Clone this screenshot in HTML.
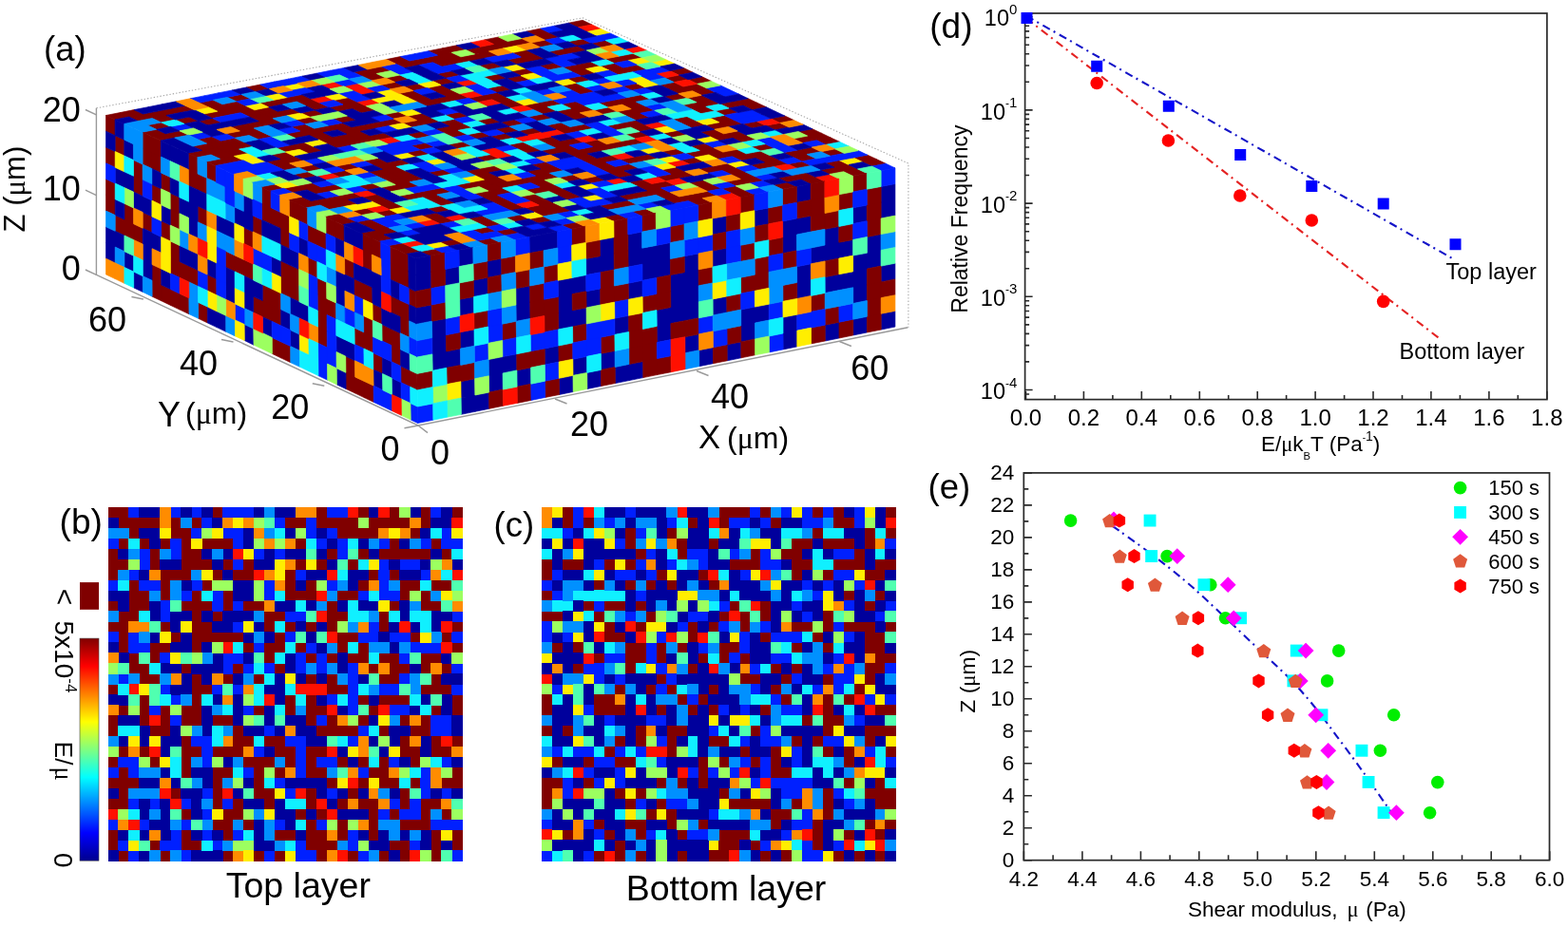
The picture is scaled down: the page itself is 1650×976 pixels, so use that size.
<!DOCTYPE html><html><head><meta charset="utf-8"><title>Figure</title><style>html,body{margin:0;padding:0;background:#fff;overflow:hidden}svg{display:block}</style></head><body><svg width="1650" height="976" viewBox="0 0 1650 976" font-family='"Liberation Sans", Arial, sans-serif' fill="#000">
<rect width="1650" height="976" fill="#fff"/>
<polyline points="101.5,113.8 613,18.8 955.9,172 955.9,344.7" fill="none" stroke="#a8a8a8" stroke-width="1.1" stroke-dasharray="1.4,2"/>
<path fill="#800000" stroke="#800000" stroke-width="0.7" stroke-linejoin="round" d="M613.1 21.3L622.8 25.9L608.0 28.8L598.3 24.2zM719.5 71.6L729.1 76.2L714.4 79.1L704.7 74.5zM738.8 80.8L748.5 85.4L733.7 88.3L724.0 83.7zM787.2 103.7L796.8 108.3L782.0 111.1L772.4 106.5zM796.8 108.3L806.5 112.8L791.7 115.7L782.0 111.1zM825.9 122.0L835.5 126.6L820.7 129.4L811.0 124.8zM854.9 135.7L864.5 140.3L849.7 143.1L840.0 138.5zM864.5 140.3L874.2 144.9L859.4 147.7L849.7 143.1zM874.2 144.9L883.9 149.4L869.0 152.3L859.4 147.7zM912.9 163.2L922.6 167.7L907.7 170.6L898.0 166.0zM922.6 167.7L932.2 172.3L917.4 175.1L907.7 170.6zM637.0 42.5L646.7 47.1L631.9 50.0L622.3 45.5zM666.0 56.3L675.7 60.8L660.9 63.7L651.2 59.2zM714.4 79.1L724.0 83.7L709.2 86.6L699.6 82.0zM733.7 88.3L743.4 92.8L728.6 95.7L718.9 91.1zM743.4 92.8L753.0 97.4L738.2 100.3L728.6 95.7zM772.4 106.5L782.0 111.1L767.2 114.0L757.6 109.4zM820.7 129.4L830.4 134.0L815.6 136.8L805.9 132.2zM849.7 143.1L859.4 147.7L844.5 150.5L834.9 146.0zM878.7 156.8L888.4 161.4L873.5 164.2L863.9 159.7zM612.6 40.9L622.3 45.5L607.5 48.4L597.8 43.8zM651.2 59.2L660.9 63.7L646.1 66.6L636.5 62.1zM670.6 68.3L680.2 72.9L665.5 75.8L655.8 71.2zM709.2 86.6L718.9 91.1L704.1 94.0L694.4 89.5zM718.9 91.1L728.6 95.7L713.8 98.6L704.1 94.0zM738.2 100.3L747.9 104.8L733.1 107.7L723.4 103.2zM747.9 104.8L757.6 109.4L742.8 112.3L733.1 107.7zM767.2 114.0L776.9 118.5L762.1 121.4L752.4 116.8zM796.2 127.7L805.9 132.2L791.1 135.1L781.4 130.5zM854.2 155.1L863.9 159.7L849.0 162.5L839.4 157.9zM883.2 168.8L892.9 173.4L878.0 176.2L868.4 171.6zM892.9 173.4L902.5 177.9L887.7 180.7L878.0 176.2zM902.5 177.9L912.2 182.5L897.3 185.3L887.7 180.7zM568.8 30.1L578.5 34.7L563.7 37.6L554.1 33.1zM578.5 34.7L588.2 39.3L573.4 42.2L563.7 37.6zM607.5 48.4L617.2 53.0L602.4 55.9L592.7 51.3zM646.1 66.6L655.8 71.2L641.0 74.1L631.4 69.6zM655.8 71.2L665.5 75.8L650.7 78.7L641.0 74.1zM713.8 98.6L723.4 103.2L708.6 106.0L699.0 101.5zM733.1 107.7L742.8 112.3L728.0 115.1L718.3 110.6zM742.8 112.3L752.4 116.8L737.6 119.7L728.0 115.1zM762.1 121.4L771.7 126.0L756.9 128.8L747.3 124.3zM771.7 126.0L781.4 130.5L766.6 133.4L756.9 128.8zM839.4 157.9L849.0 162.5L834.2 165.3L824.5 160.7zM849.0 162.5L858.7 167.0L843.9 169.9L834.2 165.3zM878.0 176.2L887.7 180.7L872.8 183.5L863.2 179.0zM573.4 42.2L583.1 46.8L568.3 49.7L558.6 45.1zM592.7 51.3L602.4 55.9L587.6 58.8L578.0 54.3zM621.7 65.0L631.4 69.6L616.6 72.5L606.9 67.9zM670.0 87.8L679.7 92.4L664.9 95.2L655.2 90.7zM756.9 128.8L766.6 133.4L751.8 136.2L742.1 131.7zM776.2 137.9L785.9 142.5L771.1 145.3L761.4 140.8zM785.9 142.5L795.6 147.1L780.7 149.9L771.1 145.3zM805.2 151.6L814.9 156.2L800.1 159.0L790.4 154.4zM843.9 169.9L853.5 174.4L838.7 177.2L829.0 172.7zM549.0 40.6L558.6 45.1L543.9 48.1L534.2 43.5zM606.9 67.9L616.6 72.5L601.8 75.4L592.2 70.8zM616.6 72.5L626.2 77.0L611.5 79.9L601.8 75.4zM674.5 99.8L684.2 104.4L669.4 107.2L659.7 102.7zM722.8 122.6L732.5 127.1L717.7 130.0L708.0 125.4zM732.5 127.1L742.1 131.7L727.3 134.5L717.7 130.0zM751.8 136.2L761.4 140.8L746.6 143.6L737.0 139.1zM761.4 140.8L771.1 145.3L756.3 148.2L746.6 143.6zM800.1 159.0L809.7 163.6L794.9 166.4L785.2 161.8zM809.7 163.6L819.4 168.1L804.5 170.9L794.9 166.4zM819.4 168.1L829.0 172.7L814.2 175.5L804.5 170.9zM848.3 181.8L858.0 186.3L843.1 189.1L833.5 184.6zM858.0 186.3L867.6 190.9L852.8 193.7L843.1 189.1zM524.6 39.0L534.2 43.5L519.5 46.5L509.8 41.9zM534.2 43.5L543.9 48.1L529.1 51.0L519.5 46.5zM553.5 52.6L563.2 57.2L548.4 60.1L538.8 55.6zM563.2 57.2L572.8 61.7L558.1 64.7L548.4 60.1zM582.5 66.3L592.2 70.8L577.4 73.7L567.7 69.2zM611.5 79.9L621.1 84.5L606.3 87.4L596.7 82.8zM659.7 102.7L669.4 107.2L654.6 110.1L644.9 105.6zM669.4 107.2L679.0 111.8L664.2 114.7L654.6 110.1zM679.0 111.8L688.7 116.3L673.9 119.2L664.2 114.7zM775.6 157.3L785.2 161.8L770.4 164.7L760.7 160.1zM785.2 161.8L794.9 166.4L780.0 169.2L770.4 164.7zM804.5 170.9L814.2 175.5L799.3 178.3L789.7 173.8zM833.5 184.6L843.1 189.1L828.3 191.9L818.6 187.4zM519.5 46.5L529.1 51.0L514.4 54.0L504.7 49.4zM548.4 60.1L558.1 64.7L543.3 67.6L533.7 63.0zM606.3 87.4L616.0 91.9L601.2 94.8L591.6 90.3zM616.0 91.9L625.6 96.5L610.8 99.4L601.2 94.8zM644.9 105.6L654.6 110.1L639.8 113.0L630.1 108.5zM664.2 114.7L673.9 119.2L659.1 122.1L649.4 117.5zM673.9 119.2L683.5 123.8L668.7 126.6L659.1 122.1zM712.5 137.4L722.1 141.9L707.3 144.8L697.7 140.2zM741.4 151.0L751.1 155.6L736.3 158.4L726.6 153.9zM751.1 155.6L760.7 160.1L745.9 162.9L736.3 158.4zM760.7 160.1L770.4 164.7L755.6 167.5L745.9 162.9zM828.3 191.9L838.0 196.5L823.1 199.3L813.5 194.7zM504.7 49.4L514.4 54.0L499.6 56.9L490.0 52.4zM514.4 54.0L524.0 58.5L509.3 61.4L499.6 56.9zM553.0 72.1L562.6 76.7L547.8 79.6L538.2 75.0zM639.8 113.0L649.4 117.5L634.6 120.4L625.0 115.9zM668.7 126.6L678.4 131.2L663.6 134.0L653.9 129.5zM678.4 131.2L688.0 135.7L673.2 138.6L663.6 134.0zM736.3 158.4L745.9 162.9L731.1 165.8L721.4 161.2zM765.2 172.0L774.9 176.6L760.0 179.4L750.4 174.9zM774.9 176.6L784.5 181.1L769.7 183.9L760.0 179.4zM784.5 181.1L794.2 185.7L779.3 188.5L769.7 183.9zM794.2 185.7L803.8 190.2L789.0 193.0L779.3 188.5zM480.3 47.8L490.0 52.4L475.2 55.3L465.6 50.8zM499.6 56.9L509.3 61.4L494.5 64.4L484.9 59.8zM518.9 66.0L528.5 70.5L513.8 73.4L504.1 68.9zM547.8 79.6L557.5 84.1L542.7 87.0L533.1 82.5zM605.7 106.8L615.4 111.3L600.6 114.2L590.9 109.7zM615.4 111.3L625.0 115.9L610.2 118.8L600.6 114.2zM653.9 129.5L663.6 134.0L648.8 136.9L639.1 132.4zM673.2 138.6L682.9 143.1L668.1 145.9L658.4 141.4zM711.8 156.7L721.4 161.2L706.6 164.1L697.0 159.5zM731.1 165.8L740.7 170.3L725.9 173.1L716.3 168.6zM750.4 174.9L760.0 179.4L745.2 182.2L735.5 177.7zM779.3 188.5L789.0 193.0L774.1 195.8L764.5 191.3zM465.6 50.8L475.2 55.3L460.5 58.2L450.8 53.7zM475.2 55.3L484.9 59.8L470.1 62.8L460.5 58.2zM484.9 59.8L494.5 64.4L479.7 67.3L470.1 62.8zM523.4 78.0L533.1 82.5L518.3 85.4L508.7 80.9zM581.3 105.2L590.9 109.7L576.1 112.6L566.5 108.1zM600.6 114.2L610.2 118.8L595.4 121.6L585.8 117.1zM610.2 118.8L619.8 123.3L605.0 126.2L595.4 121.6zM668.1 145.9L677.7 150.5L662.9 153.3L653.2 148.8zM774.1 195.8L783.8 200.3L768.9 203.1L759.3 198.6zM783.8 200.3L793.4 204.9L778.6 207.7L768.9 203.1zM460.5 58.2L470.1 62.8L455.3 65.7L445.7 61.2zM470.1 62.8L479.7 67.3L465.0 70.2L455.3 65.7zM527.9 89.9L537.6 94.5L522.8 97.4L513.2 92.9zM566.5 108.1L576.1 112.6L561.3 115.5L551.7 110.9zM576.1 112.6L585.8 117.1L571.0 120.0L561.3 115.5zM614.7 130.7L624.3 135.2L609.5 138.1L599.9 133.6zM653.2 148.8L662.9 153.3L648.1 156.2L638.4 151.7zM682.2 162.4L691.8 166.9L677.0 169.8L667.3 165.2zM711.1 176.0L720.7 180.5L705.9 183.3L696.2 178.8zM720.7 180.5L730.4 185.0L715.5 187.8L705.9 183.3zM740.0 189.6L749.6 194.1L734.8 196.9L725.2 192.4zM749.6 194.1L759.3 198.6L744.4 201.4L734.8 196.9zM445.7 61.2L455.3 65.7L440.6 68.6L430.9 64.1zM474.6 74.8L484.2 79.3L469.5 82.2L459.8 77.7zM522.8 97.4L532.4 101.9L517.6 104.8L508.0 100.3zM532.4 101.9L542.1 106.4L527.3 109.3L517.6 104.8zM542.1 106.4L551.7 110.9L536.9 113.8L527.3 109.3zM571.0 120.0L580.6 124.5L565.8 127.4L556.2 122.9zM590.2 129.0L599.9 133.6L585.1 136.4L575.4 131.9zM599.9 133.6L609.5 138.1L594.7 141.0L585.1 136.4zM628.8 147.1L638.4 151.7L623.6 154.5L614.0 150.0zM638.4 151.7L648.1 156.2L633.2 159.0L623.6 154.5zM667.3 165.2L677.0 169.8L662.1 172.6L652.5 168.1zM705.9 183.3L715.5 187.8L700.7 190.7L691.0 186.1zM744.4 201.4L754.1 205.9L739.2 208.7L729.6 204.2zM421.3 59.6L430.9 64.1L416.2 67.1L406.6 62.6zM430.9 64.1L440.6 68.6L425.8 71.6L416.2 67.1zM469.5 82.2L479.1 86.7L464.3 89.6L454.7 85.1zM508.0 100.3L517.6 104.8L502.9 107.7L493.2 103.2zM604.3 145.5L614.0 150.0L599.2 152.9L589.5 148.3zM623.6 154.5L633.2 159.0L618.4 161.9L608.8 157.4zM642.9 163.6L652.5 168.1L637.7 170.9L628.1 166.4zM662.1 172.6L671.8 177.1L657.0 179.9L647.3 175.4zM700.7 190.7L710.3 195.2L695.5 198.0L685.8 193.5zM729.6 204.2L739.2 208.7L724.4 211.5L714.7 207.0zM739.2 208.7L748.8 213.3L734.0 216.1L724.4 211.5zM464.3 89.6L474.0 94.2L459.2 97.1L449.6 92.6zM474.0 94.2L483.6 98.7L468.8 101.6L459.2 97.1zM483.6 98.7L493.2 103.2L478.5 106.1L468.8 101.6zM541.4 125.8L551.0 130.3L536.2 133.2L526.6 128.7zM560.6 134.8L570.3 139.3L555.5 142.2L545.9 137.7zM579.9 143.8L589.5 148.3L574.7 151.2L565.1 146.7zM589.5 148.3L599.2 152.9L584.4 155.7L574.7 151.2zM599.2 152.9L608.8 157.4L594.0 160.2L584.4 155.7zM608.8 157.4L618.4 161.9L603.6 164.7L594.0 160.2zM618.4 161.9L628.1 166.4L613.2 169.2L603.6 164.7zM628.1 166.4L637.7 170.9L622.9 173.8L613.2 169.2zM637.7 170.9L647.3 175.4L632.5 178.3L622.9 173.8zM647.3 175.4L657.0 179.9L642.1 182.8L632.5 178.3zM657.0 179.9L666.6 184.5L651.8 187.3L642.1 182.8zM676.2 189.0L685.8 193.5L671.0 196.3L661.4 191.8zM685.8 193.5L695.5 198.0L680.6 200.8L671.0 196.3zM695.5 198.0L705.1 202.5L690.3 205.3L680.6 200.8zM705.1 202.5L714.7 207.0L699.9 209.8L690.3 205.3zM714.7 207.0L724.4 211.5L709.5 214.3L699.9 209.8zM401.4 70.0L411.1 74.5L396.3 77.5L386.7 73.0zM420.7 79.0L430.3 83.5L415.6 86.5L405.9 82.0zM439.9 88.1L449.6 92.6L434.8 95.5L425.2 91.0zM468.8 101.6L478.5 106.1L463.7 109.0L454.1 104.5zM517.0 124.1L526.6 128.7L511.8 131.5L502.2 127.0zM536.2 133.2L545.9 137.7L531.1 140.5L521.4 136.0zM584.4 155.7L594.0 160.2L579.2 163.1L569.6 158.6zM680.6 200.8L690.3 205.3L675.4 208.1L665.8 203.6zM386.7 73.0L396.3 77.5L381.5 80.4L371.9 75.9zM396.3 77.5L405.9 82.0L391.2 84.9L381.5 80.4zM415.6 86.5L425.2 91.0L410.4 93.9L400.8 89.4zM434.8 95.5L444.4 100.0L429.7 102.9L420.0 98.4zM444.4 100.0L454.1 104.5L439.3 107.4L429.7 102.9zM454.1 104.5L463.7 109.0L448.9 111.9L439.3 107.4zM482.9 118.0L492.6 122.5L477.8 125.4L468.1 120.9zM531.1 140.5L540.7 145.1L525.9 147.9L516.3 143.4zM550.3 149.6L559.9 154.1L545.1 156.9L535.5 152.4zM559.9 154.1L569.6 158.6L554.7 161.4L545.1 156.9zM627.3 185.6L636.9 190.1L622.1 192.9L612.5 188.4zM665.8 203.6L675.4 208.1L660.6 210.9L651.0 206.4zM477.8 125.4L487.4 129.9L472.6 132.8L463.0 128.3zM487.4 129.9L497.0 134.4L482.2 137.3L472.6 132.8zM506.6 138.9L516.3 143.4L501.5 146.3L491.8 141.8zM574.0 170.4L583.6 174.9L568.8 177.8L559.2 173.3zM583.6 174.9L593.2 179.4L578.4 182.3L568.8 177.8zM602.9 183.9L612.5 188.4L597.6 191.3L588.0 186.8zM660.6 210.9L670.2 215.4L655.4 218.3L645.7 213.8zM679.8 219.9L689.5 224.4L674.6 227.2L665.0 222.8zM443.7 119.3L453.4 123.8L438.6 126.7L429.0 122.2zM453.4 123.8L463.0 128.3L448.2 131.2L438.6 126.7zM472.6 132.8L482.2 137.3L467.4 140.2L457.8 135.7zM482.2 137.3L491.8 141.8L477.0 144.7L467.4 140.2zM568.8 177.8L578.4 182.3L563.6 185.1L554.0 180.6zM578.4 182.3L588.0 186.8L573.2 189.6L563.6 185.1zM645.7 213.8L655.4 218.3L640.5 221.1L630.9 216.6zM419.3 117.7L429.0 122.2L414.2 125.1L404.6 120.6zM438.6 126.7L448.2 131.2L433.4 134.1L423.8 129.6zM486.7 149.2L496.3 153.7L481.5 156.5L471.9 152.1zM515.5 162.7L525.1 167.1L510.3 170.0L500.7 165.5zM563.6 185.1L573.2 189.6L558.4 192.4L548.8 188.0zM573.2 189.6L582.8 194.1L568.0 196.9L558.4 192.4zM582.8 194.1L592.4 198.6L577.6 201.4L568.0 196.9zM592.4 198.6L602.1 203.1L587.2 205.9L577.6 201.4zM602.1 203.1L611.7 207.6L596.8 210.4L587.2 205.9zM650.1 225.6L659.8 230.0L644.9 232.8L635.3 228.4zM366.1 102.7L375.7 107.2L361.0 110.1L351.3 105.6zM375.7 107.2L385.3 111.7L370.6 114.6L361.0 110.1zM385.3 111.7L394.9 116.1L380.2 119.1L370.6 114.6zM414.2 125.1L423.8 129.6L409.0 132.5L399.4 128.0zM443.0 138.6L452.6 143.1L437.8 146.0L428.2 141.5zM519.9 174.5L529.5 179.0L514.7 181.8L505.1 177.3zM548.8 188.0L558.4 192.4L543.6 195.3L533.9 190.8zM568.0 196.9L577.6 201.4L562.8 204.3L553.2 199.8zM361.0 110.1L370.6 114.6L355.8 117.5L346.2 113.0zM399.4 128.0L409.0 132.5L394.2 135.4L384.6 130.9zM447.4 150.4L457.1 154.9L442.3 157.8L432.7 153.3zM505.1 177.3L514.7 181.8L499.9 184.7L490.3 180.2zM514.7 181.8L524.3 186.3L509.5 189.2L499.9 184.7zM524.3 186.3L533.9 190.8L519.1 193.6L509.5 189.2zM533.9 190.8L543.6 195.3L528.7 198.1L519.1 193.6zM562.8 204.3L572.4 208.7L557.6 211.6L547.9 207.1zM572.4 208.7L582.0 213.2L567.2 216.0L557.6 211.6zM582.0 213.2L591.6 217.7L576.8 220.5L567.2 216.0zM591.6 217.7L601.2 222.2L586.4 225.0L576.8 220.5zM317.4 99.6L327.0 104.1L312.2 107.0L302.6 102.5zM327.0 104.1L336.6 108.5L321.8 111.5L312.2 107.0zM336.6 108.5L346.2 113.0L331.4 115.9L321.8 111.5zM365.4 122.0L375.0 126.5L360.2 129.4L350.6 124.9zM384.6 130.9L394.2 135.4L379.4 138.3L369.8 133.8zM403.8 139.9L413.4 144.4L398.6 147.3L389.0 142.8zM442.3 157.8L451.9 162.3L437.1 165.2L427.5 160.7zM509.5 189.2L519.1 193.6L504.3 196.5L494.7 192.0zM519.1 193.6L528.7 198.1L513.9 201.0L504.3 196.5zM528.7 198.1L538.3 202.6L523.5 205.4L513.9 201.0zM567.2 216.0L576.8 220.5L561.9 223.3L552.3 218.9zM576.8 220.5L586.4 225.0L571.5 227.8L561.9 223.3zM605.6 234.0L615.2 238.4L600.3 241.2L590.7 236.8zM273.8 89.1L283.4 93.6L268.6 96.5L259.0 92.0zM302.6 102.5L312.2 107.0L297.4 109.9L287.8 105.4zM331.4 115.9L341.0 120.4L326.2 123.3L316.6 118.9zM360.2 129.4L369.8 133.8L355.1 136.7L345.4 132.3zM369.8 133.8L379.4 138.3L364.7 141.2L355.1 136.7zM379.4 138.3L389.0 142.8L374.3 145.7L364.7 141.2zM389.0 142.8L398.6 147.3L383.9 150.1L374.3 145.7zM465.9 178.6L475.5 183.1L460.7 185.9L451.1 181.4zM494.7 192.0L504.3 196.5L489.5 199.3L479.9 194.9zM513.9 201.0L523.5 205.4L508.7 208.3L499.1 203.8zM523.5 205.4L533.1 209.9L518.3 212.7L508.7 208.3zM533.1 209.9L542.7 214.4L527.9 217.2L518.3 212.7zM542.7 214.4L552.3 218.9L537.5 221.7L527.9 217.2zM571.5 227.8L581.1 232.3L566.3 235.1L556.7 230.6zM287.8 105.4L297.4 109.9L282.7 112.8L273.1 108.4zM307.0 114.4L316.6 118.9L301.9 121.8L292.3 117.3zM326.2 123.3L335.8 127.8L321.1 130.7L311.5 126.2zM345.4 132.3L355.1 136.7L340.3 139.6L330.7 135.2zM364.7 141.2L374.3 145.7L359.5 148.6L349.9 144.1zM374.3 145.7L383.9 150.1L369.1 153.0L359.5 148.6zM422.3 168.0L431.9 172.5L417.1 175.4L407.5 170.9zM547.1 226.1L556.7 230.6L541.9 233.4L532.3 229.0zM253.9 99.4L263.5 103.9L248.7 106.8L239.1 102.4zM282.7 112.8L292.3 117.3L277.5 120.2L267.9 115.8zM292.3 117.3L301.9 121.8L287.1 124.7L277.5 120.2zM321.1 130.7L330.7 135.2L315.9 138.1L306.3 133.6zM330.7 135.2L340.3 139.6L325.5 142.5L315.9 138.1zM340.3 139.6L349.9 144.1L335.1 147.0L325.5 142.5zM349.9 144.1L359.5 148.6L344.7 151.5L335.1 147.0zM359.5 148.6L369.1 153.0L354.3 155.9L344.7 151.5zM397.9 166.4L407.5 170.9L392.7 173.8L383.1 169.3zM407.5 170.9L417.1 175.4L402.3 178.2L392.7 173.8zM417.1 175.4L426.7 179.8L411.9 182.7L402.3 178.2zM426.7 179.8L436.3 184.3L421.5 187.2L411.9 182.7zM436.3 184.3L445.9 188.8L431.0 191.6L421.5 187.2zM465.1 197.7L474.7 202.2L459.8 205.0L450.2 200.5zM248.7 106.8L258.3 111.3L243.6 114.2L234.0 109.8zM258.3 111.3L267.9 115.8L253.1 118.7L243.6 114.2zM267.9 115.8L277.5 120.2L262.7 123.2L253.1 118.7zM277.5 120.2L287.1 124.7L272.3 127.6L262.7 123.2zM287.1 124.7L296.7 129.2L281.9 132.1L272.3 127.6zM315.9 138.1L325.5 142.5L310.7 145.4L301.1 141.0zM402.3 178.2L411.9 182.7L397.0 185.6L387.5 181.1zM411.9 182.7L421.5 187.2L406.6 190.0L397.0 185.6zM421.5 187.2L431.0 191.6L416.2 194.5L406.6 190.0zM431.0 191.6L440.6 196.1L425.8 198.9L416.2 194.5zM450.2 200.5L459.8 205.0L445.0 207.8L435.4 203.4zM459.8 205.0L469.4 209.5L454.6 212.3L445.0 207.8zM469.4 209.5L479.0 213.9L464.2 216.8L454.6 212.3zM507.8 227.3L517.4 231.8L502.6 234.6L493.0 230.1zM517.4 231.8L527.0 236.2L512.2 239.0L502.6 234.6zM536.6 240.7L546.2 245.2L531.4 248.0L521.8 243.5zM224.4 105.3L234.0 109.8L219.2 112.7L209.6 108.3zM234.0 109.8L243.6 114.2L228.8 117.2L219.2 112.7zM243.6 114.2L253.1 118.7L238.4 121.6L228.8 117.2zM272.3 127.6L281.9 132.1L267.2 135.0L257.6 130.5zM320.3 149.9L329.9 154.4L315.1 157.3L305.5 152.8zM329.9 154.4L339.5 158.8L324.7 161.7L315.1 157.3zM368.3 172.2L377.9 176.6L363.1 179.5L353.5 175.1zM416.2 194.5L425.8 198.9L411.0 201.8L401.4 197.3zM435.4 203.4L445.0 207.8L430.2 210.7L420.6 206.2zM464.2 216.8L473.8 221.2L459.0 224.0L449.4 219.6zM512.2 239.0L521.8 243.5L506.9 246.3L497.3 241.9zM228.8 117.2L238.4 121.6L223.6 124.6L214.0 120.1zM257.6 130.5L267.2 135.0L252.4 137.9L242.8 133.5zM267.2 135.0L276.7 139.4L262.0 142.4L252.4 137.9zM276.7 139.4L286.3 143.9L271.6 146.8L262.0 142.4zM305.5 152.8L315.1 157.3L300.3 160.1L290.7 155.7zM363.1 179.5L372.6 184.0L357.8 186.8L348.3 182.4zM391.8 192.9L401.4 197.3L386.6 200.2L377.0 195.7zM459.0 224.0L468.6 228.5L453.7 231.3L444.1 226.9zM468.6 228.5L478.1 233.0L463.3 235.8L453.7 231.3zM516.5 250.8L526.1 255.2L511.2 258.0L501.7 253.6zM194.9 111.2L204.4 115.7L189.7 118.6L180.1 114.2zM223.6 124.6L233.2 129.0L218.4 131.9L208.9 127.5zM252.4 137.9L262.0 142.4L247.2 145.3L237.6 140.8zM300.3 160.1L309.9 164.6L295.1 167.5L285.5 163.0zM309.9 164.6L319.5 169.0L304.7 171.9L295.1 167.5zM329.1 173.5L338.7 177.9L323.9 180.8L314.3 176.4zM396.2 204.6L405.8 209.1L391.0 211.9L381.4 207.5zM405.8 209.1L415.4 213.5L400.6 216.4L391.0 211.9zM415.4 213.5L425.0 218.0L410.1 220.8L400.6 216.4zM180.1 114.2L189.7 118.6L174.9 121.5L165.3 117.1zM199.3 123.0L208.9 127.5L194.1 130.4L184.5 126.0zM247.2 145.3L256.8 149.7L242.0 152.6L232.4 148.2zM256.8 149.7L266.4 154.2L251.6 157.1L242.0 152.6zM295.1 167.5L304.7 171.9L289.9 174.8L280.3 170.4zM304.7 171.9L314.3 176.4L299.5 179.3L289.9 174.8zM323.9 180.8L333.5 185.3L318.7 188.1L309.1 183.7zM352.6 194.2L362.2 198.6L347.4 201.5L337.8 197.0zM371.8 203.0L381.4 207.5L366.6 210.3L357.0 205.9zM410.1 220.8L419.7 225.3L404.9 228.1L395.3 223.7zM477.2 251.9L486.8 256.4L472.0 259.2L462.4 254.7zM165.3 117.1L174.9 121.5L160.2 124.5L150.6 120.0zM174.9 121.5L184.5 126.0L169.7 128.9L160.2 124.5zM222.8 143.7L232.4 148.2L217.6 151.1L208.1 146.7zM232.4 148.2L242.0 152.6L227.2 155.5L217.6 151.1zM242.0 152.6L251.6 157.1L236.8 160.0L227.2 155.5zM251.6 157.1L261.2 161.5L246.4 164.4L236.8 160.0zM328.2 192.6L337.8 197.0L323.0 199.9L313.4 195.4zM337.8 197.0L347.4 201.5L332.6 204.3L323.0 199.9zM357.0 205.9L366.6 210.3L351.7 213.2L342.2 208.7zM366.6 210.3L376.1 214.8L361.3 217.6L351.7 213.2zM385.7 219.2L395.3 223.7L380.5 226.5L370.9 222.1zM141.0 115.6L150.6 120.0L135.8 123.0L126.3 118.6zM150.6 120.0L160.2 124.5L145.4 127.4L135.8 123.0zM169.7 128.9L179.3 133.3L164.6 136.3L155.0 131.8zM188.9 137.8L198.5 142.2L183.7 145.1L174.1 140.7zM217.6 151.1L227.2 155.5L212.4 158.4L202.9 154.0zM227.2 155.5L236.8 160.0L222.0 162.9L212.4 158.4zM236.8 160.0L246.4 164.4L231.6 167.3L222.0 162.9zM246.4 164.4L256.0 168.8L241.2 171.7L231.6 167.3zM313.4 195.4L323.0 199.9L308.2 202.7L298.6 198.3zM342.2 208.7L351.7 213.2L336.9 216.0L327.4 211.6zM351.7 213.2L361.3 217.6L346.5 220.5L336.9 216.0zM390.1 230.9L399.6 235.4L384.8 238.2L375.2 233.8zM399.6 235.4L409.2 239.8L394.4 242.6L384.8 238.2zM409.2 239.8L418.8 244.2L404.0 247.0L394.4 242.6zM457.1 262.0L466.7 266.4L451.8 269.2L442.3 264.8zM126.3 118.6L135.8 123.0L121.1 125.9L111.5 121.5zM164.6 136.3L174.1 140.7L159.4 143.6L149.8 139.2zM174.1 140.7L183.7 145.1L168.9 148.1L159.4 143.6zM212.4 158.4L222.0 162.9L207.2 165.8L197.7 161.3zM231.6 167.3L241.2 171.7L226.4 174.6L216.8 170.2zM289.1 193.9L298.6 198.3L283.8 201.2L274.2 196.8zM317.8 207.2L327.4 211.6L312.5 214.5L303.0 210.0zM327.4 211.6L336.9 216.0L322.1 218.9L312.5 214.5zM356.1 224.9L365.7 229.3L350.8 232.2L341.3 227.7zM365.7 229.3L375.2 233.8L360.4 236.6L350.8 232.2zM394.4 242.6L404.0 247.0L389.1 249.9L379.6 245.4zM404.0 247.0L413.5 251.5L398.7 254.3L389.1 249.9zM423.1 255.9L432.7 260.3L417.9 263.1L408.3 258.7zM432.7 260.3L442.3 264.8L427.4 267.6L417.9 263.1z"/>
<path fill="#ff1000" stroke="#ff1000" stroke-width="0.7" stroke-linejoin="round" d="M622.8 25.9L632.4 30.5L617.7 33.4L608.0 28.8zM671.1 48.8L680.8 53.3L666.0 56.3L656.4 51.7zM704.7 74.5L714.4 79.1L699.6 82.0L689.9 77.4zM724.0 83.7L733.7 88.3L718.9 91.1L709.2 86.6zM811.0 124.8L820.7 129.4L805.9 132.2L796.2 127.7zM872.8 183.5L882.5 188.1L867.6 190.9L858.0 186.3zM829.0 172.7L838.7 177.2L823.8 180.0L814.2 175.5zM509.8 41.9L519.5 46.5L504.7 49.4L495.1 44.9zM693.2 128.3L702.8 132.8L688.0 135.7L678.4 131.2zM682.9 143.1L692.5 147.6L677.7 150.5L668.1 145.9zM716.3 168.6L725.9 173.1L711.1 176.0L701.4 171.4zM768.9 203.1L778.6 207.7L763.7 210.5L754.1 205.9zM493.9 83.8L503.5 88.3L488.7 91.2L479.1 86.7zM551.7 110.9L561.3 115.5L546.5 118.4L536.9 113.8zM619.2 142.6L628.8 147.1L614.0 150.0L604.3 145.5zM657.7 160.7L667.3 165.2L652.5 168.1L642.9 163.6zM715.5 187.8L725.2 192.4L710.3 195.2L700.7 190.7zM498.4 95.8L508.0 100.3L493.2 103.2L483.6 98.7zM517.6 104.8L527.3 109.3L512.5 112.2L502.9 107.7zM585.1 136.4L594.7 141.0L579.9 143.8L570.3 139.3zM691.0 186.1L700.7 190.7L685.8 193.5L676.2 189.0zM570.3 139.3L579.9 143.8L565.1 146.7L555.5 142.2zM555.5 142.2L565.1 146.7L550.3 149.6L540.7 145.1zM651.8 187.3L661.4 191.8L646.6 194.6L636.9 190.1zM376.4 87.8L386.0 92.3L371.3 95.3L361.6 90.8zM386.0 92.3L395.6 96.8L380.9 99.8L371.3 95.3zM520.7 155.3L530.3 159.8L515.5 162.7L505.9 158.2zM530.3 159.8L539.9 164.3L525.1 167.1L515.5 162.7zM352.0 86.3L361.6 90.8L346.9 93.7L337.3 89.2zM390.5 104.2L400.1 108.7L385.3 111.7L375.7 107.2zM341.7 101.1L351.3 105.6L336.6 108.5L327.0 104.1zM413.4 144.4L423.0 148.8L408.3 151.7L398.6 147.3zM557.6 211.6L567.2 216.0L552.3 218.9L542.7 214.4zM483.4 225.7L493.0 230.1L478.1 233.0L468.6 228.5zM348.3 182.4L357.8 186.8L343.0 189.7L333.5 185.3zM386.6 200.2L396.2 204.6L381.4 207.5L371.8 203.0zM453.7 231.3L463.3 235.8L448.5 238.6L438.9 234.1zM400.6 216.4L410.1 220.8L395.3 223.7L385.7 219.2zM438.0 253.1L447.5 257.5L432.7 260.3L423.1 255.9z"/>
<path fill="#ffee00" stroke="#ffee00" stroke-width="0.7" stroke-linejoin="round" d="M632.4 30.5L642.1 35.0L627.4 38.0L617.7 33.4zM700.1 62.5L709.8 67.1L695.0 70.0L685.4 65.4zM675.7 60.8L685.4 65.4L670.6 68.3L660.9 63.7zM898.0 166.0L907.7 170.6L892.9 173.4L883.2 168.8zM675.1 80.3L684.8 84.9L670.0 87.8L660.3 83.2zM684.8 84.9L694.4 89.5L679.7 92.4L670.0 87.8zM631.4 69.6L641.0 74.1L626.2 77.0L616.6 72.5zM747.3 124.3L756.9 128.8L742.1 131.7L732.5 127.1zM543.9 48.1L553.5 52.6L538.8 55.6L529.1 51.0zM746.6 143.6L756.3 148.2L741.4 151.0L731.8 146.5zM596.7 82.8L606.3 87.4L591.6 90.3L581.9 85.7zM702.8 132.8L712.5 137.4L697.7 140.2L688.0 135.7zM780.0 169.2L789.7 173.8L774.9 176.6L765.2 172.0zM543.3 67.6L553.0 72.1L538.2 75.0L528.5 70.5zM562.6 76.7L572.3 81.2L557.5 84.1L547.8 79.6zM745.9 162.9L755.6 167.5L740.7 170.3L731.1 165.8zM687.3 155.0L697.0 159.5L682.2 162.4L672.5 157.9zM706.6 164.1L716.3 168.6L701.4 171.4L691.8 166.9zM556.8 103.5L566.5 108.1L551.7 110.9L542.1 106.4zM701.4 171.4L711.1 176.0L696.2 178.8L686.6 174.3zM454.7 85.1L464.3 89.6L449.6 92.6L439.9 88.1zM410.4 93.9L420.0 98.4L405.3 101.3L395.6 96.8zM420.0 98.4L429.7 102.9L414.9 105.8L405.3 101.3zM429.7 102.9L439.3 107.4L424.5 110.3L414.9 105.8zM622.1 192.9L631.7 197.4L616.9 200.3L607.3 195.8zM405.3 101.3L414.9 105.8L400.1 108.7L390.5 104.2zM434.1 114.8L443.7 119.3L429.0 122.2L419.3 117.7zM626.5 204.8L636.1 209.3L621.3 212.1L611.7 207.6zM356.5 98.2L366.1 102.7L351.3 105.6L341.7 101.1zM423.8 129.6L433.4 134.1L418.6 137.0L409.0 132.5zM635.3 228.4L644.9 232.8L630.0 235.6L620.4 231.2zM312.9 87.7L322.5 92.2L307.8 95.1L298.1 90.6zM461.5 166.8L471.1 171.2L456.3 174.1L446.7 169.6zM499.9 184.7L509.5 189.2L494.7 192.0L485.1 187.5zM293.0 98.0L302.6 102.5L287.8 105.4L278.2 101.0zM427.5 160.7L437.1 165.2L422.3 168.0L412.7 163.6zM561.9 223.3L571.5 227.8L556.7 230.6L547.1 226.1zM316.6 118.9L326.2 123.3L311.5 126.2L301.9 121.8zM273.1 108.4L282.7 112.8L267.9 115.8L258.3 111.3zM335.1 147.0L344.7 151.5L329.9 154.4L320.3 149.9zM219.2 112.7L228.8 117.2L214.0 120.1L204.4 115.7zM315.1 157.3L324.7 161.7L309.9 164.6L300.3 160.1zM425.0 218.0L434.5 222.4L419.7 225.3L410.1 220.8zM391.0 211.9L400.6 216.4L385.7 219.2L376.1 214.8zM261.2 161.5L270.7 165.9L256.0 168.8L246.4 164.4zM270.7 165.9L280.3 170.4L265.5 173.3L256.0 168.8zM376.1 214.8L385.7 219.2L370.9 222.1L361.3 217.6zM462.4 254.7L472.0 259.2L457.1 262.0L447.5 257.5zM303.9 191.0L313.4 195.4L298.6 198.3L289.1 193.9z"/>
<path fill="#0020ff" stroke="#0020ff" stroke-width="0.7" stroke-linejoin="round" d="M642.1 35.0L651.8 39.6L637.0 42.5L627.4 38.0zM758.2 89.9L767.8 94.5L753.0 97.4L743.4 92.8zM767.8 94.5L777.5 99.1L762.7 102.0L753.0 97.4zM903.2 158.6L912.9 163.2L898.0 166.0L888.4 161.4zM932.2 172.3L941.9 176.9L927.0 179.7L917.4 175.1zM627.4 38.0L637.0 42.5L622.3 45.5L612.6 40.9zM695.0 70.0L704.7 74.5L689.9 77.4L680.2 72.9zM791.7 115.7L801.4 120.3L786.6 123.1L776.9 118.5zM801.4 120.3L811.0 124.8L796.2 127.7L786.6 123.1zM859.4 147.7L869.0 152.3L854.2 155.1L844.5 150.5zM888.4 161.4L898.0 166.0L883.2 168.8L873.5 164.2zM583.6 27.2L593.3 31.8L578.5 34.7L568.8 30.1zM660.9 63.7L670.6 68.3L655.8 71.2L646.1 66.6zM680.2 72.9L689.9 77.4L675.1 80.3L665.5 75.8zM689.9 77.4L699.6 82.0L684.8 84.9L675.1 80.3zM776.9 118.5L786.6 123.1L771.7 126.0L762.1 121.4zM786.6 123.1L796.2 127.7L781.4 130.5L771.7 126.0zM873.5 164.2L883.2 168.8L868.4 171.6L858.7 167.0zM588.2 39.3L597.8 43.8L583.1 46.8L573.4 42.2zM810.4 144.2L820.1 148.8L805.2 151.6L795.6 147.1zM820.1 148.8L829.7 153.3L814.9 156.2L805.2 151.6zM829.7 153.3L839.4 157.9L824.5 160.7L814.9 156.2zM858.7 167.0L868.4 171.6L853.5 174.4L843.9 169.9zM602.4 55.9L612.0 60.4L597.3 63.4L587.6 58.8zM641.0 74.1L650.7 78.7L635.9 81.6L626.2 77.0zM660.3 83.2L670.0 87.8L655.2 90.7L645.6 86.1zM679.7 92.4L689.3 96.9L674.5 99.8L664.9 95.2zM834.2 165.3L843.9 169.9L829.0 172.7L819.4 168.1zM587.6 58.8L597.3 63.4L582.5 66.3L572.8 61.7zM597.3 63.4L606.9 67.9L592.2 70.8L582.5 66.3zM635.9 81.6L645.6 86.1L630.8 89.0L621.1 84.5zM655.2 90.7L664.9 95.2L650.1 98.1L640.4 93.6zM693.8 108.9L703.5 113.5L688.7 116.3L679.0 111.8zM601.8 75.4L611.5 79.9L596.7 82.8L587.0 78.3zM630.8 89.0L640.4 93.6L625.6 96.5L616.0 91.9zM650.1 98.1L659.7 102.7L644.9 105.6L635.3 101.0zM688.7 116.3L698.3 120.9L683.5 123.8L673.9 119.2zM756.3 148.2L765.9 152.7L751.1 155.6L741.4 151.0zM538.8 55.6L548.4 60.1L533.7 63.0L524.0 58.5zM567.7 69.2L577.4 73.7L562.6 76.7L553.0 72.1zM577.4 73.7L587.0 78.3L572.3 81.2L562.6 76.7zM587.0 78.3L596.7 82.8L581.9 85.7L572.3 81.2zM625.6 96.5L635.3 101.0L620.5 103.9L610.8 99.4zM635.3 101.0L644.9 105.6L630.1 108.5L620.5 103.9zM770.4 164.7L780.0 169.2L765.2 172.0L755.6 167.5zM789.7 173.8L799.3 178.3L784.5 181.1L774.9 176.6zM809.0 182.8L818.6 187.4L803.8 190.2L794.2 185.7zM524.0 58.5L533.7 63.0L518.9 66.0L509.3 61.4zM601.2 94.8L610.8 99.4L596.1 102.3L586.4 97.7zM610.8 99.4L620.5 103.9L605.7 106.8L596.1 102.3zM620.5 103.9L630.1 108.5L615.4 111.3L605.7 106.8zM803.8 190.2L813.5 194.7L798.6 197.5L789.0 193.0zM557.5 84.1L567.1 88.7L552.3 91.6L542.7 87.0zM576.8 93.2L586.4 97.7L571.6 100.6L562.0 96.1zM596.1 102.3L605.7 106.8L590.9 109.7L581.3 105.2zM721.4 161.2L731.1 165.8L716.3 168.6L706.6 164.1zM760.0 179.4L769.7 183.9L754.8 186.7L745.2 182.2zM798.6 197.5L808.2 202.1L793.4 204.9L783.8 200.3zM629.5 127.8L639.1 132.4L624.3 135.2L614.7 130.7zM639.1 132.4L648.8 136.9L634.0 139.7L624.3 135.2zM648.8 136.9L658.4 141.4L643.6 144.3L634.0 139.7zM764.5 191.3L774.1 195.8L759.3 198.6L749.6 194.1zM450.8 53.7L460.5 58.2L445.7 61.2L436.1 56.7zM479.7 67.3L489.4 71.8L474.6 74.8L465.0 70.2zM759.3 198.6L768.9 203.1L754.1 205.9L744.4 201.4zM436.1 56.7L445.7 61.2L430.9 64.1L421.3 59.6zM455.3 65.7L465.0 70.2L450.2 73.2L440.6 68.6zM465.0 70.2L474.6 74.8L459.8 77.7L450.2 73.2zM484.2 79.3L493.9 83.8L479.1 86.7L469.5 82.2zM503.5 88.3L513.2 92.9L498.4 95.8L488.7 91.2zM513.2 92.9L522.8 97.4L508.0 100.3L498.4 95.8zM609.5 138.1L619.2 142.6L604.3 145.5L594.7 141.0zM686.6 174.3L696.2 178.8L681.4 181.6L671.8 177.1zM696.2 178.8L705.9 183.3L691.0 186.1L681.4 181.6zM556.2 122.9L565.8 127.4L551.0 130.3L541.4 125.8zM614.0 150.0L623.6 154.5L608.8 157.4L599.2 152.9zM652.5 168.1L662.1 172.6L647.3 175.4L637.7 170.9zM710.3 195.2L719.9 199.7L705.1 202.5L695.5 198.0zM416.2 67.1L425.8 71.6L411.1 74.5L401.4 70.0zM425.8 71.6L435.5 76.1L420.7 79.0L411.1 74.5zM493.2 103.2L502.9 107.7L488.1 110.6L478.5 106.1zM724.4 211.5L734.0 216.1L719.1 218.9L709.5 214.3zM449.6 92.6L459.2 97.1L444.4 100.0L434.8 95.5zM603.6 164.7L613.2 169.2L598.4 172.1L588.8 167.6zM613.2 169.2L622.9 173.8L608.1 176.6L598.4 172.1zM622.9 173.8L632.5 178.3L617.7 181.1L608.1 176.6zM632.5 178.3L642.1 182.8L627.3 185.6L617.7 181.1zM709.5 214.3L719.1 218.9L704.3 221.7L694.7 217.1zM473.3 113.5L482.9 118.0L468.1 120.9L458.5 116.4zM492.6 122.5L502.2 127.0L487.4 129.9L477.8 125.4zM521.4 136.0L531.1 140.5L516.3 143.4L506.6 138.9zM588.8 167.6L598.4 172.1L583.6 174.9L574.0 170.4zM598.4 172.1L608.1 176.6L593.2 179.4L583.6 174.9zM636.9 190.1L646.6 194.6L631.7 197.4L622.1 192.9zM685.1 212.6L694.7 217.1L679.8 219.9L670.2 215.4zM362.3 71.4L371.9 75.9L357.2 78.8L347.5 74.3zM371.9 75.9L381.5 80.4L366.8 83.3L357.2 78.8zM400.8 89.4L410.4 93.9L395.6 96.8L386.0 92.3zM535.5 152.4L545.1 156.9L530.3 159.8L520.7 155.3zM564.4 165.9L574.0 170.4L559.2 173.3L549.6 168.8zM631.7 197.4L641.3 201.9L626.5 204.8L616.9 200.3zM641.3 201.9L651.0 206.4L636.1 209.3L626.5 204.8zM347.5 74.3L357.2 78.8L342.4 81.8L332.8 77.3zM366.8 83.3L376.4 87.8L361.6 90.8L352.0 86.3zM491.8 141.8L501.5 146.3L486.7 149.2L477.0 144.7zM636.1 209.3L645.7 213.8L630.9 216.6L621.3 212.1zM665.0 222.8L674.6 227.2L659.8 230.0L650.1 225.6zM371.3 95.3L380.9 99.8L366.1 102.7L356.5 98.2zM380.9 99.8L390.5 104.2L375.7 107.2L366.1 102.7zM457.8 135.7L467.4 140.2L452.6 143.1L443.0 138.6zM554.0 180.6L563.6 185.1L548.8 188.0L539.2 183.5zM611.7 207.6L621.3 212.1L606.4 214.9L596.8 210.4zM621.3 212.1L630.9 216.6L616.1 219.4L606.4 214.9zM318.0 80.2L327.7 84.7L312.9 87.7L303.3 83.2zM404.6 120.6L414.2 125.1L399.4 128.0L389.8 123.5zM462.2 147.6L471.9 152.1L457.1 154.9L447.4 150.4zM558.4 192.4L568.0 196.9L553.2 199.8L543.6 195.3zM303.3 83.2L312.9 87.7L298.1 90.6L288.5 86.1zM322.5 92.2L332.1 96.6L317.4 99.6L307.8 95.1zM351.3 105.6L361.0 110.1L346.2 113.0L336.6 108.5zM409.0 132.5L418.6 137.0L403.8 139.9L394.2 135.4zM437.8 146.0L447.4 150.4L432.7 153.3L423.0 148.8zM457.1 154.9L466.7 159.4L451.9 162.3L442.3 157.8zM601.2 222.2L610.8 226.7L596.0 229.5L586.4 225.0zM288.5 86.1L298.1 90.6L283.4 93.6L273.8 89.1zM307.8 95.1L317.4 99.6L302.6 102.5L293.0 98.0zM423.0 148.8L432.7 153.3L417.9 156.2L408.3 151.7zM432.7 153.3L442.3 157.8L427.5 160.7L417.9 156.2zM480.7 175.7L490.3 180.2L475.5 183.1L465.9 178.6zM538.3 202.6L547.9 207.1L533.1 209.9L523.5 205.4zM547.9 207.1L557.6 211.6L542.7 214.4L533.1 209.9zM596.0 229.5L605.6 234.0L590.7 236.8L581.1 232.3zM350.6 124.9L360.2 129.4L345.4 132.3L335.8 127.8zM408.3 151.7L417.9 156.2L403.1 159.1L393.5 154.6zM417.9 156.2L427.5 160.7L412.7 163.6L403.1 159.1zM446.7 169.6L456.3 174.1L441.5 177.0L431.9 172.5zM456.3 174.1L465.9 178.6L451.1 181.4L441.5 177.0zM590.7 236.8L600.3 241.2L585.5 244.0L575.9 239.6zM479.9 194.9L489.5 199.3L474.7 202.2L465.1 197.7zM489.5 199.3L499.1 203.8L484.3 206.6L474.7 202.2zM499.1 203.8L508.7 208.3L493.9 211.1L484.3 206.6zM518.3 212.7L527.9 217.2L513.1 220.0L503.5 215.6zM527.9 217.2L537.5 221.7L522.7 224.5L513.1 220.0zM566.3 235.1L575.9 239.6L561.1 242.4L551.5 237.9zM244.3 95.0L253.9 99.4L239.1 102.4L229.5 97.9zM263.5 103.9L273.1 108.4L258.3 111.3L248.7 106.8zM311.5 126.2L321.1 130.7L306.3 133.6L296.7 129.2zM369.1 153.0L378.7 157.5L363.9 160.4L354.3 155.9zM455.5 193.2L465.1 197.7L450.2 200.5L440.6 196.1zM513.1 220.0L522.7 224.5L507.8 227.3L498.2 222.9zM229.5 97.9L239.1 102.4L224.4 105.3L214.8 100.9zM306.3 133.6L315.9 138.1L301.1 141.0L291.5 136.5zM383.1 169.3L392.7 173.8L377.9 176.6L368.3 172.2zM440.6 196.1L450.2 200.5L435.4 203.4L425.8 198.9zM527.0 236.2L536.6 240.7L521.8 243.5L512.2 239.0zM546.2 245.2L555.8 249.6L541.0 252.4L531.4 248.0zM214.8 100.9L224.4 105.3L209.6 108.3L200.0 103.8zM253.1 118.7L262.7 123.2L248.0 126.1L238.4 121.6zM387.5 181.1L397.0 185.6L382.2 188.4L372.6 184.0zM521.8 243.5L531.4 248.0L516.5 250.8L506.9 246.3zM238.4 121.6L248.0 126.1L233.2 129.0L223.6 124.6zM286.3 143.9L295.9 148.3L281.1 151.2L271.6 146.8zM295.9 148.3L305.5 152.8L290.7 155.7L281.1 151.2zM334.3 166.2L343.9 170.6L329.1 173.5L319.5 169.0zM353.5 175.1L363.1 179.5L348.3 182.4L338.7 177.9zM478.1 233.0L487.7 237.4L472.9 240.2L463.3 235.8zM497.3 241.9L506.9 246.3L492.1 249.1L482.5 244.7zM506.9 246.3L516.5 250.8L501.7 253.6L492.1 249.1zM377.0 195.7L386.6 200.2L371.8 203.0L362.2 198.6zM237.6 140.8L247.2 145.3L232.4 148.2L222.8 143.7zM343.0 189.7L352.6 194.2L337.8 197.0L328.2 192.6zM419.7 225.3L429.3 229.7L414.5 232.5L404.9 228.1zM438.9 234.1L448.5 238.6L433.6 241.4L424.1 237.0zM194.1 130.4L203.7 134.9L188.9 137.8L179.3 133.3zM213.3 139.3L222.8 143.7L208.1 146.7L198.5 142.2zM280.3 170.4L289.9 174.8L275.1 177.7L265.5 173.3zM289.9 174.8L299.5 179.3L284.7 182.1L275.1 177.7zM347.4 201.5L357.0 205.9L342.2 208.7L332.6 204.3zM404.9 228.1L414.5 232.5L399.6 235.4L390.1 230.9zM414.5 232.5L424.1 237.0L409.2 239.8L399.6 235.4zM433.6 241.4L443.2 245.8L428.4 248.7L418.8 244.2zM472.0 259.2L481.6 263.6L466.7 266.4L457.1 262.0zM256.0 168.8L265.5 173.3L250.7 176.2L241.2 171.7zM265.5 173.3L275.1 177.7L260.3 180.6L250.7 176.2zM275.1 177.7L284.7 182.1L269.9 185.0L260.3 180.6zM380.5 226.5L390.1 230.9L375.2 233.8L365.7 229.3zM241.2 171.7L250.7 176.2L236.0 179.0L226.4 174.6zM250.7 176.2L260.3 180.6L245.5 183.5L236.0 179.0zM298.6 198.3L308.2 202.7L293.4 205.6L283.8 201.2zM413.5 251.5L423.1 255.9L408.3 258.7L398.7 254.3z"/>
<path fill="#10f0ff" stroke="#10f0ff" stroke-width="0.7" stroke-linejoin="round" d="M651.8 39.6L661.5 44.2L646.7 47.1L637.0 42.5zM883.9 149.4L893.5 154.0L878.7 156.8L869.0 152.3zM656.4 51.7L666.0 56.3L651.2 59.2L641.6 54.6zM602.9 36.3L612.6 40.9L597.8 43.8L588.2 39.3zM757.6 109.4L767.2 114.0L752.4 116.8L742.8 112.3zM815.6 136.8L825.2 141.4L810.4 144.2L800.7 139.7zM636.5 62.1L646.1 66.6L631.4 69.6L621.7 65.0zM665.5 75.8L675.1 80.3L660.3 83.2L650.7 78.7zM752.4 116.8L762.1 121.4L747.3 124.3L737.6 119.7zM650.7 78.7L660.3 83.2L645.6 86.1L635.9 81.6zM689.3 96.9L699.0 101.5L684.2 104.4L674.5 99.8zM728.0 115.1L737.6 119.7L722.8 122.6L713.1 118.0zM737.6 119.7L747.3 124.3L732.5 127.1L722.8 122.6zM795.6 147.1L805.2 151.6L790.4 154.4L780.7 149.9zM713.1 118.0L722.8 122.6L708.0 125.4L698.3 120.9zM790.4 154.4L800.1 159.0L785.2 161.8L775.6 157.3zM621.1 84.5L630.8 89.0L616.0 91.9L606.3 87.4zM572.3 81.2L581.9 85.7L567.1 88.7L557.5 84.1zM630.1 108.5L639.8 113.0L625.0 115.9L615.4 111.3zM697.7 140.2L707.3 144.8L692.5 147.6L682.9 143.1zM717.0 149.3L726.6 153.9L711.8 156.7L702.2 152.2zM726.6 153.9L736.3 158.4L721.4 161.2L711.8 156.7zM644.3 124.9L653.9 129.5L639.1 132.4L629.5 127.8zM494.5 64.4L504.1 68.9L489.4 71.8L479.7 67.3zM513.8 73.4L523.4 78.0L508.7 80.9L499.0 76.4zM552.3 91.6L562.0 96.1L547.2 99.0L537.6 94.5zM590.9 109.7L600.6 114.2L585.8 117.1L576.1 112.6zM499.0 76.4L508.7 80.9L493.9 83.8L484.2 79.3zM508.7 80.9L518.3 85.4L503.5 88.3L493.9 83.8zM518.3 85.4L527.9 89.9L513.2 92.9L503.5 88.3zM547.2 99.0L556.8 103.5L542.1 106.4L532.4 101.9zM624.3 135.2L634.0 139.7L619.2 142.6L609.5 138.1zM662.9 153.3L672.5 157.9L657.7 160.7L648.1 156.2zM536.9 113.8L546.5 118.4L531.8 121.2L522.1 116.7zM681.4 181.6L691.0 186.1L676.2 189.0L666.6 184.5zM435.5 76.1L445.1 80.6L430.3 83.5L420.7 79.0zM445.1 80.6L454.7 85.1L439.9 88.1L430.3 83.5zM478.5 106.1L488.1 110.6L473.3 113.5L463.7 109.0zM565.1 146.7L574.7 151.2L559.9 154.1L550.3 149.6zM661.4 191.8L671.0 196.3L656.2 199.1L646.6 194.6zM502.2 127.0L511.8 131.5L497.0 134.4L487.4 129.9zM540.7 145.1L550.3 149.6L535.5 152.4L525.9 147.9zM646.6 194.6L656.2 199.1L641.3 201.9L631.7 197.4zM468.1 120.9L477.8 125.4L463.0 128.3L453.4 123.8zM497.0 134.4L506.6 138.9L491.8 141.8L482.2 137.3zM545.1 156.9L554.7 161.4L539.9 164.3L530.3 159.8zM554.7 161.4L564.4 165.9L549.6 168.8L539.9 164.3zM549.6 168.8L559.2 173.3L544.4 176.1L534.7 171.6zM597.6 191.3L607.3 195.8L592.4 198.6L582.8 194.1zM496.3 153.7L505.9 158.2L491.1 161.0L481.5 156.5zM505.9 158.2L515.5 162.7L500.7 165.5L491.1 161.0zM544.4 176.1L554.0 180.6L539.2 183.5L529.5 179.0zM616.1 219.4L625.7 223.9L610.8 226.7L601.2 222.2zM428.2 141.5L437.8 146.0L423.0 148.8L413.4 144.4zM543.6 195.3L553.2 199.8L538.3 202.6L528.7 198.1zM451.9 162.3L461.5 166.8L446.7 169.6L437.1 165.2zM475.5 183.1L485.1 187.5L470.3 190.4L460.7 185.9zM485.1 187.5L494.7 192.0L479.9 194.9L470.3 190.4zM431.9 172.5L441.5 177.0L426.7 179.8L417.1 175.4zM470.3 190.4L479.9 194.9L465.1 197.7L455.5 193.2zM503.5 215.6L513.1 220.0L498.2 222.9L488.6 218.4zM541.9 233.4L551.5 237.9L536.6 240.7L527.0 236.2zM479.0 213.9L488.6 218.4L473.8 221.2L464.2 216.8zM488.6 218.4L498.2 222.9L483.4 225.7L473.8 221.2zM445.0 207.8L454.6 212.3L439.8 215.1L430.2 210.7zM454.6 212.3L464.2 216.8L449.4 219.6L439.8 215.1zM502.6 234.6L512.2 239.0L497.3 241.9L487.7 237.4zM372.6 184.0L382.2 188.4L367.4 191.3L357.8 186.8zM382.2 188.4L391.8 192.9L377.0 195.7L367.4 191.3zM439.8 215.1L449.4 219.6L434.5 222.4L425.0 218.0zM487.7 237.4L497.3 241.9L482.5 244.7L472.9 240.2zM367.4 191.3L377.0 195.7L362.2 198.6L352.6 194.2zM266.4 154.2L275.9 158.6L261.2 161.5L251.6 157.1zM275.9 158.6L285.5 163.0L270.7 165.9L261.2 161.5zM184.5 126.0L194.1 130.4L179.3 133.3L169.7 128.9zM284.7 182.1L294.3 186.6L279.5 189.4L269.9 185.0zM428.4 248.7L438.0 253.1L423.1 255.9L413.5 251.5zM447.5 257.5L457.1 262.0L442.3 264.8L432.7 260.3z"/>
<path fill="#00009c" stroke="#00009c" stroke-width="0.7" stroke-linejoin="round" d="M661.5 44.2L671.1 48.8L656.4 51.7L646.7 47.1zM709.8 67.1L719.5 71.6L704.7 74.5L695.0 70.0zM729.1 76.2L738.8 80.8L724.0 83.7L714.4 79.1zM777.5 99.1L787.2 103.7L772.4 106.5L762.7 102.0zM806.5 112.8L816.2 117.4L801.4 120.3L791.7 115.7zM816.2 117.4L825.9 122.0L811.0 124.8L801.4 120.3zM845.2 131.1L854.9 135.7L840.0 138.5L830.4 134.0zM598.3 24.2L608.0 28.8L593.3 31.8L583.6 27.2zM608.0 28.8L617.7 33.4L602.9 36.3L593.3 31.8zM617.7 33.4L627.4 38.0L612.6 40.9L602.9 36.3zM753.0 97.4L762.7 102.0L747.9 104.8L738.2 100.3zM762.7 102.0L772.4 106.5L757.6 109.4L747.9 104.8zM782.0 111.1L791.7 115.7L776.9 118.5L767.2 114.0zM830.4 134.0L840.0 138.5L825.2 141.4L815.6 136.8zM907.7 170.6L917.4 175.1L902.5 177.9L892.9 173.4zM593.3 31.8L602.9 36.3L588.2 39.3L578.5 34.7zM622.3 45.5L631.9 50.0L617.2 53.0L607.5 48.4zM805.9 132.2L815.6 136.8L800.7 139.7L791.1 135.1zM844.5 150.5L854.2 155.1L839.4 157.9L829.7 153.3zM597.8 43.8L607.5 48.4L592.7 51.3L583.1 46.8zM617.2 53.0L626.8 57.5L612.0 60.4L602.4 55.9zM626.8 57.5L636.5 62.1L621.7 65.0L612.0 60.4zM694.4 89.5L704.1 94.0L689.3 96.9L679.7 92.4zM704.1 94.0L713.8 98.6L699.0 101.5L689.3 96.9zM781.4 130.5L791.1 135.1L776.2 137.9L766.6 133.4zM791.1 135.1L800.7 139.7L785.9 142.5L776.2 137.9zM868.4 171.6L878.0 176.2L863.2 179.0L853.5 174.4zM554.1 33.1L563.7 37.6L549.0 40.6L539.3 36.0zM612.0 60.4L621.7 65.0L606.9 67.9L597.3 63.4zM699.0 101.5L708.6 106.0L693.8 108.9L684.2 104.4zM824.5 160.7L834.2 165.3L819.4 168.1L809.7 163.6zM863.2 179.0L872.8 183.5L858.0 186.3L848.3 181.8zM568.3 49.7L578.0 54.3L563.2 57.2L553.5 52.6zM578.0 54.3L587.6 58.8L572.8 61.7L563.2 57.2zM626.2 77.0L635.9 81.6L621.1 84.5L611.5 79.9zM742.1 131.7L751.8 136.2L737.0 139.1L727.3 134.5zM771.1 145.3L780.7 149.9L765.9 152.7L756.3 148.2zM572.8 61.7L582.5 66.3L567.7 69.2L558.1 64.7zM640.4 93.6L650.1 98.1L635.3 101.0L625.6 96.5zM698.3 120.9L708.0 125.4L693.2 128.3L683.5 123.8zM727.3 134.5L737.0 139.1L722.1 141.9L712.5 137.4zM737.0 139.1L746.6 143.6L731.8 146.5L722.1 141.9zM794.9 166.4L804.5 170.9L789.7 173.8L780.0 169.2zM823.8 180.0L833.5 184.6L818.6 187.4L809.0 182.8zM843.1 189.1L852.8 193.7L838.0 196.5L828.3 191.9zM558.1 64.7L567.7 69.2L553.0 72.1L543.3 67.6zM683.5 123.8L693.2 128.3L678.4 131.2L668.7 126.6zM731.8 146.5L741.4 151.0L726.6 153.9L717.0 149.3zM818.6 187.4L828.3 191.9L813.5 194.7L803.8 190.2zM495.1 44.9L504.7 49.4L490.0 52.4L480.3 47.8zM533.7 63.0L543.3 67.6L528.5 70.5L518.9 66.0zM581.9 85.7L591.6 90.3L576.8 93.2L567.1 88.7zM688.0 135.7L697.7 140.2L682.9 143.1L673.2 138.6zM707.3 144.8L717.0 149.3L702.2 152.2L692.5 147.6zM509.3 61.4L518.9 66.0L504.1 68.9L494.5 64.4zM538.2 75.0L547.8 79.6L533.1 82.5L523.4 78.0zM567.1 88.7L576.8 93.2L562.0 96.1L552.3 91.6zM634.6 120.4L644.3 124.9L629.5 127.8L619.8 123.3zM740.7 170.3L750.4 174.9L735.5 177.7L725.9 173.1zM533.1 82.5L542.7 87.0L527.9 89.9L518.3 85.4zM542.7 87.0L552.3 91.6L537.6 94.5L527.9 89.9zM619.8 123.3L629.5 127.8L614.7 130.7L605.0 126.2zM697.0 159.5L706.6 164.1L691.8 166.9L682.2 162.4zM725.9 173.1L735.5 177.7L720.7 180.5L711.1 176.0zM745.2 182.2L754.8 186.7L740.0 189.6L730.4 185.0zM489.4 71.8L499.0 76.4L484.2 79.3L474.6 74.8zM537.6 94.5L547.2 99.0L532.4 101.9L522.8 97.4zM585.8 117.1L595.4 121.6L580.6 124.5L571.0 120.0zM595.4 121.6L605.0 126.2L590.2 129.0L580.6 124.5zM634.0 139.7L643.6 144.3L628.8 147.1L619.2 142.6zM672.5 157.9L682.2 162.4L667.3 165.2L657.7 160.7zM730.4 185.0L740.0 189.6L725.2 192.4L715.5 187.8zM440.6 68.6L450.2 73.2L435.5 76.1L425.8 71.6zM450.2 73.2L459.8 77.7L445.1 80.6L435.5 76.1zM459.8 77.7L469.5 82.2L454.7 85.1L445.1 80.6zM479.1 86.7L488.7 91.2L474.0 94.2L464.3 89.6zM527.3 109.3L536.9 113.8L522.1 116.7L512.5 112.2zM546.5 118.4L556.2 122.9L541.4 125.8L531.8 121.2zM565.8 127.4L575.4 131.9L560.6 134.8L551.0 130.3zM575.4 131.9L585.1 136.4L570.3 139.3L560.6 134.8zM594.7 141.0L604.3 145.5L589.5 148.3L579.9 143.8zM633.2 159.0L642.9 163.6L628.1 166.4L618.4 161.9zM671.8 177.1L681.4 181.6L666.6 184.5L657.0 179.9zM512.5 112.2L522.1 116.7L507.3 119.6L497.7 115.1zM522.1 116.7L531.8 121.2L517.0 124.1L507.3 119.6zM531.8 121.2L541.4 125.8L526.6 128.7L517.0 124.1zM666.6 184.5L676.2 189.0L661.4 191.8L651.8 187.3zM430.3 83.5L439.9 88.1L425.2 91.0L415.6 86.5zM459.2 97.1L468.8 101.6L454.1 104.5L444.4 100.0zM488.1 110.6L497.7 115.1L482.9 118.0L473.3 113.5zM497.7 115.1L507.3 119.6L492.6 122.5L482.9 118.0zM526.6 128.7L536.2 133.2L521.4 136.0L511.8 131.5zM545.9 137.7L555.5 142.2L540.7 145.1L531.1 140.5zM594.0 160.2L603.6 164.7L588.8 167.6L579.2 163.1zM642.1 182.8L651.8 187.3L636.9 190.1L627.3 185.6zM671.0 196.3L680.6 200.8L665.8 203.6L656.2 199.1zM699.9 209.8L709.5 214.3L694.7 217.1L685.1 212.6zM377.1 68.5L386.7 73.0L371.9 75.9L362.3 71.4zM463.7 109.0L473.3 113.5L458.5 116.4L448.9 111.9zM511.8 131.5L521.4 136.0L506.6 138.9L497.0 134.4zM569.6 158.6L579.2 163.1L564.4 165.9L554.7 161.4zM608.1 176.6L617.7 181.1L602.9 183.9L593.2 179.4zM656.2 199.1L665.8 203.6L651.0 206.4L641.3 201.9zM448.9 111.9L458.5 116.4L443.7 119.3L434.1 114.8zM458.5 116.4L468.1 120.9L453.4 123.8L443.7 119.3zM516.3 143.4L525.9 147.9L511.1 150.8L501.5 146.3zM525.9 147.9L535.5 152.4L520.7 155.3L511.1 150.8zM612.5 188.4L622.1 192.9L607.3 195.8L597.6 191.3zM651.0 206.4L660.6 210.9L645.7 213.8L636.1 209.3zM395.6 96.8L405.3 101.3L390.5 104.2L380.9 99.8zM414.9 105.8L424.5 110.3L409.7 113.2L400.1 108.7zM463.0 128.3L472.6 132.8L457.8 135.7L448.2 131.2zM511.1 150.8L520.7 155.3L505.9 158.2L496.3 153.7zM539.9 164.3L549.6 168.8L534.7 171.6L525.1 167.1zM559.2 173.3L568.8 177.8L554.0 180.6L544.4 176.1zM607.3 195.8L616.9 200.3L602.1 203.1L592.4 198.6zM616.9 200.3L626.5 204.8L611.7 207.6L602.1 203.1zM332.8 77.3L342.4 81.8L327.7 84.7L318.0 80.2zM630.9 216.6L640.5 221.1L625.7 223.9L616.1 219.4zM640.5 221.1L650.1 225.6L635.3 228.4L625.7 223.9zM337.3 89.2L346.9 93.7L332.1 96.6L322.5 92.2zM346.9 93.7L356.5 98.2L341.7 101.1L332.1 96.6zM394.9 116.1L404.6 120.6L389.8 123.5L380.2 119.1zM433.4 134.1L443.0 138.6L428.2 141.5L418.6 137.0zM471.9 152.1L481.5 156.5L466.7 159.4L457.1 154.9zM500.7 165.5L510.3 170.0L495.5 172.9L485.9 168.4zM529.5 179.0L539.2 183.5L524.3 186.3L514.7 181.8zM587.2 205.9L596.8 210.4L582.0 213.2L572.4 208.7zM606.4 214.9L616.1 219.4L601.2 222.2L591.6 217.7zM625.7 223.9L635.3 228.4L620.4 231.2L610.8 226.7zM332.1 96.6L341.7 101.1L327.0 104.1L317.4 99.6zM370.6 114.6L380.2 119.1L365.4 122.0L355.8 117.5zM380.2 119.1L389.8 123.5L375.0 126.5L365.4 122.0zM389.8 123.5L399.4 128.0L384.6 130.9L375.0 126.5zM418.6 137.0L428.2 141.5L413.4 144.4L403.8 139.9zM466.7 159.4L476.3 163.9L461.5 166.8L451.9 162.3zM476.3 163.9L485.9 168.4L471.1 171.2L461.5 166.8zM485.9 168.4L495.5 172.9L480.7 175.7L471.1 171.2zM495.5 172.9L505.1 177.3L490.3 180.2L480.7 175.7zM346.2 113.0L355.8 117.5L341.0 120.4L331.4 115.9zM375.0 126.5L384.6 130.9L369.8 133.8L360.2 129.4zM394.2 135.4L403.8 139.9L389.0 142.8L379.4 138.3zM283.4 93.6L293.0 98.0L278.2 101.0L268.6 96.5zM321.8 111.5L331.4 115.9L316.6 118.9L307.0 114.4zM437.1 165.2L446.7 169.6L431.9 172.5L422.3 168.0zM552.3 218.9L561.9 223.3L547.1 226.1L537.5 221.7zM581.1 232.3L590.7 236.8L575.9 239.6L566.3 235.1zM259.0 92.0L268.6 96.5L253.9 99.4L244.3 95.0zM297.4 109.9L307.0 114.4L292.3 117.3L282.7 112.8zM355.1 136.7L364.7 141.2L349.9 144.1L340.3 139.6zM403.1 159.1L412.7 163.6L397.9 166.4L388.3 162.0zM412.7 163.6L422.3 168.0L407.5 170.9L397.9 166.4zM441.5 177.0L451.1 181.4L436.3 184.3L426.7 179.8zM451.1 181.4L460.7 185.9L445.9 188.8L436.3 184.3zM460.7 185.9L470.3 190.4L455.5 193.2L445.9 188.8zM508.7 208.3L518.3 212.7L503.5 215.6L493.9 211.1zM556.7 230.6L566.3 235.1L551.5 237.9L541.9 233.4zM575.9 239.6L585.5 244.0L570.6 246.8L561.1 242.4zM484.3 206.6L493.9 211.1L479.0 213.9L469.4 209.5zM551.5 237.9L561.1 242.4L546.2 245.2L536.6 240.7zM561.1 242.4L570.6 246.8L555.8 249.6L546.2 245.2zM296.7 129.2L306.3 133.6L291.5 136.5L281.9 132.1zM325.5 142.5L335.1 147.0L320.3 149.9L310.7 145.4zM344.7 151.5L354.3 155.9L339.5 158.8L329.9 154.4zM354.3 155.9L363.9 160.4L349.1 163.3L339.5 158.8zM392.7 173.8L402.3 178.2L387.5 181.1L377.9 176.6zM498.2 222.9L507.8 227.3L493.0 230.1L483.4 225.7zM262.7 123.2L272.3 127.6L257.6 130.5L248.0 126.1zM310.7 145.4L320.3 149.9L305.5 152.8L295.9 148.3zM339.5 158.8L349.1 163.3L334.3 166.2L324.7 161.7zM473.8 221.2L483.4 225.7L468.6 228.5L459.0 224.0zM248.0 126.1L257.6 130.5L242.8 133.5L233.2 129.0zM324.7 161.7L334.3 166.2L319.5 169.0L309.9 164.6zM343.9 170.6L353.5 175.1L338.7 177.9L329.1 173.5zM401.4 197.3L411.0 201.8L396.2 204.6L386.6 200.2zM411.0 201.8L420.6 206.2L405.8 209.1L396.2 204.6zM420.6 206.2L430.2 210.7L415.4 213.5L405.8 209.1zM449.4 219.6L459.0 224.0L444.1 226.9L434.5 222.4zM185.3 106.8L194.9 111.2L180.1 114.2L170.5 109.7zM204.4 115.7L214.0 120.1L199.3 123.0L189.7 118.6zM214.0 120.1L223.6 124.6L208.9 127.5L199.3 123.0zM233.2 129.0L242.8 133.5L228.0 136.4L218.4 131.9zM271.6 146.8L281.1 151.2L266.4 154.2L256.8 149.7zM281.1 151.2L290.7 155.7L275.9 158.6L266.4 154.2zM434.5 222.4L444.1 226.9L429.3 229.7L419.7 225.3zM463.3 235.8L472.9 240.2L458.1 243.0L448.5 238.6zM472.9 240.2L482.5 244.7L467.6 247.5L458.1 243.0zM170.5 109.7L180.1 114.2L165.3 117.1L155.8 112.7zM189.7 118.6L199.3 123.0L184.5 126.0L174.9 121.5zM208.9 127.5L218.4 131.9L203.7 134.9L194.1 130.4zM218.4 131.9L228.0 136.4L213.3 139.3L203.7 134.9zM228.0 136.4L237.6 140.8L222.8 143.7L213.3 139.3zM285.5 163.0L295.1 167.5L280.3 170.4L270.7 165.9zM333.5 185.3L343.0 189.7L328.2 192.6L318.7 188.1zM381.4 207.5L391.0 211.9L376.1 214.8L366.6 210.3zM448.5 238.6L458.1 243.0L443.2 245.8L433.6 241.4zM458.1 243.0L467.6 247.5L452.8 250.3L443.2 245.8zM467.6 247.5L477.2 251.9L462.4 254.7L452.8 250.3zM486.8 256.4L496.4 260.8L481.6 263.6L472.0 259.2zM155.8 112.7L165.3 117.1L150.6 120.0L141.0 115.6zM299.5 179.3L309.1 183.7L294.3 186.6L284.7 182.1zM309.1 183.7L318.7 188.1L303.9 191.0L294.3 186.6zM443.2 245.8L452.8 250.3L438.0 253.1L428.4 248.7zM452.8 250.3L462.4 254.7L447.5 257.5L438.0 253.1zM179.3 133.3L188.9 137.8L174.1 140.7L164.6 136.3zM323.0 199.9L332.6 204.3L317.8 207.2L308.2 202.7zM332.6 204.3L342.2 208.7L327.4 211.6L317.8 207.2zM418.8 244.2L428.4 248.7L413.5 251.5L404.0 247.0zM135.8 123.0L145.4 127.4L130.6 130.4L121.1 125.9zM183.7 145.1L193.3 149.6L178.5 152.5L168.9 148.1zM193.3 149.6L202.9 154.0L188.1 156.9L178.5 152.5zM202.9 154.0L212.4 158.4L197.7 161.3L188.1 156.9zM375.2 233.8L384.8 238.2L370.0 241.0L360.4 236.6zM384.8 238.2L394.4 242.6L379.6 245.4L370.0 241.0zM442.3 264.8L451.8 269.2L437.0 272.0L427.4 267.6z"/>
<path fill="#50ffb0" stroke="#50ffb0" stroke-width="0.7" stroke-linejoin="round" d="M680.8 53.3L690.5 57.9L675.7 60.8L666.0 56.3zM685.4 65.4L695.0 70.0L680.2 72.9L670.6 68.3zM917.4 175.1L927.0 179.7L912.2 182.5L902.5 177.9zM723.4 103.2L733.1 107.7L718.3 110.6L708.6 106.0zM814.9 156.2L824.5 160.7L809.7 163.6L800.1 159.0zM703.5 113.5L713.1 118.0L698.3 120.9L688.7 116.3zM649.4 117.5L659.1 122.1L644.3 124.9L634.6 120.4zM663.6 134.0L673.2 138.6L658.4 141.4L648.8 136.9zM504.1 68.9L513.8 73.4L499.0 76.4L489.4 71.8zM658.4 141.4L668.1 145.9L653.2 148.8L643.6 144.3zM691.8 166.9L701.4 171.4L686.6 174.3L677.0 169.8zM648.1 156.2L657.7 160.7L642.9 163.6L633.2 159.0zM507.3 119.6L517.0 124.1L502.2 127.0L492.6 122.5zM357.2 78.8L366.8 83.3L352.0 86.3L342.4 81.8zM467.4 140.2L477.0 144.7L462.2 147.6L452.6 143.1zM477.0 144.7L486.7 149.2L471.9 152.1L462.2 147.6zM525.1 167.1L534.7 171.6L519.9 174.5L510.3 170.0zM577.6 201.4L587.2 205.9L572.4 208.7L562.8 204.3zM278.2 101.0L287.8 105.4L273.1 108.4L263.5 103.9zM383.9 150.1L393.5 154.6L378.7 157.5L369.1 153.0zM378.7 157.5L388.3 162.0L373.5 164.8L363.9 160.4zM532.3 229.0L541.9 233.4L527.0 236.2L517.4 231.8zM363.9 160.4L373.5 164.8L358.7 167.7L349.1 163.3zM301.1 141.0L310.7 145.4L295.9 148.3L286.3 143.9zM493.0 230.1L502.6 234.6L487.7 237.4L478.1 233.0zM430.2 210.7L439.8 215.1L425.0 218.0L415.4 213.5zM290.7 155.7L300.3 160.1L285.5 163.0L275.9 158.6zM338.7 177.9L348.3 182.4L333.5 185.3L323.9 180.8z"/>
<path fill="#9cff60" stroke="#9cff60" stroke-width="0.7" stroke-linejoin="round" d="M690.5 57.9L700.1 62.5L685.4 65.4L675.7 60.8zM748.5 85.4L758.2 89.9L743.4 92.8L733.7 88.3zM893.5 154.0L903.2 158.6L888.4 161.4L878.7 156.8zM840.0 138.5L849.7 143.1L834.9 146.0L825.2 141.4zM631.9 50.0L641.6 54.6L626.8 57.5L617.2 53.0zM800.7 139.7L810.4 144.2L795.6 147.1L785.9 142.5zM887.7 180.7L897.3 185.3L882.5 188.1L872.8 183.5zM539.3 36.0L549.0 40.6L534.2 43.5L524.6 39.0zM780.7 149.9L790.4 154.4L775.6 157.3L765.9 152.7zM722.1 141.9L731.8 146.5L717.0 149.3L707.3 144.8zM490.0 52.4L499.6 56.9L484.9 59.8L475.2 55.3zM789.0 193.0L798.6 197.5L783.8 200.3L774.1 195.8zM754.8 186.7L764.5 191.3L749.6 194.1L740.0 189.6zM725.2 192.4L734.8 196.9L719.9 199.7L710.3 195.2zM488.7 91.2L498.4 95.8L483.6 98.7L474.0 94.2zM502.9 107.7L512.5 112.2L497.7 115.1L488.1 110.6zM411.1 74.5L420.7 79.0L405.9 82.0L396.3 77.5zM694.7 217.1L704.3 221.7L689.5 224.4L679.8 219.9zM391.2 84.9L400.8 89.4L386.0 92.3L376.4 87.8zM588.0 186.8L597.6 191.3L582.8 194.1L573.2 189.6zM342.4 81.8L352.0 86.3L337.3 89.2L327.7 84.7zM361.6 90.8L371.3 95.3L356.5 98.2L346.9 93.7zM400.1 108.7L409.7 113.2L394.9 116.1L385.3 111.7zM409.7 113.2L419.3 117.7L404.6 120.6L394.9 116.1zM534.7 171.6L544.4 176.1L529.5 179.0L519.9 174.5zM491.1 161.0L500.7 165.5L485.9 168.4L476.3 163.9zM510.3 170.0L519.9 174.5L505.1 177.3L495.5 172.9zM596.8 210.4L606.4 214.9L591.6 217.7L582.0 213.2zM553.2 199.8L562.8 204.3L547.9 207.1L538.3 202.6zM610.8 226.7L620.4 231.2L605.6 234.0L596.0 229.5zM355.8 117.5L365.4 122.0L350.6 124.9L341.0 120.4zM341.0 120.4L350.6 124.9L335.8 127.8L326.2 123.3zM398.6 147.3L408.3 151.7L393.5 154.6L383.9 150.1zM504.3 196.5L513.9 201.0L499.1 203.8L489.5 199.3zM388.3 162.0L397.9 166.4L383.1 169.3L373.5 164.8zM349.1 163.3L358.7 167.7L343.9 170.6L334.3 166.2zM406.6 190.0L416.2 194.5L401.4 197.3L391.8 192.9zM425.8 198.9L435.4 203.4L420.6 206.2L411.0 201.8zM362.2 198.6L371.8 203.0L357.0 205.9L347.4 201.5zM203.7 134.9L213.3 139.3L198.5 142.2L188.9 137.8zM318.7 188.1L328.2 192.6L313.4 195.4L303.9 191.0zM395.3 223.7L404.9 228.1L390.1 230.9L380.5 226.5zM294.3 186.6L303.9 191.0L289.1 193.9L279.5 189.4zM269.9 185.0L279.5 189.4L264.7 192.3L255.1 187.9zM346.5 220.5L356.1 224.9L341.3 227.7L331.7 223.3z"/>
<path fill="#ff8c00" stroke="#ff8c00" stroke-width="0.7" stroke-linejoin="round" d="M835.5 126.6L845.2 131.1L830.4 134.0L820.7 129.4zM646.7 47.1L656.4 51.7L641.6 54.6L631.9 50.0zM869.0 152.3L878.7 156.8L863.9 159.7L854.2 155.1zM641.6 54.6L651.2 59.2L636.5 62.1L626.8 57.5zM728.6 95.7L738.2 100.3L723.4 103.2L713.8 98.6zM825.2 141.4L834.9 146.0L820.1 148.8L810.4 144.2zM834.9 146.0L844.5 150.5L829.7 153.3L820.1 148.8zM563.7 37.6L573.4 42.2L558.6 45.1L549.0 40.6zM766.6 133.4L776.2 137.9L761.4 140.8L751.8 136.2zM558.6 45.1L568.3 49.7L553.5 52.6L543.9 48.1zM645.6 86.1L655.2 90.7L640.4 93.6L630.8 89.0zM765.9 152.7L775.6 157.3L760.7 160.1L751.1 155.6zM529.1 51.0L538.8 55.6L524.0 58.5L514.4 54.0zM654.6 110.1L664.2 114.7L649.4 117.5L639.8 113.0zM755.6 167.5L765.2 172.0L750.4 174.9L740.7 170.3zM586.4 97.7L596.1 102.3L581.3 105.2L571.6 100.6zM625.0 115.9L634.6 120.4L619.8 123.3L610.2 118.8zM692.5 147.6L702.2 152.2L687.3 155.0L677.7 150.5zM702.2 152.2L711.8 156.7L697.0 159.5L687.3 155.0zM769.7 183.9L779.3 188.5L764.5 191.3L754.8 186.7zM735.5 177.7L745.2 182.2L730.4 185.0L720.7 180.5zM643.6 144.3L653.2 148.8L638.4 151.7L628.8 147.1zM734.8 196.9L744.4 201.4L729.6 204.2L719.9 199.7zM754.1 205.9L763.7 210.5L748.8 213.3L739.2 208.7zM719.9 199.7L729.6 204.2L714.7 207.0L705.1 202.5zM406.6 62.6L416.2 67.1L401.4 70.0L391.8 65.5zM391.8 65.5L401.4 70.0L386.7 73.0L377.1 68.5zM405.9 82.0L415.6 86.5L400.8 89.4L391.2 84.9zM425.2 91.0L434.8 95.5L420.0 98.4L410.4 93.9zM579.2 163.1L588.8 167.6L574.0 170.4L564.4 165.9zM617.7 181.1L627.3 185.6L612.5 188.4L602.9 183.9zM429.0 122.2L438.6 126.7L423.8 129.6L414.2 125.1zM327.7 84.7L337.3 89.2L322.5 92.2L312.9 87.7zM481.5 156.5L491.1 161.0L476.3 163.9L466.7 159.4zM539.2 183.5L548.8 188.0L533.9 190.8L524.3 186.3zM620.4 231.2L630.0 235.6L615.2 238.4L605.6 234.0zM298.1 90.6L307.8 95.1L293.0 98.0L283.4 93.6zM373.5 164.8L383.1 169.3L368.3 172.2L358.7 167.7zM358.7 167.7L368.3 172.2L353.5 175.1L343.9 170.6zM377.9 176.6L387.5 181.1L372.6 184.0L363.1 179.5zM200.0 103.8L209.6 108.3L194.9 111.2L185.3 106.8zM209.6 108.3L219.2 112.7L204.4 115.7L194.9 111.2zM242.8 133.5L252.4 137.9L237.6 140.8L228.0 136.4zM319.5 169.0L329.1 173.5L314.3 176.4L304.7 171.9zM444.1 226.9L453.7 231.3L438.9 234.1L429.3 229.7zM482.5 244.7L492.1 249.1L477.2 251.9L467.6 247.5zM492.1 249.1L501.7 253.6L486.8 256.4L477.2 251.9zM370.9 222.1L380.5 226.5L365.7 229.3L356.1 224.9zM260.3 180.6L269.9 185.0L255.1 187.9L245.5 183.5zM308.2 202.7L317.8 207.2L303.0 210.0L293.4 205.6z"/>
<path fill="#0090ff" stroke="#0090ff" stroke-width="0.7" stroke-linejoin="round" d="M699.6 82.0L709.2 86.6L694.4 89.5L684.8 84.9zM863.9 159.7L873.5 164.2L858.7 167.0L849.0 162.5zM583.1 46.8L592.7 51.3L578.0 54.3L568.3 49.7zM708.6 106.0L718.3 110.6L703.5 113.5L693.8 108.9zM718.3 110.6L728.0 115.1L713.1 118.0L703.5 113.5zM853.5 174.4L863.2 179.0L848.3 181.8L838.7 177.2zM664.9 95.2L674.5 99.8L659.7 102.7L650.1 98.1zM684.2 104.4L693.8 108.9L679.0 111.8L669.4 107.2zM838.7 177.2L848.3 181.8L833.5 184.6L823.8 180.0zM592.2 70.8L601.8 75.4L587.0 78.3L577.4 73.7zM708.0 125.4L717.7 130.0L702.8 132.8L693.2 128.3zM717.7 130.0L727.3 134.5L712.5 137.4L702.8 132.8zM814.2 175.5L823.8 180.0L809.0 182.8L799.3 178.3zM799.3 178.3L809.0 182.8L794.2 185.7L784.5 181.1zM591.6 90.3L601.2 94.8L586.4 97.7L576.8 93.2zM659.1 122.1L668.7 126.6L653.9 129.5L644.3 124.9zM813.5 194.7L823.1 199.3L808.2 202.1L798.6 197.5zM528.5 70.5L538.2 75.0L523.4 78.0L513.8 73.4zM562.0 96.1L571.6 100.6L556.8 103.5L547.2 99.0zM571.6 100.6L581.3 105.2L566.5 108.1L556.8 103.5zM677.7 150.5L687.3 155.0L672.5 157.9L662.9 153.3zM605.0 126.2L614.7 130.7L599.9 133.6L590.2 129.0zM561.3 115.5L571.0 120.0L556.2 122.9L546.5 118.4zM580.6 124.5L590.2 129.0L575.4 131.9L565.8 127.4zM677.0 169.8L686.6 174.3L671.8 177.1L662.1 172.6zM551.0 130.3L560.6 134.8L545.9 137.7L536.2 133.2zM574.7 151.2L584.4 155.7L569.6 158.6L559.9 154.1zM690.3 205.3L699.9 209.8L685.1 212.6L675.4 208.1zM675.4 208.1L685.1 212.6L670.2 215.4L660.6 210.9zM381.5 80.4L391.2 84.9L376.4 87.8L366.8 83.3zM439.3 107.4L448.9 111.9L434.1 114.8L424.5 110.3zM593.2 179.4L602.9 183.9L588.0 186.8L578.4 182.3zM670.2 215.4L679.8 219.9L665.0 222.8L655.4 218.3zM424.5 110.3L434.1 114.8L419.3 117.7L409.7 113.2zM501.5 146.3L511.1 150.8L496.3 153.7L486.7 149.2zM655.4 218.3L665.0 222.8L650.1 225.6L640.5 221.1zM448.2 131.2L457.8 135.7L443.0 138.6L433.4 134.1zM452.6 143.1L462.2 147.6L447.4 150.4L437.8 146.0zM471.1 171.2L480.7 175.7L465.9 178.6L456.3 174.1zM490.3 180.2L499.9 184.7L485.1 187.5L475.5 183.1zM586.4 225.0L596.0 229.5L581.1 232.3L571.5 227.8zM312.2 107.0L321.8 111.5L307.0 114.4L297.4 109.9zM268.6 96.5L278.2 101.0L263.5 103.9L253.9 99.4zM335.8 127.8L345.4 132.3L330.7 135.2L321.1 130.7zM393.5 154.6L403.1 159.1L388.3 162.0L378.7 157.5zM537.5 221.7L547.1 226.1L532.3 229.0L522.7 224.5zM301.9 121.8L311.5 126.2L296.7 129.2L287.1 124.7zM445.9 188.8L455.5 193.2L440.6 196.1L431.0 191.6zM474.7 202.2L484.3 206.6L469.4 209.5L459.8 205.0zM493.9 211.1L503.5 215.6L488.6 218.4L479.0 213.9zM522.7 224.5L532.3 229.0L517.4 231.8L507.8 227.3zM239.1 102.4L248.7 106.8L234.0 109.8L224.4 105.3zM281.9 132.1L291.5 136.5L276.7 139.4L267.2 135.0zM291.5 136.5L301.1 141.0L286.3 143.9L276.7 139.4zM397.0 185.6L406.6 190.0L391.8 192.9L382.2 188.4zM531.4 248.0L541.0 252.4L526.1 255.2L516.5 250.8zM262.0 142.4L271.6 146.8L256.8 149.7L247.2 145.3zM357.8 186.8L367.4 191.3L352.6 194.2L343.0 189.7zM501.7 253.6L511.2 258.0L496.4 260.8L486.8 256.4zM314.3 176.4L323.9 180.8L309.1 183.7L299.5 179.3zM429.3 229.7L438.9 234.1L424.1 237.0L414.5 232.5zM424.1 237.0L433.6 241.4L418.8 244.2L409.2 239.8zM160.2 124.5L169.7 128.9L155.0 131.8L145.4 127.4zM198.5 142.2L208.1 146.7L193.3 149.6L183.7 145.1zM208.1 146.7L217.6 151.1L202.9 154.0L193.3 149.6zM361.3 217.6L370.9 222.1L356.1 224.9L346.5 220.5zM145.4 127.4L155.0 131.8L140.2 134.8L130.6 130.4zM155.0 131.8L164.6 136.3L149.8 139.2L140.2 134.8zM222.0 162.9L231.6 167.3L216.8 170.2L207.2 165.8zM279.5 189.4L289.1 193.9L274.2 196.8L264.7 192.3zM336.9 216.0L346.5 220.5L331.7 223.3L322.1 218.9z"/>
<path fill="#800000" stroke="#800000" stroke-width="0.7" stroke-linejoin="round" d="M111.5 121.5L121.1 126.0L121.1 142.7L111.5 138.2zM150.1 139.3L159.7 143.8L159.7 160.6L150.1 156.1zM159.7 143.8L169.3 148.2L169.4 165.1L159.7 160.6zM198.3 161.6L207.9 166.1L208.0 183.0L198.3 178.5zM217.5 170.5L227.2 175.0L227.3 191.9L217.6 187.5zM275.4 197.3L285.0 201.7L285.2 218.8L275.5 214.3zM304.3 210.6L313.9 215.1L314.1 232.2L304.5 227.7zM313.9 215.1L323.6 219.6L323.7 236.7L314.1 232.2zM342.9 228.5L352.5 232.9L352.7 250.1L343.0 245.6zM352.5 232.9L362.1 237.4L362.3 254.6L352.7 250.1zM381.4 246.3L391.1 250.8L391.3 268.0L381.6 263.5zM391.1 250.8L400.7 255.2L400.9 272.5L391.3 268.0zM410.3 259.7L420.0 264.1L420.2 281.4L410.6 277.0zM420.0 264.1L429.6 268.6L429.9 285.9L420.2 281.4zM121.1 142.7L130.8 147.2L130.8 164.0L121.2 159.5zM150.1 156.1L159.7 160.6L159.8 177.5L150.1 173.0zM159.7 160.6L169.4 165.1L169.4 182.0L159.8 177.5zM198.3 178.5L208.0 183.0L208.1 199.9L198.4 195.4zM208.0 183.0L217.6 187.5L217.7 204.4L208.1 199.9zM275.5 214.3L285.2 218.8L285.3 235.9L275.6 231.4zM285.2 218.8L294.8 223.3L295.0 240.4L285.3 235.9zM294.8 223.3L304.5 227.7L304.6 244.9L295.0 240.4zM323.7 236.7L333.4 241.2L333.6 258.3L323.9 253.8zM333.4 241.2L343.0 245.6L343.2 262.8L333.6 258.3zM381.6 263.5L391.3 268.0L391.5 285.3L381.9 280.8zM410.6 277.0L420.2 281.4L420.5 298.8L410.8 294.3zM420.2 281.4L429.9 285.9L430.1 303.3L420.5 298.8zM111.5 155.0L121.2 159.5L121.2 176.3L111.5 171.8zM140.5 168.5L150.1 173.0L150.2 189.8L140.5 185.3zM169.4 182.0L179.1 186.4L179.1 203.3L169.5 198.8zM266.0 226.9L275.6 231.4L275.8 248.4L266.1 243.9zM295.0 240.4L304.6 244.9L304.8 262.0L295.1 257.4zM362.5 271.8L372.2 276.3L372.4 293.5L362.7 289.0zM430.1 303.3L437.5 306.7L437.8 324.0L430.4 320.6zM140.5 185.3L150.2 189.8L150.2 206.6L140.5 202.1zM159.8 194.3L169.5 198.8L169.5 215.7L159.9 211.1zM179.1 203.3L188.8 207.8L188.9 224.7L179.2 220.2zM208.1 216.9L217.8 221.4L217.9 238.3L208.2 233.8zM256.4 239.4L266.1 243.9L266.2 261.0L256.6 256.4zM324.1 271.0L333.8 275.5L333.9 292.7L324.3 288.1zM372.4 293.5L382.1 298.0L382.3 315.3L372.6 310.8zM382.1 298.0L391.7 302.6L392.0 319.8L382.3 315.3zM411.1 311.6L420.7 316.1L421.0 333.4L411.3 328.9zM420.7 316.1L430.4 320.6L430.6 337.9L421.0 333.4zM111.5 188.5L121.2 193.0L121.2 209.8L111.5 205.2zM179.2 220.2L188.9 224.7L188.9 241.6L179.2 237.1zM295.2 274.5L304.9 279.1L305.1 296.2L295.4 291.6zM304.9 279.1L314.6 283.6L314.7 300.7L305.1 296.2zM333.9 292.7L343.6 297.2L343.8 314.4L334.1 309.8zM392.0 319.8L401.6 324.3L401.9 341.6L392.2 337.1zM421.0 333.4L430.6 337.9L430.9 355.3L421.2 350.7zM111.5 205.2L121.2 209.8L121.2 226.6L111.5 222.0zM130.9 214.3L140.5 218.9L140.6 235.7L130.9 231.1zM150.2 223.4L159.9 228.0L159.9 244.8L150.2 240.3zM169.6 232.5L179.2 237.1L179.3 253.9L169.6 249.4zM237.3 264.3L247.0 268.9L247.1 285.9L237.4 281.3zM247.0 268.9L256.7 273.4L256.8 290.5L247.1 285.9zM256.7 273.4L266.4 278.0L266.5 295.0L256.8 290.5zM295.4 291.6L305.1 296.2L305.2 313.3L295.5 308.7zM305.1 296.2L314.7 300.7L314.9 317.8L305.2 313.3zM334.1 309.8L343.8 314.4L344.0 331.5L334.3 327.0zM343.8 314.4L353.5 318.9L353.7 336.1L344.0 331.5zM382.5 332.5L392.2 337.1L392.4 354.4L382.7 349.8zM401.9 341.6L411.5 346.2L411.8 363.5L402.1 358.9zM411.5 346.2L421.2 350.7L421.5 368.0L411.8 363.5zM121.2 226.6L130.9 231.1L130.9 247.9L121.2 243.3zM130.9 231.1L140.6 235.7L140.6 252.5L130.9 247.9zM140.6 235.7L150.2 240.3L150.3 257.1L140.6 252.5zM179.3 253.9L189.0 258.5L189.1 275.4L179.4 270.8zM276.2 299.6L285.9 304.1L286.0 321.2L276.3 316.6zM285.9 304.1L295.5 308.7L295.7 325.8L286.0 321.2zM334.3 327.0L344.0 331.5L344.2 348.7L334.5 344.1zM373.0 345.2L382.7 349.8L382.9 367.0L373.2 362.5zM382.7 349.8L392.4 354.4L392.6 371.6L382.9 367.0zM411.8 363.5L421.5 368.0L421.7 385.4L412.0 380.8zM179.4 270.8L189.1 275.4L189.1 292.3L179.4 287.7zM189.1 275.4L198.7 280.0L198.8 296.9L189.1 292.3zM198.7 280.0L208.4 284.6L208.5 301.5L198.8 296.9zM218.1 289.1L227.8 293.7L227.9 310.7L218.2 306.1zM266.6 312.1L276.3 316.6L276.4 333.7L266.7 329.1zM276.3 316.6L286.0 321.2L286.1 338.3L276.4 333.7zM286.0 321.2L295.7 325.8L295.8 342.9L286.1 338.3zM334.5 344.1L344.2 348.7L344.3 365.9L334.6 361.3zM392.6 371.6L402.3 376.2L402.5 393.5L392.8 388.9zM421.7 385.4L431.4 389.9L431.7 407.3L422.0 402.7zM431.4 389.9L438.8 393.4L439.1 410.8L431.7 407.3zM160.0 278.5L169.7 283.1L169.8 300.0L160.0 295.3zM363.7 375.1L373.4 379.7L373.7 396.9L363.9 392.3zM160.0 295.3L169.8 300.0L169.8 316.8L160.1 312.2zM169.8 300.0L179.5 304.6L179.5 321.4L169.8 316.8zM179.5 304.6L189.2 309.2L189.2 326.1L179.5 321.4zM189.2 309.2L198.9 313.8L199.0 330.7L189.2 326.1zM208.6 318.4L218.3 323.0L218.4 340.0L208.7 335.3zM286.3 355.4L296.0 360.0L296.1 377.1L286.4 372.4zM296.0 360.0L305.7 364.6L305.8 381.7L296.1 377.1zM363.9 392.3L373.7 396.9L373.9 414.1L364.1 409.5zM373.7 396.9L383.4 401.5L383.6 418.8L373.9 414.1zM383.4 401.5L393.1 406.1L393.3 423.4L383.6 418.8z"/>
<path fill="#00009c" stroke="#00009c" stroke-width="0.7" stroke-linejoin="round" d="M121.1 126.0L130.8 130.4L130.8 147.2L121.1 142.7zM169.3 148.2L179.0 152.7L179.0 169.6L169.4 165.1zM179.0 152.7L188.6 157.2L188.7 174.0L179.0 169.6zM188.6 157.2L198.3 161.6L198.3 178.5L188.7 174.0zM362.1 237.4L371.8 241.8L372.0 259.1L362.3 254.6zM371.8 241.8L381.4 246.3L381.6 263.5L372.0 259.1zM429.6 268.6L437.0 272.0L437.3 289.4L429.9 285.9zM111.5 138.2L121.1 142.7L121.2 159.5L111.5 155.0zM130.8 147.2L140.4 151.7L140.5 168.5L130.8 164.0zM256.2 205.4L265.9 209.8L266.0 226.9L256.3 222.4zM352.7 250.1L362.3 254.6L362.5 271.8L352.9 267.3zM429.9 285.9L437.3 289.4L437.5 306.7L430.1 303.3zM159.8 177.5L169.4 182.0L169.5 198.8L159.8 194.3zM179.1 186.4L188.7 190.9L188.8 207.8L179.1 203.3zM198.4 195.4L208.1 199.9L208.1 216.9L198.5 212.3zM208.1 199.9L217.7 204.4L217.8 221.4L208.1 216.9zM246.7 217.9L256.3 222.4L256.4 239.4L246.8 234.9zM256.3 222.4L266.0 226.9L266.1 243.9L256.4 239.4zM275.6 231.4L285.3 235.9L285.4 252.9L275.8 248.4zM285.3 235.9L295.0 240.4L295.1 257.4L285.4 252.9zM314.3 249.3L323.9 253.8L324.1 271.0L314.4 266.5zM372.2 276.3L381.9 280.8L382.1 298.0L372.4 293.5zM381.9 280.8L391.5 285.3L391.7 302.6L382.1 298.0zM391.5 285.3L401.2 289.8L401.4 307.1L391.7 302.6zM410.8 294.3L420.5 298.8L420.7 316.1L411.1 311.6zM121.2 176.3L130.8 180.8L130.8 197.6L121.2 193.0zM130.8 180.8L140.5 185.3L140.5 202.1L130.8 197.6zM188.8 207.8L198.5 212.3L198.5 229.3L188.9 224.7zM198.5 212.3L208.1 216.9L208.2 233.8L198.5 229.3zM227.5 225.9L237.1 230.4L237.2 247.4L227.5 242.8zM237.1 230.4L246.8 234.9L246.9 251.9L237.2 247.4zM295.1 257.4L304.8 262.0L304.9 279.1L295.2 274.5zM304.8 262.0L314.4 266.5L314.6 283.6L304.9 279.1zM353.1 284.5L362.7 289.0L362.9 306.2L353.3 301.7zM362.7 289.0L372.4 293.5L372.6 310.8L362.9 306.2zM391.7 302.6L401.4 307.1L401.6 324.3L392.0 319.8zM430.4 320.6L437.8 324.0L438.0 341.4L430.6 337.9zM140.5 202.1L150.2 206.6L150.2 223.4L140.5 218.9zM150.2 206.6L159.9 211.1L159.9 228.0L150.2 223.4zM169.5 215.7L179.2 220.2L179.2 237.1L169.6 232.5zM198.5 229.3L208.2 233.8L208.3 250.7L198.6 246.2zM285.6 270.0L295.2 274.5L295.4 291.6L285.7 287.1zM353.3 301.7L362.9 306.2L363.1 323.4L353.5 318.9zM401.6 324.3L411.3 328.9L411.5 346.2L401.9 341.6zM411.3 328.9L421.0 333.4L421.2 350.7L411.5 346.2zM121.2 209.8L130.9 214.3L130.9 231.1L121.2 226.6zM150.2 240.3L159.9 244.8L160.0 261.7L150.3 257.1zM159.9 244.8L169.6 249.4L169.7 266.2L160.0 261.7zM189.0 258.5L198.7 263.1L198.7 280.0L189.1 275.4zM198.7 263.1L208.4 267.6L208.4 284.6L198.7 280.0zM218.0 272.2L227.7 276.8L227.8 293.7L218.1 289.1zM237.4 281.3L247.1 285.9L247.2 302.9L237.5 298.3zM256.8 290.5L266.5 295.0L266.6 312.1L256.9 307.5zM266.5 295.0L276.2 299.6L276.3 316.6L266.6 312.1zM305.2 313.3L314.9 317.8L315.1 335.0L305.4 330.4zM314.9 317.8L324.6 322.4L324.8 339.5L315.1 335.0zM421.5 368.0L431.1 372.6L431.4 389.9L421.7 385.4zM111.5 238.8L121.2 243.3L121.2 260.1L111.5 255.5zM121.2 243.3L130.9 247.9L130.9 264.7L121.2 260.1zM150.3 257.1L160.0 261.7L160.0 278.5L150.3 273.9zM237.5 298.3L247.2 302.9L247.3 319.9L237.6 315.3zM256.9 307.5L266.6 312.1L266.7 329.1L257.0 324.5zM295.7 325.8L305.4 330.4L305.5 347.5L295.8 342.9zM353.8 353.3L363.5 357.9L363.7 375.1L354.0 370.5zM363.5 357.9L373.2 362.5L373.4 379.7L363.7 375.1zM402.3 376.2L412.0 380.8L412.2 398.1L402.5 393.5zM111.5 255.5L121.2 260.1L121.2 276.9L111.5 272.2zM130.9 264.7L140.6 269.3L140.6 286.1L130.9 281.5zM150.3 273.9L160.0 278.5L160.0 295.3L150.3 290.7zM169.7 283.1L179.4 287.7L179.5 304.6L169.8 300.0zM276.4 333.7L286.1 338.3L286.3 355.4L276.6 350.7zM305.5 347.5L315.2 352.1L315.4 369.2L305.7 364.6zM392.8 388.9L402.5 393.5L402.8 410.8L393.1 406.1zM412.2 398.1L422.0 402.7L422.2 420.0L412.5 415.4zM140.6 286.1L150.3 290.7L150.4 307.5L140.7 302.9zM218.3 323.0L228.0 327.7L228.1 344.6L218.4 340.0zM228.0 327.7L237.7 332.3L237.8 349.3L228.1 344.6zM257.1 341.5L266.8 346.1L267.0 363.2L257.3 358.5zM354.2 387.7L363.9 392.3L364.1 409.5L354.4 404.9z"/>
<path fill="#0090ff" stroke="#0090ff" stroke-width="0.7" stroke-linejoin="round" d="M130.8 130.4L140.4 134.9L140.4 151.7L130.8 147.2zM140.4 134.9L150.1 139.3L150.1 156.1L140.4 151.7zM207.9 166.1L217.5 170.5L217.6 187.5L208.0 183.0zM265.7 192.8L275.4 197.3L275.5 214.3L265.9 209.8zM323.6 219.6L333.2 224.0L333.4 241.2L323.7 236.7zM140.4 151.7L150.1 156.1L150.1 173.0L140.5 168.5zM169.4 165.1L179.0 169.6L179.1 186.4L169.4 182.0zM217.6 187.5L227.3 191.9L227.4 208.9L217.7 204.4zM227.3 191.9L236.9 196.4L237.0 213.4L227.4 208.9zM246.6 200.9L256.2 205.4L256.3 222.4L246.7 217.9zM150.1 173.0L159.8 177.5L159.8 194.3L150.2 189.8zM237.0 213.4L246.7 217.9L246.8 234.9L237.1 230.4zM343.4 280.0L353.1 284.5L353.3 301.7L343.6 297.2zM208.2 233.8L217.9 238.3L218.0 255.3L208.3 250.7zM227.5 242.8L237.2 247.4L237.3 264.3L227.6 259.8zM237.2 247.4L246.9 251.9L247.0 268.9L237.3 264.3zM430.6 337.9L438.0 341.4L438.3 358.8L430.9 355.3zM188.9 241.6L198.6 246.2L198.7 263.1L189.0 258.5zM353.5 318.9L363.1 323.4L363.3 340.7L353.7 336.1zM372.8 328.0L382.5 332.5L382.7 349.8L373.0 345.2zM421.2 350.7L430.9 355.3L431.1 372.6L421.5 368.0zM111.5 222.0L121.2 226.6L121.2 243.3L111.5 238.8zM295.5 308.7L305.2 313.3L305.4 330.4L295.7 325.8zM305.4 330.4L315.1 335.0L315.2 352.1L305.5 347.5zM121.2 260.1L130.9 264.7L130.9 281.5L121.2 276.9zM198.8 296.9L208.5 301.5L208.6 318.4L198.9 313.8zM257.0 324.5L266.7 329.1L266.8 346.1L257.1 341.5zM150.3 290.7L160.0 295.3L160.1 312.2L150.4 307.5zM198.9 313.8L208.6 318.4L208.7 335.3L199.0 330.7zM237.7 332.3L247.4 336.9L247.5 353.9L237.8 349.3zM305.7 364.6L315.4 369.2L315.6 386.3L305.8 381.7z"/>
<path fill="#0020ff" stroke="#0020ff" stroke-width="0.7" stroke-linejoin="round" d="M227.2 175.0L236.8 179.4L236.9 196.4L227.3 191.9zM236.8 179.4L246.5 183.9L246.6 200.9L236.9 196.4zM285.0 201.7L294.7 206.2L294.8 223.3L285.2 218.8zM400.7 255.2L410.3 259.7L410.6 277.0L400.9 272.5zM236.9 196.4L246.6 200.9L246.7 217.9L237.0 213.4zM265.9 209.8L275.5 214.3L275.6 231.4L266.0 226.9zM314.1 232.2L323.7 236.7L323.9 253.8L314.3 249.3zM343.0 245.6L352.7 250.1L352.9 267.3L343.2 262.8zM400.9 272.5L410.6 277.0L410.8 294.3L401.2 289.8zM304.6 244.9L314.3 249.3L314.4 266.5L304.8 262.0zM323.9 253.8L333.6 258.3L333.8 275.5L324.1 271.0zM333.6 258.3L343.2 262.8L343.4 280.0L333.8 275.5zM401.2 289.8L410.8 294.3L411.1 311.6L401.4 307.1zM420.5 298.8L430.1 303.3L430.4 320.6L420.7 316.1zM111.5 171.8L121.2 176.3L121.2 193.0L111.5 188.5zM150.2 189.8L159.8 194.3L159.9 211.1L150.2 206.6zM266.2 261.0L275.9 265.5L276.0 282.5L266.4 278.0zM275.9 265.5L285.6 270.0L285.7 287.1L276.0 282.5zM324.3 288.1L333.9 292.7L334.1 309.8L324.4 305.3zM372.6 310.8L382.3 315.3L382.5 332.5L372.8 328.0zM159.9 228.0L169.6 232.5L169.6 249.4L159.9 244.8zM227.6 259.8L237.3 264.3L237.4 281.3L227.7 276.8zM324.4 305.3L334.1 309.8L334.3 327.0L324.6 322.4zM363.1 323.4L372.8 328.0L373.0 345.2L363.3 340.7zM430.9 355.3L438.3 358.8L438.6 376.1L431.1 372.6zM227.7 276.8L237.4 281.3L237.5 298.3L227.8 293.7zM344.0 331.5L353.7 336.1L353.8 353.3L344.2 348.7zM392.4 354.4L402.1 358.9L402.3 376.2L392.6 371.6zM402.1 358.9L411.8 363.5L412.0 380.8L402.3 376.2zM208.4 284.6L218.1 289.1L218.2 306.1L208.5 301.5zM227.8 293.7L237.5 298.3L237.6 315.3L227.9 310.7zM344.2 348.7L353.8 353.3L354.0 370.5L344.3 365.9zM373.2 362.5L382.9 367.0L383.1 384.3L373.4 379.7zM412.0 380.8L421.7 385.4L422.0 402.7L412.2 398.1zM179.4 287.7L189.1 292.3L189.2 309.2L179.5 304.6zM247.3 319.9L257.0 324.5L257.1 341.5L247.4 336.9zM286.1 338.3L295.8 342.9L296.0 360.0L286.3 355.4zM295.8 342.9L305.5 347.5L305.7 364.6L296.0 360.0zM334.6 361.3L344.3 365.9L344.5 383.1L334.8 378.4zM344.3 365.9L354.0 370.5L354.2 387.7L344.5 383.1zM422.0 402.7L431.7 407.3L431.9 424.6L422.2 420.0zM334.8 378.4L344.5 383.1L344.7 400.2L335.0 395.6zM393.1 406.1L402.8 410.8L403.0 428.0L393.3 423.4zM402.8 410.8L412.5 415.4L412.7 432.7L403.0 428.0zM431.9 424.6L439.3 428.1L439.6 445.5L432.2 442.0z"/>
<path fill="#ff8c00" stroke="#ff8c00" stroke-width="0.7" stroke-linejoin="round" d="M246.5 183.9L256.1 188.4L256.2 205.4L246.6 200.9zM294.7 206.2L304.3 210.6L304.5 227.7L294.8 223.3zM188.7 174.0L198.3 178.5L198.4 195.4L188.7 190.9zM362.3 254.6L372.0 259.1L372.2 276.3L362.5 271.8zM391.3 268.0L400.9 272.5L401.2 289.8L391.5 285.3zM352.9 267.3L362.5 271.8L362.7 289.0L353.1 284.5zM217.8 221.4L227.5 225.9L227.5 242.8L217.9 238.3zM266.1 243.9L275.8 248.4L275.9 265.5L266.2 261.0zM314.4 266.5L324.1 271.0L324.3 288.1L314.6 283.6zM246.9 251.9L256.6 256.4L256.7 273.4L247.0 268.9zM362.9 306.2L372.6 310.8L372.8 328.0L363.1 323.4zM140.5 218.9L150.2 223.4L150.2 240.3L140.6 235.7zM198.6 246.2L208.3 250.7L208.4 267.6L198.7 263.1zM208.4 267.6L218.0 272.2L218.1 289.1L208.4 284.6zM140.6 252.5L150.3 257.1L150.3 273.9L140.6 269.3zM160.0 261.7L169.7 266.2L169.7 283.1L160.0 278.5zM324.8 339.5L334.5 344.1L334.6 361.3L324.9 356.7zM237.6 315.3L247.3 319.9L247.4 336.9L237.7 332.3zM373.4 379.7L383.1 384.3L383.4 401.5L373.7 396.9zM383.1 384.3L392.8 388.9L393.1 406.1L383.4 401.5zM111.5 272.2L121.2 276.9L121.2 293.6L111.5 289.0zM121.2 276.9L130.9 281.5L130.9 298.3L121.2 293.6z"/>
<path fill="#9cff60" stroke="#9cff60" stroke-width="0.7" stroke-linejoin="round" d="M256.1 188.4L265.7 192.8L265.9 209.8L256.2 205.4zM333.2 224.0L342.9 228.5L343.0 245.6L333.4 241.2zM169.5 198.8L179.1 203.3L179.2 220.2L169.5 215.7zM130.8 197.6L140.5 202.1L140.5 218.9L130.9 214.3zM188.9 224.7L198.5 229.3L198.6 246.2L188.9 241.6zM314.6 283.6L324.3 288.1L324.4 305.3L314.7 300.7zM343.6 297.2L353.3 301.7L353.5 318.9L343.8 314.4zM179.2 237.1L188.9 241.6L189.0 258.5L179.3 253.9zM227.9 310.7L237.6 315.3L237.7 332.3L228.0 327.7zM354.0 370.5L363.7 375.1L363.9 392.3L354.2 387.7zM266.8 346.1L276.6 350.7L276.7 367.8L267.0 363.2zM276.6 350.7L286.3 355.4L286.4 372.4L276.7 367.8zM344.5 383.1L354.2 387.7L354.4 404.9L344.7 400.2zM422.2 420.0L431.9 424.6L432.2 442.0L422.4 437.3z"/>
<path fill="#50ffb0" stroke="#50ffb0" stroke-width="0.7" stroke-linejoin="round" d="M179.0 169.6L188.7 174.0L188.7 190.9L179.1 186.4zM266.4 278.0L276.0 282.5L276.2 299.6L266.5 295.0zM314.7 300.7L324.4 305.3L324.6 322.4L314.9 317.8zM392.2 337.1L401.9 341.6L402.1 358.9L392.4 354.4zM431.1 372.6L438.6 376.1L438.8 393.4L431.4 389.9zM130.9 247.9L140.6 252.5L140.6 269.3L130.9 264.7zM402.5 393.5L412.2 398.1L412.5 415.4L402.8 410.8z"/>
<path fill="#ffee00" stroke="#ffee00" stroke-width="0.7" stroke-linejoin="round" d="M304.5 227.7L314.1 232.2L314.3 249.3L304.6 244.9zM121.2 159.5L130.8 164.0L130.8 180.8L121.2 176.3zM246.8 234.9L256.4 239.4L256.6 256.4L246.9 251.9zM159.9 211.1L169.5 215.7L169.6 232.5L159.9 228.0zM217.9 238.3L227.5 242.8L227.6 259.8L218.0 255.3zM382.3 315.3L392.0 319.8L392.2 337.1L382.5 332.5zM218.0 255.3L227.6 259.8L227.7 276.8L218.0 272.2zM285.7 287.1L295.4 291.6L295.5 308.7L285.9 304.1zM169.6 249.4L179.3 253.9L179.4 270.8L169.7 266.2zM169.7 266.2L179.4 270.8L179.4 287.7L169.7 283.1zM247.2 302.9L256.9 307.5L257.0 324.5L247.3 319.9zM218.2 306.1L227.9 310.7L228.0 327.7L218.3 323.0zM315.2 352.1L324.9 356.7L325.1 373.8L315.4 369.2zM247.4 336.9L257.1 341.5L257.3 358.5L247.5 353.9z"/>
<path fill="#ff1000" stroke="#ff1000" stroke-width="0.7" stroke-linejoin="round" d="M372.0 259.1L381.6 263.5L381.9 280.8L372.2 276.3zM401.4 307.1L411.1 311.6L411.3 328.9L401.6 324.3zM256.6 256.4L266.2 261.0L266.4 278.0L256.7 273.4zM208.3 250.7L218.0 255.3L218.0 272.2L208.4 267.6zM315.1 335.0L324.8 339.5L324.9 356.7L315.2 352.1zM189.1 292.3L198.8 296.9L198.9 313.8L189.2 309.2zM266.7 329.1L276.4 333.7L276.6 350.7L266.8 346.1zM412.5 415.4L422.2 420.0L422.4 437.3L412.7 432.7z"/>
<path fill="#10f0ff" stroke="#10f0ff" stroke-width="0.7" stroke-linejoin="round" d="M130.8 164.0L140.5 168.5L140.5 185.3L130.8 180.8zM188.7 190.9L198.4 195.4L198.5 212.3L188.8 207.8zM217.7 204.4L227.4 208.9L227.5 225.9L217.8 221.4zM227.4 208.9L237.0 213.4L237.1 230.4L227.5 225.9zM343.2 262.8L352.9 267.3L353.1 284.5L343.4 280.0zM275.8 248.4L285.4 252.9L285.6 270.0L275.9 265.5zM285.4 252.9L295.1 257.4L295.2 274.5L285.6 270.0zM333.8 275.5L343.4 280.0L343.6 297.2L333.9 292.7zM121.2 193.0L130.8 197.6L130.9 214.3L121.2 209.8zM276.0 282.5L285.7 287.1L285.9 304.1L276.2 299.6zM247.1 285.9L256.8 290.5L256.9 307.5L247.2 302.9zM324.6 322.4L334.3 327.0L334.5 344.1L324.8 339.5zM353.7 336.1L363.3 340.7L363.5 357.9L353.8 353.3zM363.3 340.7L373.0 345.2L373.2 362.5L363.5 357.9zM382.9 367.0L392.6 371.6L392.8 388.9L383.1 384.3zM140.6 269.3L150.3 273.9L150.3 290.7L140.6 286.1zM208.5 301.5L218.2 306.1L218.3 323.0L208.6 318.4zM324.9 356.7L334.6 361.3L334.8 378.4L325.1 373.8zM431.7 407.3L439.1 410.8L439.3 428.1L431.9 424.6zM130.9 281.5L140.6 286.1L140.7 302.9L130.9 298.3zM315.4 369.2L325.1 373.8L325.3 391.0L315.6 386.3zM325.1 373.8L334.8 378.4L335.0 395.6L325.3 391.0z"/>
<path fill="#00009c" stroke="#00009c" stroke-width="0.7" stroke-linejoin="round" d="M437.0 272.0L453.4 268.9L453.7 286.2L437.3 289.4zM483.0 263.3L497.8 260.5L498.0 277.8L483.2 280.6zM557.0 249.4L571.8 246.6L572.0 263.8L557.2 266.6zM571.8 246.6L586.6 243.8L586.8 261.0L572.0 263.8zM838.3 196.4L853.1 193.6L853.1 210.5L838.3 213.3zM437.3 289.4L453.7 286.2L453.9 303.6L437.5 306.7zM468.4 283.4L483.2 280.6L483.5 297.9L468.7 300.7zM512.8 275.0L527.6 272.2L527.8 289.4L513.1 292.3zM631.2 252.6L646.0 249.8L646.1 266.8L631.4 269.7zM660.8 246.9L675.6 244.1L675.7 261.2L660.9 264.0zM749.6 230.1L764.4 227.3L764.4 244.2L749.7 247.1zM793.9 221.7L808.7 218.9L808.8 235.8L794.0 238.6zM927.1 196.4L941.9 193.6L941.9 210.3L927.1 213.2zM498.3 295.1L513.1 292.3L513.3 309.5L498.5 312.4zM616.6 272.5L631.4 269.7L631.5 286.8L616.7 289.6zM631.4 269.7L646.1 266.8L646.3 283.9L631.5 286.8zM660.9 264.0L675.7 261.2L675.9 278.2L661.1 281.1zM675.7 261.2L690.5 258.4L690.6 275.4L675.9 278.2zM690.5 258.4L705.3 255.5L705.4 272.6L690.6 275.4zM823.6 232.9L838.4 230.1L838.4 247.0L823.7 249.8zM838.4 230.1L853.2 227.3L853.2 244.1L838.4 247.0zM897.5 218.8L912.3 216.0L912.3 232.7L897.6 235.6zM927.1 213.2L941.9 210.3L941.9 227.1L927.1 229.9zM437.8 324.0L454.2 320.9L454.4 338.2L438.0 341.4zM483.7 315.2L498.5 312.4L498.7 329.6L484.0 332.5zM542.8 303.8L557.6 301.0L557.8 318.2L543.0 321.1zM587.2 295.3L602.0 292.5L602.1 309.6L587.4 312.5zM602.0 292.5L616.7 289.6L616.9 306.7L602.1 309.6zM675.9 278.2L690.6 275.4L690.8 292.4L676.0 295.3zM690.6 275.4L705.4 272.6L705.5 289.6L690.8 292.4zM720.2 269.7L735.0 266.9L735.1 283.8L720.3 286.7zM749.8 264.0L764.5 261.2L764.6 278.1L749.9 281.0zM823.7 249.8L838.4 247.0L838.5 263.8L823.7 266.7zM868.0 241.3L882.8 238.4L882.8 255.2L868.0 258.1zM454.4 338.2L469.2 335.4L469.4 352.7L454.7 355.6zM543.0 321.1L557.8 318.2L558.0 335.4L543.2 338.3zM587.4 312.5L602.1 309.6L602.3 326.8L587.5 329.6zM616.9 306.7L631.7 303.9L631.8 321.0L617.1 323.9zM661.2 298.2L676.0 295.3L676.1 312.4L661.4 315.2zM705.5 289.6L720.3 286.7L720.4 303.7L705.7 306.6zM720.3 286.7L735.1 283.8L735.2 300.8L720.4 303.7zM853.3 261.0L868.0 258.1L868.1 274.9L853.3 277.8zM868.0 258.1L882.8 255.2L882.8 272.0L868.1 274.9zM882.8 255.2L897.6 252.4L897.6 269.1L882.8 272.0zM912.4 249.5L927.1 246.6L927.1 263.4L912.4 266.3zM454.7 355.6L469.4 352.7L469.7 370.0L454.9 372.9zM484.2 349.8L499.0 346.9L499.2 364.2L484.4 367.1zM587.5 329.6L602.3 326.8L602.5 343.9L587.7 346.8zM602.3 326.8L617.1 323.9L617.2 341.0L602.5 343.9zM705.7 306.6L720.4 303.7L720.5 320.7L705.8 323.6zM720.4 303.7L735.2 300.8L735.3 317.8L720.5 320.7zM838.5 280.7L853.3 277.8L853.4 294.6L838.6 297.5zM897.6 269.1L912.4 266.3L912.4 283.0L897.6 285.9zM912.4 266.3L927.1 263.4L927.1 280.1L912.4 283.0zM454.9 372.9L469.7 370.0L469.9 387.3L455.2 390.2zM469.7 370.0L484.4 367.1L484.7 384.4L469.9 387.3zM646.8 335.2L661.5 332.3L661.7 349.4L646.9 352.3zM691.0 326.5L705.8 323.6L705.9 340.6L691.2 343.5zM705.8 323.6L720.5 320.7L720.7 337.7L705.9 340.6zM720.5 320.7L735.3 317.8L735.4 334.8L720.7 337.7zM750.1 314.9L764.8 312.0L764.9 329.0L750.2 331.9zM838.6 297.5L853.4 294.6L853.4 311.4L838.7 314.4zM868.1 291.7L882.9 288.8L882.9 305.6L868.2 308.5zM882.9 288.8L897.6 285.9L897.7 302.7L882.9 305.6zM897.6 285.9L912.4 283.0L912.4 299.8L897.7 302.7zM927.1 280.1L941.9 277.2L941.9 293.9L927.2 296.9zM514.2 378.5L528.9 375.6L529.1 392.9L514.4 395.8zM528.9 375.6L543.7 372.7L543.9 389.9L529.1 392.9zM573.2 366.9L587.9 364.0L588.1 381.1L573.3 384.1zM691.2 343.5L705.9 340.6L706.0 357.6L691.3 360.6zM779.7 326.0L794.4 323.1L794.5 340.0L779.7 343.0zM794.4 323.1L809.2 320.2L809.2 337.1L794.5 340.0zM897.7 302.7L912.4 299.8L912.4 316.5L897.7 319.5zM484.9 401.7L499.6 398.7L499.9 416.0L485.1 419.0zM514.4 395.8L529.1 392.9L529.3 410.1L514.6 413.1zM543.9 389.9L558.6 387.0L558.8 404.2L544.1 407.2zM602.8 378.2L617.6 375.3L617.7 392.4L603.0 395.3zM632.3 372.3L647.1 369.4L647.2 386.5L632.5 389.4zM720.8 354.7L735.5 351.8L735.6 368.7L720.9 371.7zM779.7 343.0L794.5 340.0L794.6 356.9L779.8 359.9zM824.0 334.1L838.7 331.2L838.8 348.1L824.0 351.0zM485.1 419.0L499.9 416.0L500.1 433.3L485.4 436.3zM499.9 416.0L514.6 413.1L514.8 430.3L500.1 433.3zM588.3 398.3L603.0 395.3L603.2 412.5L588.5 415.5zM617.7 392.4L632.5 389.4L632.6 406.5L617.9 409.5zM647.2 386.5L661.9 383.5L662.1 400.6L647.4 403.6zM661.9 383.5L676.7 380.6L676.8 397.6L662.1 400.6zM735.6 368.7L750.4 365.8L750.5 382.7L735.7 385.7zM765.1 362.8L779.8 359.9L779.9 376.8L765.2 379.8zM824.0 351.0L838.8 348.1L838.8 364.9L824.1 367.9zM868.2 342.2L883.0 339.2L883.0 356.0L868.3 359.0zM897.7 336.2L912.4 333.3L912.4 350.0L897.7 353.0zM927.2 330.3L941.9 327.4L941.9 344.1L927.2 347.1z"/>
<path fill="#800000" stroke="#800000" stroke-width="0.7" stroke-linejoin="round" d="M453.4 268.9L468.2 266.1L468.4 283.4L453.7 286.2zM512.6 257.8L527.4 255.0L527.6 272.2L512.8 275.0zM601.4 241.0L616.2 238.2L616.4 255.4L601.6 258.2zM645.8 232.7L660.6 229.9L660.8 246.9L646.0 249.8zM675.4 227.1L690.2 224.3L690.4 241.3L675.6 244.1zM734.7 215.9L749.5 213.1L749.6 230.1L734.8 232.9zM779.1 207.6L793.9 204.8L793.9 221.7L779.2 224.5zM823.5 199.2L838.3 196.4L838.3 213.3L823.5 216.1zM853.1 193.6L867.9 190.8L867.9 207.7L853.1 210.5zM897.5 185.3L912.3 182.5L912.3 199.2L897.5 202.0zM453.7 286.2L468.4 283.4L468.7 300.7L453.9 303.6zM498.0 277.8L512.8 275.0L513.1 292.3L498.3 295.1zM527.6 272.2L542.4 269.4L542.6 286.6L527.8 289.4zM557.2 266.6L572.0 263.8L572.2 281.0L557.4 283.8zM616.4 255.4L631.2 252.6L631.4 269.7L616.6 272.5zM646.0 249.8L660.8 246.9L660.9 264.0L646.1 266.8zM705.2 238.5L720.0 235.7L720.1 252.7L705.3 255.5zM764.4 227.3L779.2 224.5L779.2 241.4L764.4 244.2zM808.7 218.9L823.5 216.1L823.6 232.9L808.8 235.8zM838.3 213.3L853.1 210.5L853.2 227.3L838.4 230.1zM853.1 210.5L867.9 207.7L868.0 224.5L853.2 227.3zM882.7 204.8L897.5 202.0L897.5 218.8L882.7 221.6zM912.3 199.2L927.1 196.4L927.1 213.2L912.3 216.0zM437.5 306.7L453.9 303.6L454.2 320.9L437.8 324.0zM483.5 297.9L498.3 295.1L498.5 312.4L483.7 315.2zM513.1 292.3L527.8 289.4L528.1 306.7L513.3 309.5zM542.6 286.6L557.4 283.8L557.6 301.0L542.8 303.8zM572.2 281.0L587.0 278.1L587.2 295.3L572.4 298.2zM646.1 266.8L660.9 264.0L661.1 281.1L646.3 283.9zM749.7 247.1L764.4 244.2L764.5 261.2L749.8 264.0zM794.0 238.6L808.8 235.8L808.9 252.7L794.1 255.5zM853.2 227.3L868.0 224.5L868.0 241.3L853.2 244.1zM868.0 224.5L882.7 221.6L882.8 238.4L868.0 241.3zM912.3 216.0L927.1 213.2L927.1 229.9L912.3 232.7zM454.2 320.9L468.9 318.1L469.2 335.4L454.4 338.2zM557.6 301.0L572.4 298.2L572.6 315.3L557.8 318.2zM631.5 286.8L646.3 283.9L646.4 301.0L631.7 303.9zM705.4 272.6L720.2 269.7L720.3 286.7L705.5 289.6zM779.3 258.3L794.1 255.5L794.2 272.4L779.4 275.3zM808.9 252.7L823.7 249.8L823.7 266.7L808.9 269.5zM882.8 238.4L897.6 235.6L897.6 252.4L882.8 255.2zM912.3 232.7L927.1 229.9L927.1 246.6L912.4 249.5zM498.7 329.6L513.5 326.8L513.7 344.0L499.0 346.9zM557.8 318.2L572.6 315.3L572.8 332.5L558.0 335.4zM572.6 315.3L587.4 312.5L587.5 329.6L572.8 332.5zM602.1 309.6L616.9 306.7L617.1 323.9L602.3 326.8zM631.7 303.9L646.4 301.0L646.6 318.1L631.8 321.0zM646.4 301.0L661.2 298.2L661.4 315.2L646.6 318.1zM690.8 292.4L705.5 289.6L705.7 306.6L690.9 309.5zM735.1 283.8L749.9 281.0L750.0 297.9L735.2 300.8zM794.2 272.4L808.9 269.5L809.0 286.4L794.3 289.3zM823.7 266.7L838.5 263.8L838.5 280.7L823.8 283.5zM469.4 352.7L484.2 349.8L484.4 367.1L469.7 370.0zM528.5 341.2L543.2 338.3L543.5 355.5L528.7 358.4zM572.8 332.5L587.5 329.6L587.7 346.8L573.0 349.7zM676.1 312.4L690.9 309.5L691.0 326.5L676.3 329.4zM690.9 309.5L705.7 306.6L705.8 323.6L691.0 326.5zM779.5 292.2L794.3 289.3L794.3 306.2L779.6 309.1zM794.3 289.3L809.0 286.4L809.1 303.3L794.3 306.2zM868.1 274.9L882.8 272.0L882.9 288.8L868.1 291.7zM602.5 343.9L617.2 341.0L617.4 358.1L602.7 361.0zM661.5 332.3L676.3 329.4L676.4 346.5L661.7 349.4zM764.8 312.0L779.6 309.1L779.7 326.0L764.9 329.0zM823.8 300.4L838.6 297.5L838.7 314.4L823.9 317.3zM912.4 283.0L927.1 280.1L927.2 296.9L912.4 299.8zM438.8 393.4L455.2 390.2L455.4 407.5L439.1 410.8zM469.9 387.3L484.7 384.4L484.9 401.7L470.2 404.6zM484.7 384.4L499.4 381.5L499.6 398.7L484.9 401.7zM543.7 372.7L558.4 369.8L558.6 387.0L543.9 389.9zM558.4 369.8L573.2 366.9L573.3 384.1L558.6 387.0zM587.9 364.0L602.7 361.0L602.8 378.2L588.1 381.1zM632.2 355.2L646.9 352.3L647.1 369.4L632.3 372.3zM661.7 349.4L676.4 346.5L676.5 363.5L661.8 366.4zM676.4 346.5L691.2 343.5L691.3 360.6L676.5 363.5zM705.9 340.6L720.7 337.7L720.8 354.7L706.0 357.6zM720.7 337.7L735.4 334.8L735.5 351.8L720.8 354.7zM853.4 311.4L868.2 308.5L868.2 325.3L853.4 328.3zM912.4 299.8L927.2 296.9L927.2 313.6L912.4 316.5zM927.2 296.9L941.9 293.9L941.9 310.7L927.2 313.6zM661.8 366.4L676.5 363.5L676.7 380.6L661.9 383.5zM676.5 363.5L691.3 360.6L691.4 377.6L676.7 380.6zM765.0 345.9L779.7 343.0L779.8 359.9L765.1 362.8zM868.2 325.3L882.9 322.4L883.0 339.2L868.2 342.2zM912.4 316.5L927.2 313.6L927.2 330.3L912.4 333.3zM514.6 413.1L529.3 410.1L529.5 427.3L514.8 430.3zM544.1 407.2L558.8 404.2L559.0 421.4L544.3 424.4zM573.5 401.2L588.3 398.3L588.5 415.5L573.7 418.4zM632.5 389.4L647.2 386.5L647.4 403.6L632.6 406.5zM676.7 380.6L691.4 377.6L691.5 394.6L676.8 397.6zM691.4 377.6L706.1 374.7L706.3 391.7L691.5 394.6zM750.4 365.8L765.1 362.8L765.2 379.8L750.5 382.7zM779.8 359.9L794.6 356.9L794.6 373.8L779.9 376.8zM853.5 345.1L868.2 342.2L868.3 359.0L853.5 361.9zM883.0 339.2L897.7 336.2L897.7 353.0L883.0 356.0zM912.4 333.3L927.2 330.3L927.2 347.1L912.4 350.0z"/>
<path fill="#0020ff" stroke="#0020ff" stroke-width="0.7" stroke-linejoin="round" d="M468.2 266.1L483.0 263.3L483.2 280.6L468.4 283.4zM542.2 252.2L557.0 249.4L557.2 266.6L542.4 269.4zM586.6 243.8L601.4 241.0L601.6 258.2L586.8 261.0zM660.6 229.9L675.4 227.1L675.6 244.1L660.8 246.9zM705.1 221.5L719.9 218.7L720.0 235.7L705.2 238.5zM719.9 218.7L734.7 215.9L734.8 232.9L720.0 235.7zM793.9 204.8L808.7 202.0L808.7 218.9L793.9 221.7zM927.1 179.7L941.9 176.9L941.9 193.6L927.1 196.4zM586.8 261.0L601.6 258.2L601.8 275.3L587.0 278.1zM690.4 241.3L705.2 238.5L705.3 255.5L690.5 258.4zM823.5 216.1L838.3 213.3L838.4 230.1L823.6 232.9zM897.5 202.0L912.3 199.2L912.3 216.0L897.5 218.8zM453.9 303.6L468.7 300.7L468.9 318.1L454.2 320.9zM720.1 252.7L734.9 249.9L735.0 266.9L720.2 269.7zM734.9 249.9L749.7 247.1L749.8 264.0L735.0 266.9zM764.4 244.2L779.2 241.4L779.3 258.3L764.5 261.2zM572.4 298.2L587.2 295.3L587.4 312.5L572.6 315.3zM616.7 289.6L631.5 286.8L631.7 303.9L616.9 306.7zM661.1 281.1L675.9 278.2L676.0 295.3L661.2 298.2zM764.5 261.2L779.3 258.3L779.4 275.3L764.6 278.1zM897.6 235.6L912.3 232.7L912.4 249.5L897.6 252.4zM469.2 335.4L484.0 332.5L484.2 349.8L469.4 352.7zM513.5 326.8L528.3 323.9L528.5 341.2L513.7 344.0zM676.0 295.3L690.8 292.4L690.9 309.5L676.1 312.4zM808.9 269.5L823.7 266.7L823.8 283.5L809.0 286.4zM838.5 263.8L853.3 261.0L853.3 277.8L838.5 280.7zM438.3 358.8L454.7 355.6L454.9 372.9L438.6 376.1zM513.7 344.0L528.5 341.2L528.7 358.4L513.9 361.3zM646.6 318.1L661.4 315.2L661.5 332.3L646.8 335.2zM499.2 364.2L513.9 361.3L514.2 378.5L499.4 381.5zM528.7 358.4L543.5 355.5L543.7 372.7L528.9 375.6zM558.2 352.6L573.0 349.7L573.2 366.9L558.4 369.8zM573.0 349.7L587.7 346.8L587.9 364.0L573.2 366.9zM617.2 341.0L632.0 338.1L632.2 355.2L617.4 358.1zM632.0 338.1L646.8 335.2L646.9 352.3L632.2 355.2zM779.6 309.1L794.3 306.2L794.4 323.1L779.7 326.0zM602.7 361.0L617.4 358.1L617.6 375.3L602.8 378.2zM617.4 358.1L632.2 355.2L632.3 372.3L617.6 375.3zM735.4 334.8L750.2 331.9L750.3 348.8L735.5 351.8zM809.2 320.2L823.9 317.3L824.0 334.1L809.2 337.1zM573.3 384.1L588.1 381.1L588.3 398.3L573.5 401.2zM691.3 360.6L706.0 357.6L706.1 374.7L691.4 377.6zM750.3 348.8L765.0 345.9L765.1 362.8L750.4 365.8zM838.7 331.2L853.4 328.3L853.5 345.1L838.8 348.1zM853.4 328.3L868.2 325.3L868.2 342.2L853.5 345.1zM882.9 322.4L897.7 319.5L897.7 336.2L883.0 339.2zM439.3 428.1L455.7 424.9L455.9 442.2L439.6 445.5zM558.8 404.2L573.5 401.2L573.7 418.4L559.0 421.4zM809.3 354.0L824.0 351.0L824.1 367.9L809.4 370.9z"/>
<path fill="#0090ff" stroke="#0090ff" stroke-width="0.7" stroke-linejoin="round" d="M497.8 260.5L512.6 257.8L512.8 275.0L498.0 277.8zM527.4 255.0L542.2 252.2L542.4 269.4L527.6 272.2zM808.7 202.0L823.5 199.2L823.5 216.1L808.7 218.9zM572.0 263.8L586.8 261.0L587.0 278.1L572.2 281.0zM675.6 244.1L690.4 241.3L690.5 258.4L675.7 261.2zM720.0 235.7L734.8 232.9L734.9 249.9L720.1 252.7zM527.8 289.4L542.6 286.6L542.8 303.8L528.1 306.7zM557.4 283.8L572.2 281.0L572.4 298.2L557.6 301.0zM705.3 255.5L720.1 252.7L720.2 269.7L705.4 272.6zM779.2 241.4L794.0 238.6L794.1 255.5L779.3 258.3zM513.3 309.5L528.1 306.7L528.3 323.9L513.5 326.8zM646.3 283.9L661.1 281.1L661.2 298.2L646.4 301.0zM838.4 247.0L853.2 244.1L853.3 261.0L838.5 263.8zM853.2 244.1L868.0 241.3L868.0 258.1L853.3 261.0zM438.0 341.4L454.4 338.2L454.7 355.6L438.3 358.8zM528.3 323.9L543.0 321.1L543.2 338.3L528.5 341.2zM764.6 278.1L779.4 275.3L779.5 292.2L764.7 295.1zM779.4 275.3L794.2 272.4L794.3 289.3L779.5 292.2zM927.1 246.6L941.9 243.8L941.9 260.5L927.1 263.4zM543.2 338.3L558.0 335.4L558.2 352.6L543.5 355.5zM735.2 300.8L750.0 297.9L750.1 314.9L735.3 317.8zM809.0 286.4L823.8 283.5L823.8 300.4L809.1 303.3zM823.8 283.5L838.5 280.7L838.6 297.5L823.8 300.4zM484.4 367.1L499.2 364.2L499.4 381.5L484.7 384.4zM809.1 303.3L823.8 300.4L823.9 317.3L809.2 320.2zM499.4 381.5L514.2 378.5L514.4 395.8L499.6 398.7zM750.2 331.9L764.9 329.0L765.0 345.9L750.3 348.8zM764.9 329.0L779.7 326.0L779.7 343.0L765.0 345.9zM868.2 308.5L882.9 305.6L882.9 322.4L868.2 325.3zM882.9 305.6L897.7 302.7L897.7 319.5L882.9 322.4zM647.1 369.4L661.8 366.4L661.9 383.5L647.2 386.5zM794.5 340.0L809.2 337.1L809.3 354.0L794.6 356.9zM897.7 319.5L912.4 316.5L912.4 333.3L897.7 336.2zM720.9 371.7L735.6 368.7L735.7 385.7L721.0 388.7z"/>
<path fill="#ff8c00" stroke="#ff8c00" stroke-width="0.7" stroke-linejoin="round" d="M616.2 238.2L631.0 235.5L631.2 252.6L616.4 255.4zM749.5 213.1L764.3 210.4L764.4 227.3L749.6 230.1zM542.4 269.4L557.2 266.6L557.4 283.8L542.6 286.6zM867.9 207.7L882.7 204.8L882.7 221.6L868.0 224.5zM735.0 266.9L749.8 264.0L749.9 281.0L735.1 283.8zM853.3 277.8L868.1 274.9L868.1 291.7L853.4 294.6zM838.7 314.4L853.4 311.4L853.4 328.3L838.7 331.2zM735.5 351.8L750.3 348.8L750.4 365.8L735.6 368.7zM927.2 313.6L941.9 310.7L941.9 327.4L927.2 330.3z"/>
<path fill="#ffee00" stroke="#ffee00" stroke-width="0.7" stroke-linejoin="round" d="M631.0 235.5L645.8 232.7L646.0 249.8L631.2 252.6zM601.6 258.2L616.4 255.4L616.6 272.5L601.8 275.3zM734.8 232.9L749.6 230.1L749.7 247.1L734.9 249.9zM779.2 224.5L793.9 221.7L794.0 238.6L779.2 241.4zM587.0 278.1L601.8 275.3L602.0 292.5L587.2 295.3zM631.8 321.0L646.6 318.1L646.8 335.2L632.0 338.1zM661.4 315.2L676.1 312.4L676.3 329.4L661.5 332.3zM750.0 297.9L764.7 295.1L764.8 312.0L750.1 314.9zM882.8 272.0L897.6 269.1L897.6 285.9L882.9 288.8zM794.3 306.2L809.1 303.3L809.2 320.2L794.4 323.1zM823.9 317.3L838.7 314.4L838.7 331.2L824.0 334.1zM470.2 404.6L484.9 401.7L485.1 419.0L470.4 421.9zM588.1 381.1L602.8 378.2L603.0 395.3L588.3 398.3zM838.8 348.1L853.5 345.1L853.5 361.9L838.8 364.9z"/>
<path fill="#9cff60" stroke="#9cff60" stroke-width="0.7" stroke-linejoin="round" d="M690.2 224.3L705.1 221.5L705.2 238.5L690.4 241.3zM882.7 188.1L897.5 185.3L897.5 202.0L882.7 204.8zM528.1 306.7L542.8 303.8L543.0 321.1L528.3 323.9zM927.1 229.9L941.9 227.1L941.9 243.8L927.1 246.6zM617.1 323.9L631.8 321.0L632.0 338.1L617.2 341.0zM513.9 361.3L528.7 358.4L528.9 375.6L514.2 378.5zM455.4 407.5L470.2 404.6L470.4 421.9L455.7 424.9zM499.6 398.7L514.4 395.8L514.6 413.1L499.9 416.0zM603.0 395.3L617.7 392.4L617.9 409.5L603.2 412.5zM794.6 356.9L809.3 354.0L809.4 370.9L794.6 373.8z"/>
<path fill="#ff1000" stroke="#ff1000" stroke-width="0.7" stroke-linejoin="round" d="M764.3 210.4L779.1 207.6L779.2 224.5L764.4 227.3zM867.9 190.8L882.7 188.1L882.7 204.8L867.9 207.7zM808.8 235.8L823.6 232.9L823.7 249.8L808.9 252.7zM484.0 332.5L498.7 329.6L499.0 346.9L484.2 349.8zM558.0 335.4L572.8 332.5L573.0 349.7L558.2 352.6zM706.0 357.6L720.8 354.7L720.9 371.7L706.1 374.7zM529.3 410.1L544.1 407.2L544.3 424.4L529.5 427.3zM706.1 374.7L720.9 371.7L721.0 388.7L706.3 391.7z"/>
<path fill="#50ffb0" stroke="#50ffb0" stroke-width="0.7" stroke-linejoin="round" d="M912.3 182.5L927.1 179.7L927.1 196.4L912.3 199.2zM483.2 280.6L498.0 277.8L498.3 295.1L483.5 297.9zM468.7 300.7L483.5 297.9L483.7 315.2L468.9 318.1zM468.9 318.1L483.7 315.2L484.0 332.5L469.2 335.4zM897.6 252.4L912.4 249.5L912.4 266.3L897.6 269.1zM927.1 263.4L941.9 260.5L941.9 277.2L927.1 280.1zM438.6 376.1L454.9 372.9L455.2 390.2L438.8 393.4zM735.3 317.8L750.1 314.9L750.2 331.9L735.4 334.8zM529.1 392.9L543.9 389.9L544.1 407.2L529.3 410.1zM558.6 387.0L573.3 384.1L573.5 401.2L558.8 404.2zM470.4 421.9L485.1 419.0L485.4 436.3L470.6 439.2z"/>
<path fill="#10f0ff" stroke="#10f0ff" stroke-width="0.7" stroke-linejoin="round" d="M601.8 275.3L616.6 272.5L616.7 289.6L602.0 292.5zM882.7 221.6L897.5 218.8L897.6 235.6L882.8 238.4zM498.5 312.4L513.3 309.5L513.5 326.8L498.7 329.6zM794.1 255.5L808.9 252.7L808.9 269.5L794.2 272.4zM749.9 281.0L764.6 278.1L764.7 295.1L750.0 297.9zM499.0 346.9L513.7 344.0L513.9 361.3L499.2 364.2zM764.7 295.1L779.5 292.2L779.6 309.1L764.8 312.0zM543.5 355.5L558.2 352.6L558.4 369.8L543.7 372.7zM587.7 346.8L602.5 343.9L602.7 361.0L587.9 364.0zM676.3 329.4L691.0 326.5L691.2 343.5L676.4 346.5zM853.4 294.6L868.1 291.7L868.2 308.5L853.4 311.4zM455.2 390.2L469.9 387.3L470.2 404.6L455.4 407.5zM646.9 352.3L661.7 349.4L661.8 366.4L647.1 369.4zM439.1 410.8L455.4 407.5L455.7 424.9L439.3 428.1zM617.6 375.3L632.3 372.3L632.5 389.4L617.7 392.4zM809.2 337.1L824.0 334.1L824.0 351.0L809.3 354.0zM455.7 424.9L470.4 421.9L470.6 439.2L455.9 442.2z"/>
<g stroke="#9a9a9a" stroke-width="1.4" fill="none">
<path d="M101.4 113.8V289.4L440 448L955.4 344.7"/>
<path d="M89.9 115.5L101.4 120.9"/>
<path d="M89.9 200.2L101.4 205.6"/>
<path d="M89.9 284.0L101.4 289.4"/>
<path d="M138.4 312.5L150.9 315.0"/>
<path d="M233.0 357.5L245.5 360.0"/>
<path d="M328.8 403.7L341.3 406.2"/>
<path d="M584.0 420.0L596.5 425.0"/>
<path d="M733.0 390.5L745.5 395.5"/>
<path d="M883.4 359.5L895.9 364.5"/>
<path d="M425.5 450.7L440 448L450 455.6"/>
</g>
<text x="46.0" y="63.7" font-size="36.5">(a)</text>
<text x="84.8" y="127.5" font-size="36" text-anchor="end">20</text>
<text x="84.8" y="210.5" font-size="36" text-anchor="end">10</text>
<text x="84.8" y="295.0" font-size="36" text-anchor="end">0</text>
<text transform="translate(26.4,244.4) rotate(-90)" font-size="31">Z (<tspan font-family='"Liberation Serif", serif'>μ</tspan>m)</text>
<text x="112.9" y="348.7" font-size="36" text-anchor="middle">60</text>
<text x="208.9" y="395.0" font-size="36" text-anchor="middle">40</text>
<text x="305.2" y="441.2" font-size="36" text-anchor="middle">20</text>
<text x="410.6" y="485.0" font-size="36" text-anchor="middle">0</text>
<text x="462.9" y="488.5" font-size="36" text-anchor="middle">0</text>
<text x="620.0" y="459.2" font-size="36" text-anchor="middle">20</text>
<text x="768.0" y="429.8" font-size="36" text-anchor="middle">40</text>
<text x="915.3" y="400.4" font-size="36" text-anchor="middle">60</text>
<text x="166" y="448.7" font-size="36">Y<tspan font-size="32" dx="5" dy="-3">(</tspan><tspan font-family='"Liberation Serif", serif' font-size="32">μ</tspan><tspan font-size="32">m)</tspan></text>
<text x="735" y="472.4" font-size="34.5">X<tspan dx="7" font-size="32">(</tspan><tspan font-family='"Liberation Serif", serif' font-size="32">μ</tspan><tspan font-size="32">m)</tspan></text>
<text x="62.6" y="562.0" font-size="37">(b)</text>
<g shape-rendering="crispEdges">
<path fill="#800000" d="M113.5 533.8h11.4v11.4h-11.4zM124.5 533.8h11.4v11.4h-11.4zM223.1 533.8h11.4v11.4h-11.4zM332.7 533.8h11.4v11.4h-11.4zM376.5 533.8h11.4v11.4h-11.4zM409.4 533.8h11.4v11.4h-11.4zM442.3 533.8h11.4v11.4h-11.4zM475.1 533.8h11.4v11.4h-11.4zM124.5 544.8h11.4v11.4h-11.4zM135.4 544.8h11.4v11.4h-11.4zM146.4 544.8h11.4v11.4h-11.4zM157.3 544.8h11.4v11.4h-11.4zM179.3 544.8h11.4v11.4h-11.4zM201.2 544.8h11.4v11.4h-11.4zM299.8 544.8h11.4v11.4h-11.4zM310.8 544.8h11.4v11.4h-11.4zM332.7 544.8h11.4v11.4h-11.4zM343.6 544.8h11.4v11.4h-11.4zM354.6 544.8h11.4v11.4h-11.4zM365.6 544.8h11.4v11.4h-11.4zM387.5 544.8h11.4v11.4h-11.4zM398.4 544.8h11.4v11.4h-11.4zM409.4 544.8h11.4v11.4h-11.4zM420.3 544.8h11.4v11.4h-11.4zM442.3 544.8h11.4v11.4h-11.4zM135.4 555.7h11.4v11.4h-11.4zM179.3 555.7h11.4v11.4h-11.4zM190.2 555.7h11.4v11.4h-11.4zM354.6 555.7h11.4v11.4h-11.4zM365.6 555.7h11.4v11.4h-11.4zM376.5 555.7h11.4v11.4h-11.4zM387.5 555.7h11.4v11.4h-11.4zM431.3 555.7h11.4v11.4h-11.4zM124.5 566.7h11.4v11.4h-11.4zM146.4 566.7h11.4v11.4h-11.4zM168.3 566.7h11.4v11.4h-11.4zM190.2 566.7h11.4v11.4h-11.4zM212.1 566.7h11.4v11.4h-11.4zM223.1 566.7h11.4v11.4h-11.4zM234.0 566.7h11.4v11.4h-11.4zM310.8 566.7h11.4v11.4h-11.4zM409.4 566.7h11.4v11.4h-11.4zM453.2 566.7h11.4v11.4h-11.4zM113.5 577.6h11.4v11.4h-11.4zM157.3 577.6h11.4v11.4h-11.4zM190.2 577.6h11.4v11.4h-11.4zM201.2 577.6h11.4v11.4h-11.4zM343.6 577.6h11.4v11.4h-11.4zM376.5 577.6h11.4v11.4h-11.4zM398.4 577.6h11.4v11.4h-11.4zM409.4 577.6h11.4v11.4h-11.4zM420.3 577.6h11.4v11.4h-11.4zM431.3 577.6h11.4v11.4h-11.4zM442.3 577.6h11.4v11.4h-11.4zM464.2 577.6h11.4v11.4h-11.4zM113.5 588.6h11.4v11.4h-11.4zM124.5 588.6h11.4v11.4h-11.4zM157.3 588.6h11.4v11.4h-11.4zM190.2 588.6h11.4v11.4h-11.4zM201.2 588.6h11.4v11.4h-11.4zM212.1 588.6h11.4v11.4h-11.4zM234.0 588.6h11.4v11.4h-11.4zM256.0 588.6h11.4v11.4h-11.4zM310.8 588.6h11.4v11.4h-11.4zM332.7 588.6h11.4v11.4h-11.4zM365.6 588.6h11.4v11.4h-11.4zM113.5 599.6h11.4v11.4h-11.4zM168.3 599.6h11.4v11.4h-11.4zM179.3 599.6h11.4v11.4h-11.4zM190.2 599.6h11.4v11.4h-11.4zM223.1 599.6h11.4v11.4h-11.4zM245.0 599.6h11.4v11.4h-11.4zM256.0 599.6h11.4v11.4h-11.4zM299.8 599.6h11.4v11.4h-11.4zM387.5 599.6h11.4v11.4h-11.4zM409.4 599.6h11.4v11.4h-11.4zM135.4 610.5h11.4v11.4h-11.4zM168.3 610.5h11.4v11.4h-11.4zM212.1 610.5h11.4v11.4h-11.4zM299.8 610.5h11.4v11.4h-11.4zM321.7 610.5h11.4v11.4h-11.4zM376.5 610.5h11.4v11.4h-11.4zM420.3 610.5h11.4v11.4h-11.4zM431.3 610.5h11.4v11.4h-11.4zM453.2 610.5h11.4v11.4h-11.4zM464.2 610.5h11.4v11.4h-11.4zM135.4 621.5h11.4v11.4h-11.4zM146.4 621.5h11.4v11.4h-11.4zM168.3 621.5h11.4v11.4h-11.4zM201.2 621.5h11.4v11.4h-11.4zM234.0 621.5h11.4v11.4h-11.4zM299.8 621.5h11.4v11.4h-11.4zM310.8 621.5h11.4v11.4h-11.4zM321.7 621.5h11.4v11.4h-11.4zM354.6 621.5h11.4v11.4h-11.4zM365.6 621.5h11.4v11.4h-11.4zM420.3 621.5h11.4v11.4h-11.4zM442.3 621.5h11.4v11.4h-11.4zM113.5 632.4h11.4v11.4h-11.4zM135.4 632.4h11.4v11.4h-11.4zM146.4 632.4h11.4v11.4h-11.4zM190.2 632.4h11.4v11.4h-11.4zM201.2 632.4h11.4v11.4h-11.4zM212.1 632.4h11.4v11.4h-11.4zM234.0 632.4h11.4v11.4h-11.4zM256.0 632.4h11.4v11.4h-11.4zM266.9 632.4h11.4v11.4h-11.4zM343.6 632.4h11.4v11.4h-11.4zM409.4 632.4h11.4v11.4h-11.4zM442.3 632.4h11.4v11.4h-11.4zM453.2 632.4h11.4v11.4h-11.4zM124.5 643.4h11.4v11.4h-11.4zM135.4 643.4h11.4v11.4h-11.4zM201.2 643.4h11.4v11.4h-11.4zM223.1 643.4h11.4v11.4h-11.4zM277.9 643.4h11.4v11.4h-11.4zM288.8 643.4h11.4v11.4h-11.4zM343.6 643.4h11.4v11.4h-11.4zM354.6 643.4h11.4v11.4h-11.4zM398.4 643.4h11.4v11.4h-11.4zM113.5 654.3h11.4v11.4h-11.4zM124.5 654.3h11.4v11.4h-11.4zM168.3 654.3h11.4v11.4h-11.4zM201.2 654.3h11.4v11.4h-11.4zM212.1 654.3h11.4v11.4h-11.4zM277.9 654.3h11.4v11.4h-11.4zM299.8 654.3h11.4v11.4h-11.4zM321.7 654.3h11.4v11.4h-11.4zM343.6 654.3h11.4v11.4h-11.4zM398.4 654.3h11.4v11.4h-11.4zM475.1 654.3h11.4v11.4h-11.4zM124.5 665.3h11.4v11.4h-11.4zM179.3 665.3h11.4v11.4h-11.4zM201.2 665.3h11.4v11.4h-11.4zM212.1 665.3h11.4v11.4h-11.4zM223.1 665.3h11.4v11.4h-11.4zM234.0 665.3h11.4v11.4h-11.4zM245.0 665.3h11.4v11.4h-11.4zM288.8 665.3h11.4v11.4h-11.4zM354.6 665.3h11.4v11.4h-11.4zM365.6 665.3h11.4v11.4h-11.4zM431.3 665.3h11.4v11.4h-11.4zM464.2 665.3h11.4v11.4h-11.4zM124.5 676.3h11.4v11.4h-11.4zM157.3 676.3h11.4v11.4h-11.4zM168.3 676.3h11.4v11.4h-11.4zM201.2 676.3h11.4v11.4h-11.4zM256.0 676.3h11.4v11.4h-11.4zM277.9 676.3h11.4v11.4h-11.4zM288.8 676.3h11.4v11.4h-11.4zM310.8 676.3h11.4v11.4h-11.4zM354.6 676.3h11.4v11.4h-11.4zM376.5 676.3h11.4v11.4h-11.4zM475.1 676.3h11.4v11.4h-11.4zM135.4 687.2h11.4v11.4h-11.4zM157.3 687.2h11.4v11.4h-11.4zM277.9 687.2h11.4v11.4h-11.4zM321.7 687.2h11.4v11.4h-11.4zM343.6 687.2h11.4v11.4h-11.4zM365.6 687.2h11.4v11.4h-11.4zM376.5 687.2h11.4v11.4h-11.4zM398.4 687.2h11.4v11.4h-11.4zM409.4 687.2h11.4v11.4h-11.4zM442.3 687.2h11.4v11.4h-11.4zM453.2 687.2h11.4v11.4h-11.4zM135.4 698.2h11.4v11.4h-11.4zM146.4 698.2h11.4v11.4h-11.4zM190.2 698.2h11.4v11.4h-11.4zM245.0 698.2h11.4v11.4h-11.4zM288.8 698.2h11.4v11.4h-11.4zM387.5 698.2h11.4v11.4h-11.4zM409.4 698.2h11.4v11.4h-11.4zM420.3 698.2h11.4v11.4h-11.4zM442.3 698.2h11.4v11.4h-11.4zM464.2 698.2h11.4v11.4h-11.4zM146.4 709.1h11.4v11.4h-11.4zM157.3 709.1h11.4v11.4h-11.4zM201.2 709.1h11.4v11.4h-11.4zM234.0 709.1h11.4v11.4h-11.4zM266.9 709.1h11.4v11.4h-11.4zM321.7 709.1h11.4v11.4h-11.4zM343.6 709.1h11.4v11.4h-11.4zM398.4 709.1h11.4v11.4h-11.4zM409.4 709.1h11.4v11.4h-11.4zM453.2 709.1h11.4v11.4h-11.4zM113.5 720.1h11.4v11.4h-11.4zM201.2 720.1h11.4v11.4h-11.4zM212.1 720.1h11.4v11.4h-11.4zM343.6 720.1h11.4v11.4h-11.4zM354.6 720.1h11.4v11.4h-11.4zM442.3 720.1h11.4v11.4h-11.4zM453.2 720.1h11.4v11.4h-11.4zM464.2 720.1h11.4v11.4h-11.4zM146.4 731.1h11.4v11.4h-11.4zM201.2 731.1h11.4v11.4h-11.4zM299.8 731.1h11.4v11.4h-11.4zM321.7 731.1h11.4v11.4h-11.4zM376.5 731.1h11.4v11.4h-11.4zM398.4 731.1h11.4v11.4h-11.4zM409.4 731.1h11.4v11.4h-11.4zM420.3 731.1h11.4v11.4h-11.4zM475.1 731.1h11.4v11.4h-11.4zM124.5 742.0h11.4v11.4h-11.4zM146.4 742.0h11.4v11.4h-11.4zM168.3 742.0h11.4v11.4h-11.4zM190.2 742.0h11.4v11.4h-11.4zM201.2 742.0h11.4v11.4h-11.4zM266.9 742.0h11.4v11.4h-11.4zM299.8 742.0h11.4v11.4h-11.4zM321.7 742.0h11.4v11.4h-11.4zM332.7 742.0h11.4v11.4h-11.4zM387.5 742.0h11.4v11.4h-11.4zM453.2 742.0h11.4v11.4h-11.4zM475.1 742.0h11.4v11.4h-11.4zM113.5 753.0h11.4v11.4h-11.4zM146.4 753.0h11.4v11.4h-11.4zM168.3 753.0h11.4v11.4h-11.4zM190.2 753.0h11.4v11.4h-11.4zM201.2 753.0h11.4v11.4h-11.4zM223.1 753.0h11.4v11.4h-11.4zM234.0 753.0h11.4v11.4h-11.4zM321.7 753.0h11.4v11.4h-11.4zM343.6 753.0h11.4v11.4h-11.4zM376.5 753.0h11.4v11.4h-11.4zM420.3 753.0h11.4v11.4h-11.4zM442.3 753.0h11.4v11.4h-11.4zM113.5 763.9h11.4v11.4h-11.4zM157.3 763.9h11.4v11.4h-11.4zM168.3 763.9h11.4v11.4h-11.4zM245.0 763.9h11.4v11.4h-11.4zM332.7 763.9h11.4v11.4h-11.4zM343.6 763.9h11.4v11.4h-11.4zM354.6 763.9h11.4v11.4h-11.4zM365.6 763.9h11.4v11.4h-11.4zM398.4 763.9h11.4v11.4h-11.4zM431.3 763.9h11.4v11.4h-11.4zM442.3 763.9h11.4v11.4h-11.4zM190.2 774.9h11.4v11.4h-11.4zM245.0 774.9h11.4v11.4h-11.4zM256.0 774.9h11.4v11.4h-11.4zM277.9 774.9h11.4v11.4h-11.4zM288.8 774.9h11.4v11.4h-11.4zM420.3 774.9h11.4v11.4h-11.4zM453.2 774.9h11.4v11.4h-11.4zM475.1 774.9h11.4v11.4h-11.4zM124.5 785.9h11.4v11.4h-11.4zM146.4 785.9h11.4v11.4h-11.4zM190.2 785.9h11.4v11.4h-11.4zM201.2 785.9h11.4v11.4h-11.4zM223.1 785.9h11.4v11.4h-11.4zM234.0 785.9h11.4v11.4h-11.4zM245.0 785.9h11.4v11.4h-11.4zM288.8 785.9h11.4v11.4h-11.4zM299.8 785.9h11.4v11.4h-11.4zM321.7 785.9h11.4v11.4h-11.4zM332.7 785.9h11.4v11.4h-11.4zM420.3 785.9h11.4v11.4h-11.4zM431.3 785.9h11.4v11.4h-11.4zM453.2 785.9h11.4v11.4h-11.4zM464.2 785.9h11.4v11.4h-11.4zM113.5 796.8h11.4v11.4h-11.4zM157.3 796.8h11.4v11.4h-11.4zM190.2 796.8h11.4v11.4h-11.4zM256.0 796.8h11.4v11.4h-11.4zM266.9 796.8h11.4v11.4h-11.4zM277.9 796.8h11.4v11.4h-11.4zM299.8 796.8h11.4v11.4h-11.4zM321.7 796.8h11.4v11.4h-11.4zM354.6 796.8h11.4v11.4h-11.4zM376.5 796.8h11.4v11.4h-11.4zM398.4 796.8h11.4v11.4h-11.4zM431.3 796.8h11.4v11.4h-11.4zM124.5 807.8h11.4v11.4h-11.4zM190.2 807.8h11.4v11.4h-11.4zM223.1 807.8h11.4v11.4h-11.4zM234.0 807.8h11.4v11.4h-11.4zM266.9 807.8h11.4v11.4h-11.4zM288.8 807.8h11.4v11.4h-11.4zM321.7 807.8h11.4v11.4h-11.4zM332.7 807.8h11.4v11.4h-11.4zM387.5 807.8h11.4v11.4h-11.4zM398.4 807.8h11.4v11.4h-11.4zM475.1 807.8h11.4v11.4h-11.4zM113.5 818.7h11.4v11.4h-11.4zM124.5 818.7h11.4v11.4h-11.4zM135.4 818.7h11.4v11.4h-11.4zM223.1 818.7h11.4v11.4h-11.4zM266.9 818.7h11.4v11.4h-11.4zM343.6 818.7h11.4v11.4h-11.4zM376.5 818.7h11.4v11.4h-11.4zM398.4 818.7h11.4v11.4h-11.4zM409.4 818.7h11.4v11.4h-11.4zM431.3 818.7h11.4v11.4h-11.4zM464.2 818.7h11.4v11.4h-11.4zM475.1 818.7h11.4v11.4h-11.4zM124.5 829.7h11.4v11.4h-11.4zM179.3 829.7h11.4v11.4h-11.4zM223.1 829.7h11.4v11.4h-11.4zM266.9 829.7h11.4v11.4h-11.4zM277.9 829.7h11.4v11.4h-11.4zM321.7 829.7h11.4v11.4h-11.4zM365.6 829.7h11.4v11.4h-11.4zM420.3 829.7h11.4v11.4h-11.4zM113.5 840.6h11.4v11.4h-11.4zM124.5 840.6h11.4v11.4h-11.4zM223.1 840.6h11.4v11.4h-11.4zM245.0 840.6h11.4v11.4h-11.4zM277.9 840.6h11.4v11.4h-11.4zM321.7 840.6h11.4v11.4h-11.4zM354.6 840.6h11.4v11.4h-11.4zM376.5 840.6h11.4v11.4h-11.4zM387.5 840.6h11.4v11.4h-11.4zM420.3 840.6h11.4v11.4h-11.4zM442.3 840.6h11.4v11.4h-11.4zM453.2 840.6h11.4v11.4h-11.4zM190.2 851.6h11.4v11.4h-11.4zM234.0 851.6h11.4v11.4h-11.4zM245.0 851.6h11.4v11.4h-11.4zM310.8 851.6h11.4v11.4h-11.4zM332.7 851.6h11.4v11.4h-11.4zM387.5 851.6h11.4v11.4h-11.4zM409.4 851.6h11.4v11.4h-11.4zM442.3 851.6h11.4v11.4h-11.4zM464.2 851.6h11.4v11.4h-11.4zM223.1 862.6h11.4v11.4h-11.4zM234.0 862.6h11.4v11.4h-11.4zM256.0 862.6h11.4v11.4h-11.4zM321.7 862.6h11.4v11.4h-11.4zM354.6 862.6h11.4v11.4h-11.4zM387.5 862.6h11.4v11.4h-11.4zM420.3 862.6h11.4v11.4h-11.4zM431.3 862.6h11.4v11.4h-11.4zM442.3 862.6h11.4v11.4h-11.4zM113.5 873.5h11.4v11.4h-11.4zM190.2 873.5h11.4v11.4h-11.4zM234.0 873.5h11.4v11.4h-11.4zM288.8 873.5h11.4v11.4h-11.4zM299.8 873.5h11.4v11.4h-11.4zM321.7 873.5h11.4v11.4h-11.4zM332.7 873.5h11.4v11.4h-11.4zM354.6 873.5h11.4v11.4h-11.4zM387.5 873.5h11.4v11.4h-11.4zM453.2 873.5h11.4v11.4h-11.4zM475.1 873.5h11.4v11.4h-11.4zM113.5 884.5h11.4v11.4h-11.4zM157.3 884.5h11.4v11.4h-11.4zM190.2 884.5h11.4v11.4h-11.4zM201.2 884.5h11.4v11.4h-11.4zM321.7 884.5h11.4v11.4h-11.4zM332.7 884.5h11.4v11.4h-11.4zM343.6 884.5h11.4v11.4h-11.4zM409.4 884.5h11.4v11.4h-11.4zM420.3 884.5h11.4v11.4h-11.4zM453.2 884.5h11.4v11.4h-11.4zM475.1 884.5h11.4v11.4h-11.4zM124.5 895.4h11.4v11.4h-11.4zM168.3 895.4h11.4v11.4h-11.4zM234.0 895.4h11.4v11.4h-11.4zM266.9 895.4h11.4v11.4h-11.4zM288.8 895.4h11.4v11.4h-11.4zM332.7 895.4h11.4v11.4h-11.4zM365.6 895.4h11.4v11.4h-11.4zM398.4 895.4h11.4v11.4h-11.4zM420.3 895.4h11.4v11.4h-11.4zM453.2 895.4h11.4v11.4h-11.4z"/>
<path fill="#0020ff" d="M135.4 533.8h11.4v11.4h-11.4zM179.3 533.8h11.4v11.4h-11.4zM201.2 533.8h11.4v11.4h-11.4zM234.0 533.8h11.4v11.4h-11.4zM245.0 533.8h11.4v11.4h-11.4zM256.0 533.8h11.4v11.4h-11.4zM343.6 533.8h11.4v11.4h-11.4zM354.6 533.8h11.4v11.4h-11.4zM453.2 533.8h11.4v11.4h-11.4zM212.1 544.8h11.4v11.4h-11.4zM288.8 544.8h11.4v11.4h-11.4zM321.7 544.8h11.4v11.4h-11.4zM201.2 555.7h11.4v11.4h-11.4zM234.0 555.7h11.4v11.4h-11.4zM245.0 555.7h11.4v11.4h-11.4zM321.7 555.7h11.4v11.4h-11.4zM343.6 555.7h11.4v11.4h-11.4zM464.2 555.7h11.4v11.4h-11.4zM113.5 566.7h11.4v11.4h-11.4zM179.3 566.7h11.4v11.4h-11.4zM245.0 566.7h11.4v11.4h-11.4zM332.7 566.7h11.4v11.4h-11.4zM354.6 566.7h11.4v11.4h-11.4zM398.4 566.7h11.4v11.4h-11.4zM442.3 566.7h11.4v11.4h-11.4zM464.2 566.7h11.4v11.4h-11.4zM475.1 566.7h11.4v11.4h-11.4zM146.4 577.6h11.4v11.4h-11.4zM179.3 577.6h11.4v11.4h-11.4zM266.9 577.6h11.4v11.4h-11.4zM288.8 577.6h11.4v11.4h-11.4zM354.6 577.6h11.4v11.4h-11.4zM146.4 588.6h11.4v11.4h-11.4zM245.0 588.6h11.4v11.4h-11.4zM398.4 588.6h11.4v11.4h-11.4zM420.3 588.6h11.4v11.4h-11.4zM431.3 588.6h11.4v11.4h-11.4zM135.4 599.6h11.4v11.4h-11.4zM310.8 599.6h11.4v11.4h-11.4zM398.4 599.6h11.4v11.4h-11.4zM442.3 599.6h11.4v11.4h-11.4zM113.5 610.5h11.4v11.4h-11.4zM146.4 610.5h11.4v11.4h-11.4zM157.3 610.5h11.4v11.4h-11.4zM201.2 610.5h11.4v11.4h-11.4zM277.9 610.5h11.4v11.4h-11.4zM343.6 610.5h11.4v11.4h-11.4zM398.4 610.5h11.4v11.4h-11.4zM190.2 621.5h11.4v11.4h-11.4zM223.1 621.5h11.4v11.4h-11.4zM277.9 621.5h11.4v11.4h-11.4zM376.5 621.5h11.4v11.4h-11.4zM398.4 621.5h11.4v11.4h-11.4zM409.4 621.5h11.4v11.4h-11.4zM168.3 632.4h11.4v11.4h-11.4zM223.1 632.4h11.4v11.4h-11.4zM245.0 632.4h11.4v11.4h-11.4zM168.3 643.4h11.4v11.4h-11.4zM299.8 643.4h11.4v11.4h-11.4zM310.8 643.4h11.4v11.4h-11.4zM475.1 643.4h11.4v11.4h-11.4zM245.0 654.3h11.4v11.4h-11.4zM387.5 654.3h11.4v11.4h-11.4zM113.5 665.3h11.4v11.4h-11.4zM135.4 665.3h11.4v11.4h-11.4zM299.8 665.3h11.4v11.4h-11.4zM376.5 665.3h11.4v11.4h-11.4zM387.5 665.3h11.4v11.4h-11.4zM409.4 665.3h11.4v11.4h-11.4zM420.3 665.3h11.4v11.4h-11.4zM475.1 665.3h11.4v11.4h-11.4zM135.4 676.3h11.4v11.4h-11.4zM146.4 676.3h11.4v11.4h-11.4zM266.9 676.3h11.4v11.4h-11.4zM321.7 676.3h11.4v11.4h-11.4zM431.3 676.3h11.4v11.4h-11.4zM442.3 676.3h11.4v11.4h-11.4zM453.2 676.3h11.4v11.4h-11.4zM168.3 687.2h11.4v11.4h-11.4zM234.0 687.2h11.4v11.4h-11.4zM245.0 687.2h11.4v11.4h-11.4zM310.8 687.2h11.4v11.4h-11.4zM332.7 687.2h11.4v11.4h-11.4zM420.3 687.2h11.4v11.4h-11.4zM234.0 698.2h11.4v11.4h-11.4zM256.0 698.2h11.4v11.4h-11.4zM277.9 698.2h11.4v11.4h-11.4zM310.8 698.2h11.4v11.4h-11.4zM332.7 698.2h11.4v11.4h-11.4zM365.6 698.2h11.4v11.4h-11.4zM475.1 698.2h11.4v11.4h-11.4zM124.5 709.1h11.4v11.4h-11.4zM365.6 709.1h11.4v11.4h-11.4zM420.3 709.1h11.4v11.4h-11.4zM168.3 720.1h11.4v11.4h-11.4zM223.1 720.1h11.4v11.4h-11.4zM245.0 720.1h11.4v11.4h-11.4zM365.6 720.1h11.4v11.4h-11.4zM398.4 720.1h11.4v11.4h-11.4zM409.4 720.1h11.4v11.4h-11.4zM475.1 720.1h11.4v11.4h-11.4zM179.3 731.1h11.4v11.4h-11.4zM343.6 731.1h11.4v11.4h-11.4zM365.6 731.1h11.4v11.4h-11.4zM157.3 742.0h11.4v11.4h-11.4zM256.0 742.0h11.4v11.4h-11.4zM365.6 742.0h11.4v11.4h-11.4zM409.4 742.0h11.4v11.4h-11.4zM420.3 742.0h11.4v11.4h-11.4zM179.3 753.0h11.4v11.4h-11.4zM332.7 753.0h11.4v11.4h-11.4zM453.2 753.0h11.4v11.4h-11.4zM464.2 753.0h11.4v11.4h-11.4zM277.9 763.9h11.4v11.4h-11.4zM376.5 763.9h11.4v11.4h-11.4zM453.2 763.9h11.4v11.4h-11.4zM464.2 763.9h11.4v11.4h-11.4zM201.2 774.9h11.4v11.4h-11.4zM212.1 774.9h11.4v11.4h-11.4zM299.8 774.9h11.4v11.4h-11.4zM310.8 774.9h11.4v11.4h-11.4zM365.6 774.9h11.4v11.4h-11.4zM212.1 785.9h11.4v11.4h-11.4zM266.9 785.9h11.4v11.4h-11.4zM310.8 785.9h11.4v11.4h-11.4zM124.5 796.8h11.4v11.4h-11.4zM135.4 796.8h11.4v11.4h-11.4zM212.1 796.8h11.4v11.4h-11.4zM310.8 796.8h11.4v11.4h-11.4zM332.7 796.8h11.4v11.4h-11.4zM343.6 796.8h11.4v11.4h-11.4zM409.4 796.8h11.4v11.4h-11.4zM464.2 796.8h11.4v11.4h-11.4zM113.5 807.8h11.4v11.4h-11.4zM135.4 807.8h11.4v11.4h-11.4zM256.0 807.8h11.4v11.4h-11.4zM310.8 807.8h11.4v11.4h-11.4zM376.5 807.8h11.4v11.4h-11.4zM442.3 807.8h11.4v11.4h-11.4zM288.8 818.7h11.4v11.4h-11.4zM442.3 818.7h11.4v11.4h-11.4zM212.1 829.7h11.4v11.4h-11.4zM299.8 829.7h11.4v11.4h-11.4zM343.6 829.7h11.4v11.4h-11.4zM442.3 829.7h11.4v11.4h-11.4zM464.2 829.7h11.4v11.4h-11.4zM135.4 840.6h11.4v11.4h-11.4zM157.3 840.6h11.4v11.4h-11.4zM190.2 840.6h11.4v11.4h-11.4zM234.0 840.6h11.4v11.4h-11.4zM409.4 840.6h11.4v11.4h-11.4zM431.3 840.6h11.4v11.4h-11.4zM212.1 851.6h11.4v11.4h-11.4zM398.4 851.6h11.4v11.4h-11.4zM420.3 851.6h11.4v11.4h-11.4zM431.3 851.6h11.4v11.4h-11.4zM113.5 862.6h11.4v11.4h-11.4zM146.4 862.6h11.4v11.4h-11.4zM190.2 862.6h11.4v11.4h-11.4zM288.8 862.6h11.4v11.4h-11.4zM332.7 862.6h11.4v11.4h-11.4zM453.2 862.6h11.4v11.4h-11.4zM464.2 862.6h11.4v11.4h-11.4zM475.1 862.6h11.4v11.4h-11.4zM179.3 873.5h11.4v11.4h-11.4zM212.1 873.5h11.4v11.4h-11.4zM245.0 873.5h11.4v11.4h-11.4zM365.6 873.5h11.4v11.4h-11.4zM124.5 884.5h11.4v11.4h-11.4zM168.3 884.5h11.4v11.4h-11.4zM179.3 884.5h11.4v11.4h-11.4zM223.1 884.5h11.4v11.4h-11.4zM310.8 884.5h11.4v11.4h-11.4zM365.6 884.5h11.4v11.4h-11.4zM431.3 884.5h11.4v11.4h-11.4zM135.4 895.4h11.4v11.4h-11.4zM190.2 895.4h11.4v11.4h-11.4zM277.9 895.4h11.4v11.4h-11.4zM310.8 895.4h11.4v11.4h-11.4zM321.7 895.4h11.4v11.4h-11.4zM376.5 895.4h11.4v11.4h-11.4zM475.1 895.4h11.4v11.4h-11.4z"/>
<path fill="#00009c" d="M146.4 533.8h11.4v11.4h-11.4zM157.3 533.8h11.4v11.4h-11.4zM190.2 533.8h11.4v11.4h-11.4zM212.1 533.8h11.4v11.4h-11.4zM266.9 533.8h11.4v11.4h-11.4zM288.8 533.8h11.4v11.4h-11.4zM299.8 533.8h11.4v11.4h-11.4zM387.5 533.8h11.4v11.4h-11.4zM431.3 533.8h11.4v11.4h-11.4zM464.2 533.8h11.4v11.4h-11.4zM113.5 544.8h11.4v11.4h-11.4zM223.1 544.8h11.4v11.4h-11.4zM453.2 544.8h11.4v11.4h-11.4zM464.2 544.8h11.4v11.4h-11.4zM146.4 555.7h11.4v11.4h-11.4zM157.3 555.7h11.4v11.4h-11.4zM256.0 555.7h11.4v11.4h-11.4zM299.8 555.7h11.4v11.4h-11.4zM332.7 555.7h11.4v11.4h-11.4zM442.3 555.7h11.4v11.4h-11.4zM157.3 566.7h11.4v11.4h-11.4zM256.0 566.7h11.4v11.4h-11.4zM343.6 566.7h11.4v11.4h-11.4zM376.5 566.7h11.4v11.4h-11.4zM420.3 566.7h11.4v11.4h-11.4zM124.5 577.6h11.4v11.4h-11.4zM212.1 577.6h11.4v11.4h-11.4zM234.0 577.6h11.4v11.4h-11.4zM277.9 577.6h11.4v11.4h-11.4zM299.8 577.6h11.4v11.4h-11.4zM310.8 577.6h11.4v11.4h-11.4zM332.7 577.6h11.4v11.4h-11.4zM387.5 577.6h11.4v11.4h-11.4zM453.2 577.6h11.4v11.4h-11.4zM168.3 588.6h11.4v11.4h-11.4zM179.3 588.6h11.4v11.4h-11.4zM223.1 588.6h11.4v11.4h-11.4zM266.9 588.6h11.4v11.4h-11.4zM277.9 588.6h11.4v11.4h-11.4zM343.6 588.6h11.4v11.4h-11.4zM409.4 588.6h11.4v11.4h-11.4zM442.3 588.6h11.4v11.4h-11.4zM475.1 588.6h11.4v11.4h-11.4zM146.4 599.6h11.4v11.4h-11.4zM234.0 599.6h11.4v11.4h-11.4zM321.7 599.6h11.4v11.4h-11.4zM332.7 599.6h11.4v11.4h-11.4zM365.6 599.6h11.4v11.4h-11.4zM376.5 599.6h11.4v11.4h-11.4zM420.3 599.6h11.4v11.4h-11.4zM431.3 599.6h11.4v11.4h-11.4zM190.2 610.5h11.4v11.4h-11.4zM245.0 610.5h11.4v11.4h-11.4zM256.0 610.5h11.4v11.4h-11.4zM310.8 610.5h11.4v11.4h-11.4zM365.6 610.5h11.4v11.4h-11.4zM113.5 621.5h11.4v11.4h-11.4zM124.5 621.5h11.4v11.4h-11.4zM245.0 621.5h11.4v11.4h-11.4zM256.0 621.5h11.4v11.4h-11.4zM124.5 632.4h11.4v11.4h-11.4zM157.3 632.4h11.4v11.4h-11.4zM288.8 632.4h11.4v11.4h-11.4zM299.8 632.4h11.4v11.4h-11.4zM321.7 632.4h11.4v11.4h-11.4zM354.6 632.4h11.4v11.4h-11.4zM376.5 632.4h11.4v11.4h-11.4zM387.5 632.4h11.4v11.4h-11.4zM420.3 632.4h11.4v11.4h-11.4zM157.3 643.4h11.4v11.4h-11.4zM179.3 643.4h11.4v11.4h-11.4zM190.2 643.4h11.4v11.4h-11.4zM212.1 643.4h11.4v11.4h-11.4zM234.0 643.4h11.4v11.4h-11.4zM245.0 643.4h11.4v11.4h-11.4zM256.0 643.4h11.4v11.4h-11.4zM420.3 643.4h11.4v11.4h-11.4zM453.2 643.4h11.4v11.4h-11.4zM464.2 643.4h11.4v11.4h-11.4zM179.3 654.3h11.4v11.4h-11.4zM223.1 654.3h11.4v11.4h-11.4zM234.0 654.3h11.4v11.4h-11.4zM266.9 654.3h11.4v11.4h-11.4zM310.8 654.3h11.4v11.4h-11.4zM332.7 654.3h11.4v11.4h-11.4zM409.4 654.3h11.4v11.4h-11.4zM431.3 654.3h11.4v11.4h-11.4zM453.2 654.3h11.4v11.4h-11.4zM157.3 665.3h11.4v11.4h-11.4zM190.2 665.3h11.4v11.4h-11.4zM256.0 665.3h11.4v11.4h-11.4zM277.9 665.3h11.4v11.4h-11.4zM321.7 665.3h11.4v11.4h-11.4zM398.4 665.3h11.4v11.4h-11.4zM113.5 676.3h11.4v11.4h-11.4zM179.3 676.3h11.4v11.4h-11.4zM190.2 676.3h11.4v11.4h-11.4zM212.1 676.3h11.4v11.4h-11.4zM332.7 676.3h11.4v11.4h-11.4zM409.4 676.3h11.4v11.4h-11.4zM124.5 687.2h11.4v11.4h-11.4zM223.1 687.2h11.4v11.4h-11.4zM256.0 687.2h11.4v11.4h-11.4zM299.8 687.2h11.4v11.4h-11.4zM354.6 687.2h11.4v11.4h-11.4zM464.2 687.2h11.4v11.4h-11.4zM168.3 698.2h11.4v11.4h-11.4zM179.3 698.2h11.4v11.4h-11.4zM201.2 698.2h11.4v11.4h-11.4zM212.1 698.2h11.4v11.4h-11.4zM223.1 698.2h11.4v11.4h-11.4zM299.8 698.2h11.4v11.4h-11.4zM354.6 698.2h11.4v11.4h-11.4zM431.3 698.2h11.4v11.4h-11.4zM190.2 709.1h11.4v11.4h-11.4zM212.1 709.1h11.4v11.4h-11.4zM245.0 709.1h11.4v11.4h-11.4zM288.8 709.1h11.4v11.4h-11.4zM310.8 709.1h11.4v11.4h-11.4zM332.7 709.1h11.4v11.4h-11.4zM376.5 709.1h11.4v11.4h-11.4zM464.2 709.1h11.4v11.4h-11.4zM475.1 709.1h11.4v11.4h-11.4zM179.3 720.1h11.4v11.4h-11.4zM190.2 720.1h11.4v11.4h-11.4zM277.9 720.1h11.4v11.4h-11.4zM288.8 720.1h11.4v11.4h-11.4zM113.5 731.1h11.4v11.4h-11.4zM124.5 731.1h11.4v11.4h-11.4zM223.1 731.1h11.4v11.4h-11.4zM245.0 731.1h11.4v11.4h-11.4zM288.8 731.1h11.4v11.4h-11.4zM332.7 731.1h11.4v11.4h-11.4zM387.5 731.1h11.4v11.4h-11.4zM442.3 731.1h11.4v11.4h-11.4zM464.2 731.1h11.4v11.4h-11.4zM212.1 742.0h11.4v11.4h-11.4zM245.0 742.0h11.4v11.4h-11.4zM277.9 742.0h11.4v11.4h-11.4zM354.6 742.0h11.4v11.4h-11.4zM431.3 742.0h11.4v11.4h-11.4zM464.2 742.0h11.4v11.4h-11.4zM124.5 753.0h11.4v11.4h-11.4zM135.4 753.0h11.4v11.4h-11.4zM212.1 753.0h11.4v11.4h-11.4zM245.0 753.0h11.4v11.4h-11.4zM277.9 753.0h11.4v11.4h-11.4zM299.8 753.0h11.4v11.4h-11.4zM310.8 753.0h11.4v11.4h-11.4zM387.5 753.0h11.4v11.4h-11.4zM475.1 753.0h11.4v11.4h-11.4zM146.4 763.9h11.4v11.4h-11.4zM179.3 763.9h11.4v11.4h-11.4zM212.1 763.9h11.4v11.4h-11.4zM256.0 763.9h11.4v11.4h-11.4zM266.9 763.9h11.4v11.4h-11.4zM288.8 763.9h11.4v11.4h-11.4zM310.8 763.9h11.4v11.4h-11.4zM321.7 763.9h11.4v11.4h-11.4zM409.4 763.9h11.4v11.4h-11.4zM420.3 763.9h11.4v11.4h-11.4zM475.1 763.9h11.4v11.4h-11.4zM124.5 774.9h11.4v11.4h-11.4zM146.4 774.9h11.4v11.4h-11.4zM168.3 774.9h11.4v11.4h-11.4zM179.3 774.9h11.4v11.4h-11.4zM321.7 774.9h11.4v11.4h-11.4zM332.7 774.9h11.4v11.4h-11.4zM387.5 774.9h11.4v11.4h-11.4zM409.4 774.9h11.4v11.4h-11.4zM442.3 774.9h11.4v11.4h-11.4zM168.3 785.9h11.4v11.4h-11.4zM277.9 785.9h11.4v11.4h-11.4zM354.6 785.9h11.4v11.4h-11.4zM398.4 785.9h11.4v11.4h-11.4zM442.3 785.9h11.4v11.4h-11.4zM234.0 796.8h11.4v11.4h-11.4zM365.6 796.8h11.4v11.4h-11.4zM420.3 796.8h11.4v11.4h-11.4zM475.1 796.8h11.4v11.4h-11.4zM168.3 807.8h11.4v11.4h-11.4zM201.2 807.8h11.4v11.4h-11.4zM212.1 807.8h11.4v11.4h-11.4zM146.4 818.7h11.4v11.4h-11.4zM157.3 818.7h11.4v11.4h-11.4zM179.3 818.7h11.4v11.4h-11.4zM212.1 818.7h11.4v11.4h-11.4zM256.0 818.7h11.4v11.4h-11.4zM299.8 818.7h11.4v11.4h-11.4zM310.8 818.7h11.4v11.4h-11.4zM321.7 818.7h11.4v11.4h-11.4zM332.7 818.7h11.4v11.4h-11.4zM113.5 829.7h11.4v11.4h-11.4zM190.2 829.7h11.4v11.4h-11.4zM201.2 829.7h11.4v11.4h-11.4zM245.0 829.7h11.4v11.4h-11.4zM332.7 829.7h11.4v11.4h-11.4zM354.6 829.7h11.4v11.4h-11.4zM376.5 829.7h11.4v11.4h-11.4zM409.4 829.7h11.4v11.4h-11.4zM453.2 829.7h11.4v11.4h-11.4zM475.1 829.7h11.4v11.4h-11.4zM146.4 840.6h11.4v11.4h-11.4zM168.3 840.6h11.4v11.4h-11.4zM201.2 840.6h11.4v11.4h-11.4zM256.0 840.6h11.4v11.4h-11.4zM266.9 840.6h11.4v11.4h-11.4zM288.8 840.6h11.4v11.4h-11.4zM343.6 840.6h11.4v11.4h-11.4zM146.4 851.6h11.4v11.4h-11.4zM168.3 851.6h11.4v11.4h-11.4zM201.2 851.6h11.4v11.4h-11.4zM288.8 851.6h11.4v11.4h-11.4zM299.8 851.6h11.4v11.4h-11.4zM321.7 851.6h11.4v11.4h-11.4zM354.6 851.6h11.4v11.4h-11.4zM365.6 851.6h11.4v11.4h-11.4zM376.5 851.6h11.4v11.4h-11.4zM157.3 862.6h11.4v11.4h-11.4zM168.3 862.6h11.4v11.4h-11.4zM266.9 862.6h11.4v11.4h-11.4zM299.8 862.6h11.4v11.4h-11.4zM124.5 873.5h11.4v11.4h-11.4zM146.4 873.5h11.4v11.4h-11.4zM168.3 873.5h11.4v11.4h-11.4zM201.2 873.5h11.4v11.4h-11.4zM223.1 873.5h11.4v11.4h-11.4zM266.9 873.5h11.4v11.4h-11.4zM310.8 873.5h11.4v11.4h-11.4zM376.5 873.5h11.4v11.4h-11.4zM398.4 873.5h11.4v11.4h-11.4zM420.3 873.5h11.4v11.4h-11.4zM442.3 873.5h11.4v11.4h-11.4zM266.9 884.5h11.4v11.4h-11.4zM277.9 884.5h11.4v11.4h-11.4zM387.5 884.5h11.4v11.4h-11.4zM398.4 884.5h11.4v11.4h-11.4zM442.3 884.5h11.4v11.4h-11.4zM464.2 884.5h11.4v11.4h-11.4zM113.5 895.4h11.4v11.4h-11.4zM146.4 895.4h11.4v11.4h-11.4zM201.2 895.4h11.4v11.4h-11.4zM212.1 895.4h11.4v11.4h-11.4zM223.1 895.4h11.4v11.4h-11.4zM409.4 895.4h11.4v11.4h-11.4z"/>
<path fill="#ff8c00" d="M168.3 533.8h11.4v11.4h-11.4zM310.8 533.8h11.4v11.4h-11.4zM321.7 533.8h11.4v11.4h-11.4zM168.3 544.8h11.4v11.4h-11.4zM234.0 544.8h11.4v11.4h-11.4zM256.0 544.8h11.4v11.4h-11.4zM431.3 544.8h11.4v11.4h-11.4zM266.9 555.7h11.4v11.4h-11.4zM398.4 555.7h11.4v11.4h-11.4zM420.3 555.7h11.4v11.4h-11.4zM277.9 566.7h11.4v11.4h-11.4zM299.8 566.7h11.4v11.4h-11.4zM299.8 588.6h11.4v11.4h-11.4zM464.2 588.6h11.4v11.4h-11.4zM157.3 599.6h11.4v11.4h-11.4zM277.9 599.6h11.4v11.4h-11.4zM453.2 599.6h11.4v11.4h-11.4zM288.8 610.5h11.4v11.4h-11.4zM387.5 610.5h11.4v11.4h-11.4zM277.9 632.4h11.4v11.4h-11.4zM475.1 632.4h11.4v11.4h-11.4zM135.4 654.3h11.4v11.4h-11.4zM146.4 654.3h11.4v11.4h-11.4zM376.5 654.3h11.4v11.4h-11.4zM113.5 687.2h11.4v11.4h-11.4zM376.5 698.2h11.4v11.4h-11.4zM398.4 698.2h11.4v11.4h-11.4zM453.2 698.2h11.4v11.4h-11.4zM179.3 709.1h11.4v11.4h-11.4zM223.1 709.1h11.4v11.4h-11.4zM256.0 720.1h11.4v11.4h-11.4zM234.0 731.1h11.4v11.4h-11.4zM113.5 742.0h11.4v11.4h-11.4zM354.6 753.0h11.4v11.4h-11.4zM431.3 753.0h11.4v11.4h-11.4zM299.8 763.9h11.4v11.4h-11.4zM234.0 774.9h11.4v11.4h-11.4zM376.5 774.9h11.4v11.4h-11.4zM431.3 774.9h11.4v11.4h-11.4zM135.4 785.9h11.4v11.4h-11.4zM256.0 785.9h11.4v11.4h-11.4zM376.5 785.9h11.4v11.4h-11.4zM475.1 785.9h11.4v11.4h-11.4zM299.8 807.8h11.4v11.4h-11.4zM365.6 807.8h11.4v11.4h-11.4zM409.4 807.8h11.4v11.4h-11.4zM453.2 807.8h11.4v11.4h-11.4zM168.3 818.7h11.4v11.4h-11.4zM453.2 818.7h11.4v11.4h-11.4zM387.5 829.7h11.4v11.4h-11.4zM365.6 840.6h11.4v11.4h-11.4zM398.4 840.6h11.4v11.4h-11.4zM464.2 840.6h11.4v11.4h-11.4zM124.5 862.6h11.4v11.4h-11.4zM376.5 862.6h11.4v11.4h-11.4zM157.3 873.5h11.4v11.4h-11.4zM343.6 873.5h11.4v11.4h-11.4zM245.0 895.4h11.4v11.4h-11.4zM343.6 895.4h11.4v11.4h-11.4z"/>
<path fill="#0090ff" d="M277.9 533.8h11.4v11.4h-11.4zM190.2 544.8h11.4v11.4h-11.4zM113.5 555.7h11.4v11.4h-11.4zM124.5 555.7h11.4v11.4h-11.4zM277.9 555.7h11.4v11.4h-11.4zM387.5 566.7h11.4v11.4h-11.4zM431.3 566.7h11.4v11.4h-11.4zM135.4 577.6h11.4v11.4h-11.4zM168.3 577.6h11.4v11.4h-11.4zM223.1 577.6h11.4v11.4h-11.4zM124.5 599.6h11.4v11.4h-11.4zM201.2 599.6h11.4v11.4h-11.4zM179.3 610.5h11.4v11.4h-11.4zM354.6 610.5h11.4v11.4h-11.4zM409.4 610.5h11.4v11.4h-11.4zM157.3 621.5h11.4v11.4h-11.4zM179.3 621.5h11.4v11.4h-11.4zM343.6 621.5h11.4v11.4h-11.4zM453.2 621.5h11.4v11.4h-11.4zM332.7 632.4h11.4v11.4h-11.4zM431.3 632.4h11.4v11.4h-11.4zM113.5 643.4h11.4v11.4h-11.4zM266.9 643.4h11.4v11.4h-11.4zM387.5 643.4h11.4v11.4h-11.4zM365.6 654.3h11.4v11.4h-11.4zM146.4 665.3h11.4v11.4h-11.4zM266.9 665.3h11.4v11.4h-11.4zM453.2 665.3h11.4v11.4h-11.4zM343.6 676.3h11.4v11.4h-11.4zM387.5 676.3h11.4v11.4h-11.4zM398.4 676.3h11.4v11.4h-11.4zM420.3 676.3h11.4v11.4h-11.4zM212.1 687.2h11.4v11.4h-11.4zM321.7 698.2h11.4v11.4h-11.4zM343.6 698.2h11.4v11.4h-11.4zM113.5 709.1h11.4v11.4h-11.4zM135.4 709.1h11.4v11.4h-11.4zM168.3 709.1h11.4v11.4h-11.4zM256.0 709.1h11.4v11.4h-11.4zM354.6 709.1h11.4v11.4h-11.4zM431.3 709.1h11.4v11.4h-11.4zM387.5 720.1h11.4v11.4h-11.4zM431.3 720.1h11.4v11.4h-11.4zM190.2 731.1h11.4v11.4h-11.4zM223.1 742.0h11.4v11.4h-11.4zM310.8 742.0h11.4v11.4h-11.4zM409.4 753.0h11.4v11.4h-11.4zM201.2 763.9h11.4v11.4h-11.4zM234.0 763.9h11.4v11.4h-11.4zM113.5 774.9h11.4v11.4h-11.4zM201.2 796.8h11.4v11.4h-11.4zM245.0 796.8h11.4v11.4h-11.4zM288.8 796.8h11.4v11.4h-11.4zM146.4 807.8h11.4v11.4h-11.4zM157.3 807.8h11.4v11.4h-11.4zM343.6 807.8h11.4v11.4h-11.4zM201.2 818.7h11.4v11.4h-11.4zM234.0 818.7h11.4v11.4h-11.4zM135.4 829.7h11.4v11.4h-11.4zM146.4 829.7h11.4v11.4h-11.4zM157.3 829.7h11.4v11.4h-11.4zM398.4 829.7h11.4v11.4h-11.4zM212.1 840.6h11.4v11.4h-11.4zM157.3 851.6h11.4v11.4h-11.4zM266.9 851.6h11.4v11.4h-11.4zM453.2 851.6h11.4v11.4h-11.4zM179.3 862.6h11.4v11.4h-11.4zM212.1 862.6h11.4v11.4h-11.4zM245.0 862.6h11.4v11.4h-11.4zM277.9 862.6h11.4v11.4h-11.4zM398.4 862.6h11.4v11.4h-11.4zM409.4 862.6h11.4v11.4h-11.4zM277.9 873.5h11.4v11.4h-11.4zM409.4 873.5h11.4v11.4h-11.4zM431.3 873.5h11.4v11.4h-11.4zM234.0 884.5h11.4v11.4h-11.4zM288.8 884.5h11.4v11.4h-11.4zM354.6 884.5h11.4v11.4h-11.4zM157.3 895.4h11.4v11.4h-11.4zM179.3 895.4h11.4v11.4h-11.4zM387.5 895.4h11.4v11.4h-11.4z"/>
<path fill="#ff1000" d="M365.6 533.8h11.4v11.4h-11.4zM398.4 533.8h11.4v11.4h-11.4zM475.1 544.8h11.4v11.4h-11.4zM245.0 577.6h11.4v11.4h-11.4zM266.9 599.6h11.4v11.4h-11.4zM343.6 599.6h11.4v11.4h-11.4zM475.1 599.6h11.4v11.4h-11.4zM332.7 621.5h11.4v11.4h-11.4zM332.7 643.4h11.4v11.4h-11.4zM420.3 654.3h11.4v11.4h-11.4zM464.2 654.3h11.4v11.4h-11.4zM343.6 665.3h11.4v11.4h-11.4zM234.0 676.3h11.4v11.4h-11.4zM464.2 676.3h11.4v11.4h-11.4zM135.4 720.1h11.4v11.4h-11.4zM310.8 720.1h11.4v11.4h-11.4zM321.7 720.1h11.4v11.4h-11.4zM332.7 720.1h11.4v11.4h-11.4zM277.9 731.1h11.4v11.4h-11.4zM343.6 742.0h11.4v11.4h-11.4zM398.4 742.0h11.4v11.4h-11.4zM157.3 753.0h11.4v11.4h-11.4zM464.2 774.9h11.4v11.4h-11.4zM157.3 785.9h11.4v11.4h-11.4zM343.6 785.9h11.4v11.4h-11.4zM365.6 818.7h11.4v11.4h-11.4zM168.3 829.7h11.4v11.4h-11.4zM234.0 829.7h11.4v11.4h-11.4zM310.8 829.7h11.4v11.4h-11.4zM179.3 840.6h11.4v11.4h-11.4zM332.7 840.6h11.4v11.4h-11.4zM113.5 851.6h11.4v11.4h-11.4zM343.6 851.6h11.4v11.4h-11.4zM135.4 862.6h11.4v11.4h-11.4zM354.6 895.4h11.4v11.4h-11.4zM431.3 895.4h11.4v11.4h-11.4z"/>
<path fill="#9cff60" d="M420.3 533.8h11.4v11.4h-11.4zM266.9 544.8h11.4v11.4h-11.4zM376.5 544.8h11.4v11.4h-11.4zM212.1 555.7h11.4v11.4h-11.4zM310.8 555.7h11.4v11.4h-11.4zM266.9 566.7h11.4v11.4h-11.4zM288.8 566.7h11.4v11.4h-11.4zM135.4 588.6h11.4v11.4h-11.4zM453.2 588.6h11.4v11.4h-11.4zM223.1 610.5h11.4v11.4h-11.4zM234.0 610.5h11.4v11.4h-11.4zM266.9 610.5h11.4v11.4h-11.4zM332.7 610.5h11.4v11.4h-11.4zM266.9 621.5h11.4v11.4h-11.4zM431.3 621.5h11.4v11.4h-11.4zM475.1 621.5h11.4v11.4h-11.4zM354.6 654.3h11.4v11.4h-11.4zM223.1 676.3h11.4v11.4h-11.4zM201.2 687.2h11.4v11.4h-11.4zM475.1 687.2h11.4v11.4h-11.4zM113.5 698.2h11.4v11.4h-11.4zM256.0 731.1h11.4v11.4h-11.4zM135.4 742.0h11.4v11.4h-11.4zM179.3 742.0h11.4v11.4h-11.4zM256.0 753.0h11.4v11.4h-11.4zM365.6 753.0h11.4v11.4h-11.4zM190.2 763.9h11.4v11.4h-11.4zM398.4 774.9h11.4v11.4h-11.4zM113.5 785.9h11.4v11.4h-11.4zM146.4 796.8h11.4v11.4h-11.4zM223.1 796.8h11.4v11.4h-11.4zM442.3 796.8h11.4v11.4h-11.4zM277.9 807.8h11.4v11.4h-11.4zM420.3 807.8h11.4v11.4h-11.4zM464.2 807.8h11.4v11.4h-11.4zM245.0 818.7h11.4v11.4h-11.4zM124.5 851.6h11.4v11.4h-11.4zM256.0 851.6h11.4v11.4h-11.4zM475.1 851.6h11.4v11.4h-11.4zM343.6 862.6h11.4v11.4h-11.4zM365.6 862.6h11.4v11.4h-11.4zM245.0 884.5h11.4v11.4h-11.4zM256.0 884.5h11.4v11.4h-11.4zM376.5 884.5h11.4v11.4h-11.4zM442.3 895.4h11.4v11.4h-11.4z"/>
<path fill="#ffee00" d="M245.0 544.8h11.4v11.4h-11.4zM168.3 555.7h11.4v11.4h-11.4zM223.1 555.7h11.4v11.4h-11.4zM409.4 555.7h11.4v11.4h-11.4zM475.1 555.7h11.4v11.4h-11.4zM201.2 566.7h11.4v11.4h-11.4zM256.0 577.6h11.4v11.4h-11.4zM288.8 588.6h11.4v11.4h-11.4zM321.7 588.6h11.4v11.4h-11.4zM387.5 588.6h11.4v11.4h-11.4zM212.1 599.6h11.4v11.4h-11.4zM288.8 599.6h11.4v11.4h-11.4zM464.2 621.5h11.4v11.4h-11.4zM398.4 632.4h11.4v11.4h-11.4zM190.2 654.3h11.4v11.4h-11.4zM256.0 654.3h11.4v11.4h-11.4zM168.3 665.3h11.4v11.4h-11.4zM442.3 665.3h11.4v11.4h-11.4zM179.3 687.2h11.4v11.4h-11.4zM299.8 709.1h11.4v11.4h-11.4zM146.4 720.1h11.4v11.4h-11.4zM398.4 753.0h11.4v11.4h-11.4zM135.4 774.9h11.4v11.4h-11.4zM157.3 774.9h11.4v11.4h-11.4zM365.6 785.9h11.4v11.4h-11.4zM409.4 785.9h11.4v11.4h-11.4zM168.3 796.8h11.4v11.4h-11.4zM354.6 818.7h11.4v11.4h-11.4zM387.5 818.7h11.4v11.4h-11.4zM288.8 829.7h11.4v11.4h-11.4zM223.1 851.6h11.4v11.4h-11.4zM277.9 851.6h11.4v11.4h-11.4zM464.2 873.5h11.4v11.4h-11.4zM135.4 884.5h11.4v11.4h-11.4zM256.0 895.4h11.4v11.4h-11.4zM299.8 895.4h11.4v11.4h-11.4z"/>
<path fill="#50ffb0" d="M277.9 544.8h11.4v11.4h-11.4zM321.7 577.6h11.4v11.4h-11.4zM365.6 577.6h11.4v11.4h-11.4zM354.6 588.6h11.4v11.4h-11.4zM475.1 610.5h11.4v11.4h-11.4zM179.3 632.4h11.4v11.4h-11.4zM464.2 632.4h11.4v11.4h-11.4zM321.7 643.4h11.4v11.4h-11.4zM157.3 654.3h11.4v11.4h-11.4zM310.8 665.3h11.4v11.4h-11.4zM332.7 665.3h11.4v11.4h-11.4zM146.4 687.2h11.4v11.4h-11.4zM190.2 687.2h11.4v11.4h-11.4zM266.9 687.2h11.4v11.4h-11.4zM431.3 687.2h11.4v11.4h-11.4zM124.5 698.2h11.4v11.4h-11.4zM387.5 709.1h11.4v11.4h-11.4zM442.3 709.1h11.4v11.4h-11.4zM157.3 720.1h11.4v11.4h-11.4zM234.0 720.1h11.4v11.4h-11.4zM420.3 720.1h11.4v11.4h-11.4zM135.4 731.1h11.4v11.4h-11.4zM157.3 731.1h11.4v11.4h-11.4zM453.2 731.1h11.4v11.4h-11.4zM376.5 742.0h11.4v11.4h-11.4zM266.9 753.0h11.4v11.4h-11.4zM288.8 753.0h11.4v11.4h-11.4zM343.6 774.9h11.4v11.4h-11.4zM179.3 785.9h11.4v11.4h-11.4zM387.5 785.9h11.4v11.4h-11.4zM354.6 807.8h11.4v11.4h-11.4zM190.2 818.7h11.4v11.4h-11.4zM256.0 829.7h11.4v11.4h-11.4zM431.3 829.7h11.4v11.4h-11.4zM475.1 840.6h11.4v11.4h-11.4zM179.3 851.6h11.4v11.4h-11.4zM201.2 862.6h11.4v11.4h-11.4zM146.4 884.5h11.4v11.4h-11.4zM464.2 895.4h11.4v11.4h-11.4z"/>
<path fill="#10f0ff" d="M288.8 555.7h11.4v11.4h-11.4zM453.2 555.7h11.4v11.4h-11.4zM135.4 566.7h11.4v11.4h-11.4zM321.7 566.7h11.4v11.4h-11.4zM365.6 566.7h11.4v11.4h-11.4zM475.1 577.6h11.4v11.4h-11.4zM376.5 588.6h11.4v11.4h-11.4zM354.6 599.6h11.4v11.4h-11.4zM464.2 599.6h11.4v11.4h-11.4zM124.5 610.5h11.4v11.4h-11.4zM442.3 610.5h11.4v11.4h-11.4zM212.1 621.5h11.4v11.4h-11.4zM288.8 621.5h11.4v11.4h-11.4zM387.5 621.5h11.4v11.4h-11.4zM310.8 632.4h11.4v11.4h-11.4zM365.6 632.4h11.4v11.4h-11.4zM146.4 643.4h11.4v11.4h-11.4zM365.6 643.4h11.4v11.4h-11.4zM376.5 643.4h11.4v11.4h-11.4zM409.4 643.4h11.4v11.4h-11.4zM431.3 643.4h11.4v11.4h-11.4zM442.3 643.4h11.4v11.4h-11.4zM288.8 654.3h11.4v11.4h-11.4zM442.3 654.3h11.4v11.4h-11.4zM245.0 676.3h11.4v11.4h-11.4zM299.8 676.3h11.4v11.4h-11.4zM365.6 676.3h11.4v11.4h-11.4zM288.8 687.2h11.4v11.4h-11.4zM387.5 687.2h11.4v11.4h-11.4zM157.3 698.2h11.4v11.4h-11.4zM266.9 698.2h11.4v11.4h-11.4zM277.9 709.1h11.4v11.4h-11.4zM124.5 720.1h11.4v11.4h-11.4zM266.9 720.1h11.4v11.4h-11.4zM299.8 720.1h11.4v11.4h-11.4zM376.5 720.1h11.4v11.4h-11.4zM168.3 731.1h11.4v11.4h-11.4zM212.1 731.1h11.4v11.4h-11.4zM266.9 731.1h11.4v11.4h-11.4zM310.8 731.1h11.4v11.4h-11.4zM354.6 731.1h11.4v11.4h-11.4zM431.3 731.1h11.4v11.4h-11.4zM234.0 742.0h11.4v11.4h-11.4zM288.8 742.0h11.4v11.4h-11.4zM442.3 742.0h11.4v11.4h-11.4zM124.5 763.9h11.4v11.4h-11.4zM135.4 763.9h11.4v11.4h-11.4zM223.1 763.9h11.4v11.4h-11.4zM387.5 763.9h11.4v11.4h-11.4zM223.1 774.9h11.4v11.4h-11.4zM266.9 774.9h11.4v11.4h-11.4zM354.6 774.9h11.4v11.4h-11.4zM179.3 796.8h11.4v11.4h-11.4zM387.5 796.8h11.4v11.4h-11.4zM453.2 796.8h11.4v11.4h-11.4zM179.3 807.8h11.4v11.4h-11.4zM245.0 807.8h11.4v11.4h-11.4zM431.3 807.8h11.4v11.4h-11.4zM277.9 818.7h11.4v11.4h-11.4zM420.3 818.7h11.4v11.4h-11.4zM299.8 840.6h11.4v11.4h-11.4zM310.8 840.6h11.4v11.4h-11.4zM135.4 851.6h11.4v11.4h-11.4zM310.8 862.6h11.4v11.4h-11.4zM135.4 873.5h11.4v11.4h-11.4zM256.0 873.5h11.4v11.4h-11.4zM212.1 884.5h11.4v11.4h-11.4zM299.8 884.5h11.4v11.4h-11.4z"/>
</g>
<text x="519.6" y="564.6" font-size="36.5">(c)</text>
<g shape-rendering="crispEdges">
<path fill="#ff8c00" d="M569.9 533.8h11.4v11.4h-11.4zM569.9 544.8h11.4v11.4h-11.4zM756.1 555.7h11.4v11.4h-11.4zM701.4 566.7h11.4v11.4h-11.4zM920.5 566.7h11.4v11.4h-11.4zM679.5 588.6h11.4v11.4h-11.4zM756.1 610.5h11.4v11.4h-11.4zM876.7 632.4h11.4v11.4h-11.4zM821.9 654.3h11.4v11.4h-11.4zM909.5 687.2h11.4v11.4h-11.4zM580.9 698.1h11.4v11.4h-11.4zM701.4 698.1h11.4v11.4h-11.4zM778.1 698.1h11.4v11.4h-11.4zM876.7 698.1h11.4v11.4h-11.4zM865.7 720.0h11.4v11.4h-11.4zM646.6 731.0h11.4v11.4h-11.4zM854.8 731.0h11.4v11.4h-11.4zM679.5 763.9h11.4v11.4h-11.4zM898.6 785.8h11.4v11.4h-11.4zM898.6 807.7h11.4v11.4h-11.4zM767.1 818.7h11.4v11.4h-11.4zM580.9 829.6h11.4v11.4h-11.4zM843.8 829.6h11.4v11.4h-11.4zM843.8 840.6h11.4v11.4h-11.4zM789.0 851.5h11.4v11.4h-11.4zM854.8 851.5h11.4v11.4h-11.4zM602.8 862.5h11.4v11.4h-11.4zM920.5 862.5h11.4v11.4h-11.4zM602.8 873.4h11.4v11.4h-11.4zM832.8 873.4h11.4v11.4h-11.4zM810.9 884.4h11.4v11.4h-11.4z"/>
<path fill="#ffee00" d="M580.9 533.8h11.4v11.4h-11.4zM832.8 533.8h11.4v11.4h-11.4zM909.5 533.8h11.4v11.4h-11.4zM624.7 555.7h11.4v11.4h-11.4zM580.9 566.7h11.4v11.4h-11.4zM635.6 566.7h11.4v11.4h-11.4zM679.5 566.7h11.4v11.4h-11.4zM789.0 566.7h11.4v11.4h-11.4zM800.0 566.7h11.4v11.4h-11.4zM602.8 577.6h11.4v11.4h-11.4zM646.6 588.6h11.4v11.4h-11.4zM624.7 599.5h11.4v11.4h-11.4zM701.4 599.5h11.4v11.4h-11.4zM789.0 599.5h11.4v11.4h-11.4zM898.6 599.5h11.4v11.4h-11.4zM810.9 610.5h11.4v11.4h-11.4zM712.3 621.4h11.4v11.4h-11.4zM723.3 621.4h11.4v11.4h-11.4zM865.7 621.4h11.4v11.4h-11.4zM865.7 632.4h11.4v11.4h-11.4zM602.8 643.4h11.4v11.4h-11.4zM624.7 654.3h11.4v11.4h-11.4zM679.5 654.3h11.4v11.4h-11.4zM690.4 654.3h11.4v11.4h-11.4zM602.8 665.3h11.4v11.4h-11.4zM767.1 665.3h11.4v11.4h-11.4zM569.9 687.2h11.4v11.4h-11.4zM679.5 698.1h11.4v11.4h-11.4zM613.7 709.1h11.4v11.4h-11.4zM898.6 709.1h11.4v11.4h-11.4zM591.8 720.0h11.4v11.4h-11.4zM909.5 720.0h11.4v11.4h-11.4zM920.5 731.0h11.4v11.4h-11.4zM602.8 742.0h11.4v11.4h-11.4zM745.2 752.9h11.4v11.4h-11.4zM767.1 752.9h11.4v11.4h-11.4zM778.1 752.9h11.4v11.4h-11.4zM876.7 763.9h11.4v11.4h-11.4zM602.8 774.8h11.4v11.4h-11.4zM887.6 774.8h11.4v11.4h-11.4zM931.4 774.8h11.4v11.4h-11.4zM821.9 785.8h11.4v11.4h-11.4zM569.9 796.7h11.4v11.4h-11.4zM657.5 807.7h11.4v11.4h-11.4zM909.5 807.7h11.4v11.4h-11.4zM920.5 807.7h11.4v11.4h-11.4zM635.6 818.7h11.4v11.4h-11.4zM657.5 829.6h11.4v11.4h-11.4zM789.0 829.6h11.4v11.4h-11.4zM756.1 840.6h11.4v11.4h-11.4zM657.5 851.5h11.4v11.4h-11.4zM690.4 851.5h11.4v11.4h-11.4zM580.9 873.4h11.4v11.4h-11.4zM745.2 884.4h11.4v11.4h-11.4zM821.9 884.4h11.4v11.4h-11.4zM909.5 884.4h11.4v11.4h-11.4zM865.7 895.3h11.4v11.4h-11.4z"/>
<path fill="#800000" d="M591.8 533.8h11.4v11.4h-11.4zM756.1 533.8h11.4v11.4h-11.4zM767.1 533.8h11.4v11.4h-11.4zM778.1 533.8h11.4v11.4h-11.4zM800.0 533.8h11.4v11.4h-11.4zM854.8 533.8h11.4v11.4h-11.4zM876.7 533.8h11.4v11.4h-11.4zM931.4 533.8h11.4v11.4h-11.4zM591.8 544.8h11.4v11.4h-11.4zM613.7 544.8h11.4v11.4h-11.4zM723.3 544.8h11.4v11.4h-11.4zM756.1 544.8h11.4v11.4h-11.4zM810.9 544.8h11.4v11.4h-11.4zM876.7 544.8h11.4v11.4h-11.4zM887.6 544.8h11.4v11.4h-11.4zM657.5 555.7h11.4v11.4h-11.4zM701.4 555.7h11.4v11.4h-11.4zM854.8 555.7h11.4v11.4h-11.4zM909.5 555.7h11.4v11.4h-11.4zM931.4 555.7h11.4v11.4h-11.4zM657.5 566.7h11.4v11.4h-11.4zM712.3 566.7h11.4v11.4h-11.4zM745.2 566.7h11.4v11.4h-11.4zM832.8 566.7h11.4v11.4h-11.4zM843.8 566.7h11.4v11.4h-11.4zM865.7 566.7h11.4v11.4h-11.4zM876.7 566.7h11.4v11.4h-11.4zM887.6 566.7h11.4v11.4h-11.4zM909.5 566.7h11.4v11.4h-11.4zM668.5 577.6h11.4v11.4h-11.4zM712.3 577.6h11.4v11.4h-11.4zM789.0 577.6h11.4v11.4h-11.4zM821.9 577.6h11.4v11.4h-11.4zM832.8 577.6h11.4v11.4h-11.4zM898.6 577.6h11.4v11.4h-11.4zM569.9 588.6h11.4v11.4h-11.4zM591.8 588.6h11.4v11.4h-11.4zM602.8 588.6h11.4v11.4h-11.4zM635.6 588.6h11.4v11.4h-11.4zM657.5 588.6h11.4v11.4h-11.4zM767.1 588.6h11.4v11.4h-11.4zM778.1 588.6h11.4v11.4h-11.4zM789.0 588.6h11.4v11.4h-11.4zM832.8 588.6h11.4v11.4h-11.4zM843.8 588.6h11.4v11.4h-11.4zM876.7 588.6h11.4v11.4h-11.4zM887.6 588.6h11.4v11.4h-11.4zM898.6 588.6h11.4v11.4h-11.4zM920.5 588.6h11.4v11.4h-11.4zM931.4 588.6h11.4v11.4h-11.4zM569.9 599.5h11.4v11.4h-11.4zM690.4 599.5h11.4v11.4h-11.4zM734.2 599.5h11.4v11.4h-11.4zM832.8 599.5h11.4v11.4h-11.4zM865.7 599.5h11.4v11.4h-11.4zM909.5 599.5h11.4v11.4h-11.4zM920.5 599.5h11.4v11.4h-11.4zM624.7 610.5h11.4v11.4h-11.4zM657.5 610.5h11.4v11.4h-11.4zM679.5 610.5h11.4v11.4h-11.4zM701.4 610.5h11.4v11.4h-11.4zM745.2 610.5h11.4v11.4h-11.4zM569.9 621.4h11.4v11.4h-11.4zM887.6 621.4h11.4v11.4h-11.4zM920.5 621.4h11.4v11.4h-11.4zM613.7 632.4h11.4v11.4h-11.4zM635.6 632.4h11.4v11.4h-11.4zM646.6 632.4h11.4v11.4h-11.4zM668.5 632.4h11.4v11.4h-11.4zM767.1 632.4h11.4v11.4h-11.4zM800.0 632.4h11.4v11.4h-11.4zM909.5 632.4h11.4v11.4h-11.4zM569.9 643.4h11.4v11.4h-11.4zM580.9 643.4h11.4v11.4h-11.4zM624.7 643.4h11.4v11.4h-11.4zM679.5 643.4h11.4v11.4h-11.4zM756.1 643.4h11.4v11.4h-11.4zM778.1 643.4h11.4v11.4h-11.4zM800.0 643.4h11.4v11.4h-11.4zM865.7 643.4h11.4v11.4h-11.4zM635.6 654.3h11.4v11.4h-11.4zM668.5 654.3h11.4v11.4h-11.4zM723.3 654.3h11.4v11.4h-11.4zM745.2 654.3h11.4v11.4h-11.4zM778.1 654.3h11.4v11.4h-11.4zM832.8 654.3h11.4v11.4h-11.4zM843.8 654.3h11.4v11.4h-11.4zM865.7 654.3h11.4v11.4h-11.4zM887.6 654.3h11.4v11.4h-11.4zM898.6 654.3h11.4v11.4h-11.4zM909.5 654.3h11.4v11.4h-11.4zM931.4 654.3h11.4v11.4h-11.4zM635.6 665.3h11.4v11.4h-11.4zM646.6 665.3h11.4v11.4h-11.4zM723.3 665.3h11.4v11.4h-11.4zM800.0 665.3h11.4v11.4h-11.4zM854.8 665.3h11.4v11.4h-11.4zM909.5 665.3h11.4v11.4h-11.4zM920.5 665.3h11.4v11.4h-11.4zM580.9 676.2h11.4v11.4h-11.4zM602.8 676.2h11.4v11.4h-11.4zM657.5 676.2h11.4v11.4h-11.4zM668.5 676.2h11.4v11.4h-11.4zM690.4 676.2h11.4v11.4h-11.4zM712.3 676.2h11.4v11.4h-11.4zM756.1 676.2h11.4v11.4h-11.4zM767.1 676.2h11.4v11.4h-11.4zM832.8 676.2h11.4v11.4h-11.4zM865.7 676.2h11.4v11.4h-11.4zM909.5 676.2h11.4v11.4h-11.4zM920.5 676.2h11.4v11.4h-11.4zM624.7 687.2h11.4v11.4h-11.4zM657.5 687.2h11.4v11.4h-11.4zM668.5 687.2h11.4v11.4h-11.4zM690.4 687.2h11.4v11.4h-11.4zM734.2 687.2h11.4v11.4h-11.4zM756.1 687.2h11.4v11.4h-11.4zM778.1 687.2h11.4v11.4h-11.4zM920.5 687.2h11.4v11.4h-11.4zM931.4 687.2h11.4v11.4h-11.4zM602.8 698.1h11.4v11.4h-11.4zM657.5 698.1h11.4v11.4h-11.4zM723.3 698.1h11.4v11.4h-11.4zM810.9 698.1h11.4v11.4h-11.4zM832.8 698.1h11.4v11.4h-11.4zM909.5 698.1h11.4v11.4h-11.4zM920.5 698.1h11.4v11.4h-11.4zM690.4 709.1h11.4v11.4h-11.4zM778.1 709.1h11.4v11.4h-11.4zM789.0 709.1h11.4v11.4h-11.4zM821.9 709.1h11.4v11.4h-11.4zM865.7 709.1h11.4v11.4h-11.4zM909.5 709.1h11.4v11.4h-11.4zM646.6 720.0h11.4v11.4h-11.4zM679.5 720.0h11.4v11.4h-11.4zM701.4 720.0h11.4v11.4h-11.4zM745.2 720.0h11.4v11.4h-11.4zM810.9 720.0h11.4v11.4h-11.4zM898.6 720.0h11.4v11.4h-11.4zM569.9 731.0h11.4v11.4h-11.4zM624.7 731.0h11.4v11.4h-11.4zM635.6 731.0h11.4v11.4h-11.4zM712.3 731.0h11.4v11.4h-11.4zM734.2 731.0h11.4v11.4h-11.4zM821.9 731.0h11.4v11.4h-11.4zM865.7 731.0h11.4v11.4h-11.4zM887.6 731.0h11.4v11.4h-11.4zM569.9 742.0h11.4v11.4h-11.4zM624.7 742.0h11.4v11.4h-11.4zM635.6 742.0h11.4v11.4h-11.4zM646.6 742.0h11.4v11.4h-11.4zM690.4 742.0h11.4v11.4h-11.4zM723.3 742.0h11.4v11.4h-11.4zM745.2 742.0h11.4v11.4h-11.4zM800.0 742.0h11.4v11.4h-11.4zM865.7 742.0h11.4v11.4h-11.4zM920.5 742.0h11.4v11.4h-11.4zM931.4 742.0h11.4v11.4h-11.4zM843.8 752.9h11.4v11.4h-11.4zM865.7 752.9h11.4v11.4h-11.4zM876.7 752.9h11.4v11.4h-11.4zM569.9 763.9h11.4v11.4h-11.4zM591.8 763.9h11.4v11.4h-11.4zM668.5 763.9h11.4v11.4h-11.4zM701.4 763.9h11.4v11.4h-11.4zM712.3 763.9h11.4v11.4h-11.4zM789.0 763.9h11.4v11.4h-11.4zM865.7 763.9h11.4v11.4h-11.4zM909.5 763.9h11.4v11.4h-11.4zM920.5 763.9h11.4v11.4h-11.4zM931.4 763.9h11.4v11.4h-11.4zM646.6 774.8h11.4v11.4h-11.4zM668.5 774.8h11.4v11.4h-11.4zM701.4 774.8h11.4v11.4h-11.4zM745.2 774.8h11.4v11.4h-11.4zM756.1 774.8h11.4v11.4h-11.4zM832.8 774.8h11.4v11.4h-11.4zM854.8 774.8h11.4v11.4h-11.4zM909.5 774.8h11.4v11.4h-11.4zM635.6 785.8h11.4v11.4h-11.4zM701.4 785.8h11.4v11.4h-11.4zM778.1 785.8h11.4v11.4h-11.4zM810.9 785.8h11.4v11.4h-11.4zM865.7 785.8h11.4v11.4h-11.4zM887.6 785.8h11.4v11.4h-11.4zM931.4 785.8h11.4v11.4h-11.4zM580.9 796.7h11.4v11.4h-11.4zM613.7 796.7h11.4v11.4h-11.4zM646.6 796.7h11.4v11.4h-11.4zM657.5 796.7h11.4v11.4h-11.4zM734.2 796.7h11.4v11.4h-11.4zM756.1 796.7h11.4v11.4h-11.4zM789.0 796.7h11.4v11.4h-11.4zM810.9 796.7h11.4v11.4h-11.4zM887.6 796.7h11.4v11.4h-11.4zM734.2 807.7h11.4v11.4h-11.4zM810.9 807.7h11.4v11.4h-11.4zM821.9 807.7h11.4v11.4h-11.4zM569.9 818.7h11.4v11.4h-11.4zM580.9 818.7h11.4v11.4h-11.4zM613.7 818.7h11.4v11.4h-11.4zM690.4 818.7h11.4v11.4h-11.4zM712.3 818.7h11.4v11.4h-11.4zM734.2 818.7h11.4v11.4h-11.4zM887.6 818.7h11.4v11.4h-11.4zM920.5 818.7h11.4v11.4h-11.4zM569.9 829.6h11.4v11.4h-11.4zM646.6 829.6h11.4v11.4h-11.4zM668.5 829.6h11.4v11.4h-11.4zM756.1 829.6h11.4v11.4h-11.4zM865.7 829.6h11.4v11.4h-11.4zM909.5 829.6h11.4v11.4h-11.4zM920.5 829.6h11.4v11.4h-11.4zM931.4 829.6h11.4v11.4h-11.4zM569.9 840.6h11.4v11.4h-11.4zM657.5 840.6h11.4v11.4h-11.4zM690.4 840.6h11.4v11.4h-11.4zM767.1 840.6h11.4v11.4h-11.4zM778.1 840.6h11.4v11.4h-11.4zM789.0 840.6h11.4v11.4h-11.4zM800.0 840.6h11.4v11.4h-11.4zM832.8 840.6h11.4v11.4h-11.4zM865.7 840.6h11.4v11.4h-11.4zM920.5 840.6h11.4v11.4h-11.4zM931.4 840.6h11.4v11.4h-11.4zM679.5 851.5h11.4v11.4h-11.4zM701.4 851.5h11.4v11.4h-11.4zM810.9 851.5h11.4v11.4h-11.4zM821.9 851.5h11.4v11.4h-11.4zM865.7 851.5h11.4v11.4h-11.4zM624.7 862.5h11.4v11.4h-11.4zM657.5 862.5h11.4v11.4h-11.4zM668.5 862.5h11.4v11.4h-11.4zM701.4 862.5h11.4v11.4h-11.4zM734.2 862.5h11.4v11.4h-11.4zM810.9 862.5h11.4v11.4h-11.4zM854.8 862.5h11.4v11.4h-11.4zM909.5 862.5h11.4v11.4h-11.4zM931.4 862.5h11.4v11.4h-11.4zM591.8 873.4h11.4v11.4h-11.4zM635.6 873.4h11.4v11.4h-11.4zM668.5 873.4h11.4v11.4h-11.4zM712.3 873.4h11.4v11.4h-11.4zM756.1 873.4h11.4v11.4h-11.4zM767.1 873.4h11.4v11.4h-11.4zM778.1 873.4h11.4v11.4h-11.4zM854.8 873.4h11.4v11.4h-11.4zM887.6 873.4h11.4v11.4h-11.4zM920.5 873.4h11.4v11.4h-11.4zM646.6 884.4h11.4v11.4h-11.4zM756.1 884.4h11.4v11.4h-11.4zM767.1 884.4h11.4v11.4h-11.4zM789.0 884.4h11.4v11.4h-11.4zM854.8 884.4h11.4v11.4h-11.4zM624.7 895.3h11.4v11.4h-11.4zM646.6 895.3h11.4v11.4h-11.4zM668.5 895.3h11.4v11.4h-11.4zM712.3 895.3h11.4v11.4h-11.4zM745.2 895.3h11.4v11.4h-11.4zM756.1 895.3h11.4v11.4h-11.4zM800.0 895.3h11.4v11.4h-11.4zM821.9 895.3h11.4v11.4h-11.4zM876.7 895.3h11.4v11.4h-11.4zM898.6 895.3h11.4v11.4h-11.4zM920.5 895.3h11.4v11.4h-11.4z"/>
<path fill="#0020ff" d="M602.8 533.8h11.4v11.4h-11.4zM657.5 533.8h11.4v11.4h-11.4zM789.0 533.8h11.4v11.4h-11.4zM821.9 533.8h11.4v11.4h-11.4zM843.8 533.8h11.4v11.4h-11.4zM865.7 533.8h11.4v11.4h-11.4zM898.6 533.8h11.4v11.4h-11.4zM602.8 544.8h11.4v11.4h-11.4zM635.6 544.8h11.4v11.4h-11.4zM701.4 544.8h11.4v11.4h-11.4zM767.1 544.8h11.4v11.4h-11.4zM778.1 544.8h11.4v11.4h-11.4zM800.0 544.8h11.4v11.4h-11.4zM843.8 544.8h11.4v11.4h-11.4zM854.8 544.8h11.4v11.4h-11.4zM898.6 544.8h11.4v11.4h-11.4zM591.8 555.7h11.4v11.4h-11.4zM668.5 555.7h11.4v11.4h-11.4zM646.6 566.7h11.4v11.4h-11.4zM931.4 566.7h11.4v11.4h-11.4zM679.5 577.6h11.4v11.4h-11.4zM723.3 577.6h11.4v11.4h-11.4zM734.2 577.6h11.4v11.4h-11.4zM767.1 577.6h11.4v11.4h-11.4zM800.0 577.6h11.4v11.4h-11.4zM876.7 577.6h11.4v11.4h-11.4zM887.6 577.6h11.4v11.4h-11.4zM624.7 588.6h11.4v11.4h-11.4zM668.5 588.6h11.4v11.4h-11.4zM701.4 588.6h11.4v11.4h-11.4zM734.2 588.6h11.4v11.4h-11.4zM800.0 588.6h11.4v11.4h-11.4zM810.9 588.6h11.4v11.4h-11.4zM580.9 599.5h11.4v11.4h-11.4zM646.6 599.5h11.4v11.4h-11.4zM657.5 599.5h11.4v11.4h-11.4zM679.5 599.5h11.4v11.4h-11.4zM778.1 599.5h11.4v11.4h-11.4zM876.7 599.5h11.4v11.4h-11.4zM887.6 599.5h11.4v11.4h-11.4zM569.9 610.5h11.4v11.4h-11.4zM843.8 610.5h11.4v11.4h-11.4zM865.7 610.5h11.4v11.4h-11.4zM898.6 610.5h11.4v11.4h-11.4zM580.9 621.4h11.4v11.4h-11.4zM668.5 621.4h11.4v11.4h-11.4zM854.8 621.4h11.4v11.4h-11.4zM624.7 632.4h11.4v11.4h-11.4zM756.1 632.4h11.4v11.4h-11.4zM832.8 632.4h11.4v11.4h-11.4zM887.6 632.4h11.4v11.4h-11.4zM931.4 632.4h11.4v11.4h-11.4zM657.5 643.4h11.4v11.4h-11.4zM723.3 643.4h11.4v11.4h-11.4zM734.2 643.4h11.4v11.4h-11.4zM843.8 643.4h11.4v11.4h-11.4zM920.5 643.4h11.4v11.4h-11.4zM569.9 654.3h11.4v11.4h-11.4zM712.3 654.3h11.4v11.4h-11.4zM756.1 654.3h11.4v11.4h-11.4zM800.0 654.3h11.4v11.4h-11.4zM876.7 654.3h11.4v11.4h-11.4zM569.9 665.3h11.4v11.4h-11.4zM591.8 665.3h11.4v11.4h-11.4zM690.4 665.3h11.4v11.4h-11.4zM778.1 665.3h11.4v11.4h-11.4zM810.9 665.3h11.4v11.4h-11.4zM821.9 665.3h11.4v11.4h-11.4zM832.8 665.3h11.4v11.4h-11.4zM887.6 665.3h11.4v11.4h-11.4zM679.5 676.2h11.4v11.4h-11.4zM734.2 676.2h11.4v11.4h-11.4zM778.1 676.2h11.4v11.4h-11.4zM635.6 687.2h11.4v11.4h-11.4zM646.6 687.2h11.4v11.4h-11.4zM679.5 687.2h11.4v11.4h-11.4zM767.1 687.2h11.4v11.4h-11.4zM810.9 687.2h11.4v11.4h-11.4zM821.9 687.2h11.4v11.4h-11.4zM876.7 687.2h11.4v11.4h-11.4zM613.7 698.1h11.4v11.4h-11.4zM624.7 698.1h11.4v11.4h-11.4zM690.4 698.1h11.4v11.4h-11.4zM789.0 698.1h11.4v11.4h-11.4zM865.7 698.1h11.4v11.4h-11.4zM887.6 698.1h11.4v11.4h-11.4zM931.4 698.1h11.4v11.4h-11.4zM624.7 709.1h11.4v11.4h-11.4zM646.6 709.1h11.4v11.4h-11.4zM701.4 709.1h11.4v11.4h-11.4zM832.8 709.1h11.4v11.4h-11.4zM876.7 709.1h11.4v11.4h-11.4zM887.6 709.1h11.4v11.4h-11.4zM580.9 720.0h11.4v11.4h-11.4zM690.4 720.0h11.4v11.4h-11.4zM789.0 720.0h11.4v11.4h-11.4zM854.8 720.0h11.4v11.4h-11.4zM876.7 720.0h11.4v11.4h-11.4zM723.3 731.0h11.4v11.4h-11.4zM810.9 731.0h11.4v11.4h-11.4zM909.5 731.0h11.4v11.4h-11.4zM931.4 731.0h11.4v11.4h-11.4zM613.7 742.0h11.4v11.4h-11.4zM756.1 742.0h11.4v11.4h-11.4zM778.1 742.0h11.4v11.4h-11.4zM821.9 742.0h11.4v11.4h-11.4zM832.8 742.0h11.4v11.4h-11.4zM635.6 752.9h11.4v11.4h-11.4zM679.5 752.9h11.4v11.4h-11.4zM690.4 752.9h11.4v11.4h-11.4zM898.6 752.9h11.4v11.4h-11.4zM745.2 763.9h11.4v11.4h-11.4zM800.0 763.9h11.4v11.4h-11.4zM690.4 774.8h11.4v11.4h-11.4zM778.1 774.8h11.4v11.4h-11.4zM800.0 774.8h11.4v11.4h-11.4zM810.9 774.8h11.4v11.4h-11.4zM865.7 774.8h11.4v11.4h-11.4zM876.7 774.8h11.4v11.4h-11.4zM580.9 785.8h11.4v11.4h-11.4zM602.8 785.8h11.4v11.4h-11.4zM613.7 785.8h11.4v11.4h-11.4zM646.6 785.8h11.4v11.4h-11.4zM668.5 785.8h11.4v11.4h-11.4zM832.8 785.8h11.4v11.4h-11.4zM909.5 785.8h11.4v11.4h-11.4zM624.7 796.7h11.4v11.4h-11.4zM635.6 796.7h11.4v11.4h-11.4zM690.4 796.7h11.4v11.4h-11.4zM778.1 796.7h11.4v11.4h-11.4zM800.0 796.7h11.4v11.4h-11.4zM832.8 796.7h11.4v11.4h-11.4zM931.4 796.7h11.4v11.4h-11.4zM613.7 807.7h11.4v11.4h-11.4zM646.6 807.7h11.4v11.4h-11.4zM723.3 807.7h11.4v11.4h-11.4zM745.2 807.7h11.4v11.4h-11.4zM767.1 807.7h11.4v11.4h-11.4zM800.0 807.7h11.4v11.4h-11.4zM591.8 818.7h11.4v11.4h-11.4zM624.7 818.7h11.4v11.4h-11.4zM646.6 818.7h11.4v11.4h-11.4zM789.0 818.7h11.4v11.4h-11.4zM810.9 818.7h11.4v11.4h-11.4zM821.9 818.7h11.4v11.4h-11.4zM832.8 818.7h11.4v11.4h-11.4zM843.8 818.7h11.4v11.4h-11.4zM591.8 829.6h11.4v11.4h-11.4zM821.9 829.6h11.4v11.4h-11.4zM832.8 829.6h11.4v11.4h-11.4zM876.7 829.6h11.4v11.4h-11.4zM668.5 840.6h11.4v11.4h-11.4zM701.4 840.6h11.4v11.4h-11.4zM712.3 840.6h11.4v11.4h-11.4zM887.6 840.6h11.4v11.4h-11.4zM745.2 851.5h11.4v11.4h-11.4zM843.8 851.5h11.4v11.4h-11.4zM569.9 862.5h11.4v11.4h-11.4zM613.7 862.5h11.4v11.4h-11.4zM832.8 862.5h11.4v11.4h-11.4zM843.8 862.5h11.4v11.4h-11.4zM624.7 873.4h11.4v11.4h-11.4zM679.5 873.4h11.4v11.4h-11.4zM723.3 873.4h11.4v11.4h-11.4zM734.2 873.4h11.4v11.4h-11.4zM821.9 873.4h11.4v11.4h-11.4zM800.0 884.4h11.4v11.4h-11.4zM843.8 884.4h11.4v11.4h-11.4zM876.7 884.4h11.4v11.4h-11.4zM569.9 895.3h11.4v11.4h-11.4zM613.7 895.3h11.4v11.4h-11.4zM843.8 895.3h11.4v11.4h-11.4zM854.8 895.3h11.4v11.4h-11.4z"/>
<path fill="#ff1000" d="M613.7 533.8h11.4v11.4h-11.4zM712.3 533.8h11.4v11.4h-11.4zM745.2 544.8h11.4v11.4h-11.4zM931.4 544.8h11.4v11.4h-11.4zM602.8 566.7h11.4v11.4h-11.4zM745.2 599.5h11.4v11.4h-11.4zM800.0 599.5h11.4v11.4h-11.4zM909.5 610.5h11.4v11.4h-11.4zM789.0 632.4h11.4v11.4h-11.4zM767.1 643.4h11.4v11.4h-11.4zM657.5 654.3h11.4v11.4h-11.4zM624.7 665.3h11.4v11.4h-11.4zM668.5 665.3h11.4v11.4h-11.4zM701.4 665.3h11.4v11.4h-11.4zM734.2 665.3h11.4v11.4h-11.4zM613.7 687.2h11.4v11.4h-11.4zM887.6 687.2h11.4v11.4h-11.4zM745.2 698.1h11.4v11.4h-11.4zM569.9 709.1h11.4v11.4h-11.4zM898.6 731.0h11.4v11.4h-11.4zM668.5 742.0h11.4v11.4h-11.4zM854.8 742.0h11.4v11.4h-11.4zM909.5 742.0h11.4v11.4h-11.4zM679.5 785.8h11.4v11.4h-11.4zM690.4 785.8h11.4v11.4h-11.4zM909.5 796.7h11.4v11.4h-11.4zM602.8 807.7h11.4v11.4h-11.4zM712.3 807.7h11.4v11.4h-11.4zM778.1 807.7h11.4v11.4h-11.4zM800.0 818.7h11.4v11.4h-11.4zM602.8 829.6h11.4v11.4h-11.4zM569.9 873.4h11.4v11.4h-11.4zM843.8 873.4h11.4v11.4h-11.4zM909.5 873.4h11.4v11.4h-11.4zM887.6 884.4h11.4v11.4h-11.4zM920.5 884.4h11.4v11.4h-11.4zM635.6 895.3h11.4v11.4h-11.4zM767.1 895.3h11.4v11.4h-11.4z"/>
<path fill="#10f0ff" d="M624.7 533.8h11.4v11.4h-11.4zM712.3 544.8h11.4v11.4h-11.4zM569.9 555.7h11.4v11.4h-11.4zM580.9 555.7h11.4v11.4h-11.4zM613.7 555.7h11.4v11.4h-11.4zM745.2 555.7h11.4v11.4h-11.4zM778.1 555.7h11.4v11.4h-11.4zM821.9 555.7h11.4v11.4h-11.4zM832.8 555.7h11.4v11.4h-11.4zM865.7 555.7h11.4v11.4h-11.4zM876.7 555.7h11.4v11.4h-11.4zM920.5 555.7h11.4v11.4h-11.4zM569.9 577.6h11.4v11.4h-11.4zM701.4 577.6h11.4v11.4h-11.4zM854.8 577.6h11.4v11.4h-11.4zM920.5 577.6h11.4v11.4h-11.4zM712.3 588.6h11.4v11.4h-11.4zM854.8 588.6h11.4v11.4h-11.4zM865.7 588.6h11.4v11.4h-11.4zM613.7 599.5h11.4v11.4h-11.4zM756.1 599.5h11.4v11.4h-11.4zM602.8 621.4h11.4v11.4h-11.4zM613.7 621.4h11.4v11.4h-11.4zM624.7 621.4h11.4v11.4h-11.4zM635.6 621.4h11.4v11.4h-11.4zM646.6 621.4h11.4v11.4h-11.4zM767.1 621.4h11.4v11.4h-11.4zM832.8 621.4h11.4v11.4h-11.4zM580.9 632.4h11.4v11.4h-11.4zM591.8 632.4h11.4v11.4h-11.4zM745.2 632.4h11.4v11.4h-11.4zM613.7 643.4h11.4v11.4h-11.4zM843.8 665.3h11.4v11.4h-11.4zM635.6 676.2h11.4v11.4h-11.4zM821.9 676.2h11.4v11.4h-11.4zM876.7 676.2h11.4v11.4h-11.4zM745.2 687.2h11.4v11.4h-11.4zM832.8 687.2h11.4v11.4h-11.4zM668.5 698.1h11.4v11.4h-11.4zM800.0 698.1h11.4v11.4h-11.4zM712.3 720.0h11.4v11.4h-11.4zM843.8 720.0h11.4v11.4h-11.4zM887.6 720.0h11.4v11.4h-11.4zM580.9 731.0h11.4v11.4h-11.4zM668.5 731.0h11.4v11.4h-11.4zM789.0 731.0h11.4v11.4h-11.4zM800.0 731.0h11.4v11.4h-11.4zM887.6 742.0h11.4v11.4h-11.4zM789.0 752.9h11.4v11.4h-11.4zM821.9 752.9h11.4v11.4h-11.4zM832.8 752.9h11.4v11.4h-11.4zM635.6 763.9h11.4v11.4h-11.4zM756.1 763.9h11.4v11.4h-11.4zM569.9 774.8h11.4v11.4h-11.4zM723.3 774.8h11.4v11.4h-11.4zM767.1 774.8h11.4v11.4h-11.4zM591.8 785.8h11.4v11.4h-11.4zM624.7 785.8h11.4v11.4h-11.4zM657.5 785.8h11.4v11.4h-11.4zM723.3 785.8h11.4v11.4h-11.4zM920.5 785.8h11.4v11.4h-11.4zM668.5 796.7h11.4v11.4h-11.4zM854.8 796.7h11.4v11.4h-11.4zM865.7 796.7h11.4v11.4h-11.4zM920.5 796.7h11.4v11.4h-11.4zM591.8 807.7h11.4v11.4h-11.4zM832.8 807.7h11.4v11.4h-11.4zM843.8 807.7h11.4v11.4h-11.4zM865.7 807.7h11.4v11.4h-11.4zM931.4 818.7h11.4v11.4h-11.4zM690.4 829.6h11.4v11.4h-11.4zM887.6 829.6h11.4v11.4h-11.4zM646.6 851.5h11.4v11.4h-11.4zM756.1 851.5h11.4v11.4h-11.4zM767.1 851.5h11.4v11.4h-11.4zM690.4 873.4h11.4v11.4h-11.4zM789.0 873.4h11.4v11.4h-11.4zM624.7 884.4h11.4v11.4h-11.4zM832.8 884.4h11.4v11.4h-11.4zM898.6 884.4h11.4v11.4h-11.4zM580.9 895.3h11.4v11.4h-11.4z"/>
<path fill="#00009c" d="M635.6 533.8h11.4v11.4h-11.4zM646.6 533.8h11.4v11.4h-11.4zM668.5 533.8h11.4v11.4h-11.4zM679.5 533.8h11.4v11.4h-11.4zM690.4 533.8h11.4v11.4h-11.4zM723.3 533.8h11.4v11.4h-11.4zM734.2 533.8h11.4v11.4h-11.4zM887.6 533.8h11.4v11.4h-11.4zM920.5 533.8h11.4v11.4h-11.4zM580.9 544.8h11.4v11.4h-11.4zM657.5 544.8h11.4v11.4h-11.4zM690.4 544.8h11.4v11.4h-11.4zM734.2 544.8h11.4v11.4h-11.4zM789.0 544.8h11.4v11.4h-11.4zM821.9 544.8h11.4v11.4h-11.4zM832.8 544.8h11.4v11.4h-11.4zM920.5 544.8h11.4v11.4h-11.4zM602.8 555.7h11.4v11.4h-11.4zM646.6 555.7h11.4v11.4h-11.4zM690.4 555.7h11.4v11.4h-11.4zM723.3 555.7h11.4v11.4h-11.4zM734.2 555.7h11.4v11.4h-11.4zM767.1 555.7h11.4v11.4h-11.4zM800.0 555.7h11.4v11.4h-11.4zM810.9 555.7h11.4v11.4h-11.4zM887.6 555.7h11.4v11.4h-11.4zM898.6 555.7h11.4v11.4h-11.4zM569.9 566.7h11.4v11.4h-11.4zM591.8 566.7h11.4v11.4h-11.4zM613.7 566.7h11.4v11.4h-11.4zM624.7 566.7h11.4v11.4h-11.4zM723.3 566.7h11.4v11.4h-11.4zM734.2 566.7h11.4v11.4h-11.4zM756.1 566.7h11.4v11.4h-11.4zM767.1 566.7h11.4v11.4h-11.4zM810.9 566.7h11.4v11.4h-11.4zM854.8 566.7h11.4v11.4h-11.4zM898.6 566.7h11.4v11.4h-11.4zM580.9 577.6h11.4v11.4h-11.4zM613.7 577.6h11.4v11.4h-11.4zM624.7 577.6h11.4v11.4h-11.4zM635.6 577.6h11.4v11.4h-11.4zM646.6 577.6h11.4v11.4h-11.4zM657.5 577.6h11.4v11.4h-11.4zM690.4 577.6h11.4v11.4h-11.4zM745.2 577.6h11.4v11.4h-11.4zM843.8 577.6h11.4v11.4h-11.4zM865.7 577.6h11.4v11.4h-11.4zM909.5 577.6h11.4v11.4h-11.4zM931.4 577.6h11.4v11.4h-11.4zM580.9 588.6h11.4v11.4h-11.4zM613.7 588.6h11.4v11.4h-11.4zM690.4 588.6h11.4v11.4h-11.4zM745.2 588.6h11.4v11.4h-11.4zM756.1 588.6h11.4v11.4h-11.4zM821.9 588.6h11.4v11.4h-11.4zM909.5 588.6h11.4v11.4h-11.4zM591.8 599.5h11.4v11.4h-11.4zM602.8 599.5h11.4v11.4h-11.4zM635.6 599.5h11.4v11.4h-11.4zM668.5 599.5h11.4v11.4h-11.4zM712.3 599.5h11.4v11.4h-11.4zM723.3 599.5h11.4v11.4h-11.4zM767.1 599.5h11.4v11.4h-11.4zM843.8 599.5h11.4v11.4h-11.4zM931.4 599.5h11.4v11.4h-11.4zM580.9 610.5h11.4v11.4h-11.4zM613.7 610.5h11.4v11.4h-11.4zM646.6 610.5h11.4v11.4h-11.4zM690.4 610.5h11.4v11.4h-11.4zM712.3 610.5h11.4v11.4h-11.4zM734.2 610.5h11.4v11.4h-11.4zM767.1 610.5h11.4v11.4h-11.4zM778.1 610.5h11.4v11.4h-11.4zM789.0 610.5h11.4v11.4h-11.4zM821.9 610.5h11.4v11.4h-11.4zM832.8 610.5h11.4v11.4h-11.4zM854.8 610.5h11.4v11.4h-11.4zM876.7 610.5h11.4v11.4h-11.4zM920.5 610.5h11.4v11.4h-11.4zM657.5 621.4h11.4v11.4h-11.4zM679.5 621.4h11.4v11.4h-11.4zM690.4 621.4h11.4v11.4h-11.4zM701.4 621.4h11.4v11.4h-11.4zM756.1 621.4h11.4v11.4h-11.4zM778.1 621.4h11.4v11.4h-11.4zM789.0 621.4h11.4v11.4h-11.4zM800.0 621.4h11.4v11.4h-11.4zM821.9 621.4h11.4v11.4h-11.4zM876.7 621.4h11.4v11.4h-11.4zM898.6 621.4h11.4v11.4h-11.4zM931.4 621.4h11.4v11.4h-11.4zM602.8 632.4h11.4v11.4h-11.4zM657.5 632.4h11.4v11.4h-11.4zM679.5 632.4h11.4v11.4h-11.4zM701.4 632.4h11.4v11.4h-11.4zM723.3 632.4h11.4v11.4h-11.4zM810.9 632.4h11.4v11.4h-11.4zM821.9 632.4h11.4v11.4h-11.4zM843.8 632.4h11.4v11.4h-11.4zM854.8 632.4h11.4v11.4h-11.4zM898.6 632.4h11.4v11.4h-11.4zM920.5 632.4h11.4v11.4h-11.4zM591.8 643.4h11.4v11.4h-11.4zM712.3 643.4h11.4v11.4h-11.4zM745.2 643.4h11.4v11.4h-11.4zM810.9 643.4h11.4v11.4h-11.4zM832.8 643.4h11.4v11.4h-11.4zM854.8 643.4h11.4v11.4h-11.4zM898.6 643.4h11.4v11.4h-11.4zM909.5 643.4h11.4v11.4h-11.4zM613.7 654.3h11.4v11.4h-11.4zM646.6 654.3h11.4v11.4h-11.4zM701.4 654.3h11.4v11.4h-11.4zM734.2 654.3h11.4v11.4h-11.4zM810.9 654.3h11.4v11.4h-11.4zM920.5 654.3h11.4v11.4h-11.4zM580.9 665.3h11.4v11.4h-11.4zM613.7 665.3h11.4v11.4h-11.4zM657.5 665.3h11.4v11.4h-11.4zM756.1 665.3h11.4v11.4h-11.4zM789.0 665.3h11.4v11.4h-11.4zM865.7 665.3h11.4v11.4h-11.4zM898.6 665.3h11.4v11.4h-11.4zM591.8 676.2h11.4v11.4h-11.4zM624.7 676.2h11.4v11.4h-11.4zM723.3 676.2h11.4v11.4h-11.4zM789.0 676.2h11.4v11.4h-11.4zM800.0 676.2h11.4v11.4h-11.4zM843.8 676.2h11.4v11.4h-11.4zM887.6 676.2h11.4v11.4h-11.4zM898.6 676.2h11.4v11.4h-11.4zM931.4 676.2h11.4v11.4h-11.4zM580.9 687.2h11.4v11.4h-11.4zM591.8 687.2h11.4v11.4h-11.4zM602.8 687.2h11.4v11.4h-11.4zM701.4 687.2h11.4v11.4h-11.4zM723.3 687.2h11.4v11.4h-11.4zM789.0 687.2h11.4v11.4h-11.4zM800.0 687.2h11.4v11.4h-11.4zM865.7 687.2h11.4v11.4h-11.4zM898.6 687.2h11.4v11.4h-11.4zM569.9 698.1h11.4v11.4h-11.4zM591.8 698.1h11.4v11.4h-11.4zM734.2 698.1h11.4v11.4h-11.4zM767.1 698.1h11.4v11.4h-11.4zM821.9 698.1h11.4v11.4h-11.4zM843.8 698.1h11.4v11.4h-11.4zM580.9 709.1h11.4v11.4h-11.4zM635.6 709.1h11.4v11.4h-11.4zM657.5 709.1h11.4v11.4h-11.4zM668.5 709.1h11.4v11.4h-11.4zM679.5 709.1h11.4v11.4h-11.4zM712.3 709.1h11.4v11.4h-11.4zM723.3 709.1h11.4v11.4h-11.4zM734.2 709.1h11.4v11.4h-11.4zM745.2 709.1h11.4v11.4h-11.4zM756.1 709.1h11.4v11.4h-11.4zM800.0 709.1h11.4v11.4h-11.4zM810.9 709.1h11.4v11.4h-11.4zM843.8 709.1h11.4v11.4h-11.4zM854.8 709.1h11.4v11.4h-11.4zM920.5 709.1h11.4v11.4h-11.4zM613.7 720.0h11.4v11.4h-11.4zM668.5 720.0h11.4v11.4h-11.4zM734.2 720.0h11.4v11.4h-11.4zM756.1 720.0h11.4v11.4h-11.4zM800.0 720.0h11.4v11.4h-11.4zM832.8 720.0h11.4v11.4h-11.4zM920.5 720.0h11.4v11.4h-11.4zM931.4 720.0h11.4v11.4h-11.4zM591.8 731.0h11.4v11.4h-11.4zM613.7 731.0h11.4v11.4h-11.4zM657.5 731.0h11.4v11.4h-11.4zM679.5 731.0h11.4v11.4h-11.4zM745.2 731.0h11.4v11.4h-11.4zM756.1 731.0h11.4v11.4h-11.4zM767.1 731.0h11.4v11.4h-11.4zM843.8 731.0h11.4v11.4h-11.4zM580.9 742.0h11.4v11.4h-11.4zM591.8 742.0h11.4v11.4h-11.4zM657.5 742.0h11.4v11.4h-11.4zM679.5 742.0h11.4v11.4h-11.4zM701.4 742.0h11.4v11.4h-11.4zM734.2 742.0h11.4v11.4h-11.4zM767.1 742.0h11.4v11.4h-11.4zM789.0 742.0h11.4v11.4h-11.4zM843.8 742.0h11.4v11.4h-11.4zM876.7 742.0h11.4v11.4h-11.4zM898.6 742.0h11.4v11.4h-11.4zM580.9 752.9h11.4v11.4h-11.4zM591.8 752.9h11.4v11.4h-11.4zM624.7 752.9h11.4v11.4h-11.4zM646.6 752.9h11.4v11.4h-11.4zM657.5 752.9h11.4v11.4h-11.4zM668.5 752.9h11.4v11.4h-11.4zM701.4 752.9h11.4v11.4h-11.4zM723.3 752.9h11.4v11.4h-11.4zM734.2 752.9h11.4v11.4h-11.4zM756.1 752.9h11.4v11.4h-11.4zM800.0 752.9h11.4v11.4h-11.4zM909.5 752.9h11.4v11.4h-11.4zM920.5 752.9h11.4v11.4h-11.4zM580.9 763.9h11.4v11.4h-11.4zM613.7 763.9h11.4v11.4h-11.4zM624.7 763.9h11.4v11.4h-11.4zM657.5 763.9h11.4v11.4h-11.4zM690.4 763.9h11.4v11.4h-11.4zM723.3 763.9h11.4v11.4h-11.4zM734.2 763.9h11.4v11.4h-11.4zM767.1 763.9h11.4v11.4h-11.4zM821.9 763.9h11.4v11.4h-11.4zM832.8 763.9h11.4v11.4h-11.4zM843.8 763.9h11.4v11.4h-11.4zM854.8 763.9h11.4v11.4h-11.4zM887.6 763.9h11.4v11.4h-11.4zM898.6 763.9h11.4v11.4h-11.4zM580.9 774.8h11.4v11.4h-11.4zM591.8 774.8h11.4v11.4h-11.4zM624.7 774.8h11.4v11.4h-11.4zM657.5 774.8h11.4v11.4h-11.4zM712.3 774.8h11.4v11.4h-11.4zM734.2 774.8h11.4v11.4h-11.4zM789.0 774.8h11.4v11.4h-11.4zM843.8 774.8h11.4v11.4h-11.4zM920.5 774.8h11.4v11.4h-11.4zM734.2 785.8h11.4v11.4h-11.4zM756.1 785.8h11.4v11.4h-11.4zM767.1 785.8h11.4v11.4h-11.4zM789.0 785.8h11.4v11.4h-11.4zM800.0 785.8h11.4v11.4h-11.4zM843.8 785.8h11.4v11.4h-11.4zM876.7 785.8h11.4v11.4h-11.4zM591.8 796.7h11.4v11.4h-11.4zM602.8 796.7h11.4v11.4h-11.4zM701.4 796.7h11.4v11.4h-11.4zM712.3 796.7h11.4v11.4h-11.4zM723.3 796.7h11.4v11.4h-11.4zM821.9 796.7h11.4v11.4h-11.4zM843.8 796.7h11.4v11.4h-11.4zM898.6 796.7h11.4v11.4h-11.4zM569.9 807.7h11.4v11.4h-11.4zM624.7 807.7h11.4v11.4h-11.4zM635.6 807.7h11.4v11.4h-11.4zM668.5 807.7h11.4v11.4h-11.4zM701.4 807.7h11.4v11.4h-11.4zM789.0 807.7h11.4v11.4h-11.4zM854.8 807.7h11.4v11.4h-11.4zM876.7 807.7h11.4v11.4h-11.4zM931.4 807.7h11.4v11.4h-11.4zM602.8 818.7h11.4v11.4h-11.4zM657.5 818.7h11.4v11.4h-11.4zM668.5 818.7h11.4v11.4h-11.4zM679.5 818.7h11.4v11.4h-11.4zM723.3 818.7h11.4v11.4h-11.4zM745.2 818.7h11.4v11.4h-11.4zM756.1 818.7h11.4v11.4h-11.4zM854.8 818.7h11.4v11.4h-11.4zM865.7 818.7h11.4v11.4h-11.4zM909.5 818.7h11.4v11.4h-11.4zM635.6 829.6h11.4v11.4h-11.4zM723.3 829.6h11.4v11.4h-11.4zM734.2 829.6h11.4v11.4h-11.4zM745.2 829.6h11.4v11.4h-11.4zM778.1 829.6h11.4v11.4h-11.4zM810.9 829.6h11.4v11.4h-11.4zM591.8 840.6h11.4v11.4h-11.4zM602.8 840.6h11.4v11.4h-11.4zM613.7 840.6h11.4v11.4h-11.4zM635.6 840.6h11.4v11.4h-11.4zM646.6 840.6h11.4v11.4h-11.4zM679.5 840.6h11.4v11.4h-11.4zM734.2 840.6h11.4v11.4h-11.4zM745.2 840.6h11.4v11.4h-11.4zM810.9 840.6h11.4v11.4h-11.4zM876.7 840.6h11.4v11.4h-11.4zM909.5 840.6h11.4v11.4h-11.4zM580.9 851.5h11.4v11.4h-11.4zM602.8 851.5h11.4v11.4h-11.4zM624.7 851.5h11.4v11.4h-11.4zM635.6 851.5h11.4v11.4h-11.4zM712.3 851.5h11.4v11.4h-11.4zM723.3 851.5h11.4v11.4h-11.4zM734.2 851.5h11.4v11.4h-11.4zM800.0 851.5h11.4v11.4h-11.4zM887.6 851.5h11.4v11.4h-11.4zM898.6 851.5h11.4v11.4h-11.4zM909.5 851.5h11.4v11.4h-11.4zM580.9 862.5h11.4v11.4h-11.4zM591.8 862.5h11.4v11.4h-11.4zM635.6 862.5h11.4v11.4h-11.4zM646.6 862.5h11.4v11.4h-11.4zM679.5 862.5h11.4v11.4h-11.4zM690.4 862.5h11.4v11.4h-11.4zM745.2 862.5h11.4v11.4h-11.4zM756.1 862.5h11.4v11.4h-11.4zM767.1 862.5h11.4v11.4h-11.4zM778.1 862.5h11.4v11.4h-11.4zM821.9 862.5h11.4v11.4h-11.4zM865.7 862.5h11.4v11.4h-11.4zM876.7 862.5h11.4v11.4h-11.4zM613.7 873.4h11.4v11.4h-11.4zM646.6 873.4h11.4v11.4h-11.4zM701.4 873.4h11.4v11.4h-11.4zM800.0 873.4h11.4v11.4h-11.4zM810.9 873.4h11.4v11.4h-11.4zM865.7 873.4h11.4v11.4h-11.4zM898.6 873.4h11.4v11.4h-11.4zM931.4 873.4h11.4v11.4h-11.4zM580.9 884.4h11.4v11.4h-11.4zM591.8 884.4h11.4v11.4h-11.4zM602.8 884.4h11.4v11.4h-11.4zM613.7 884.4h11.4v11.4h-11.4zM635.6 884.4h11.4v11.4h-11.4zM657.5 884.4h11.4v11.4h-11.4zM679.5 884.4h11.4v11.4h-11.4zM701.4 884.4h11.4v11.4h-11.4zM712.3 884.4h11.4v11.4h-11.4zM723.3 884.4h11.4v11.4h-11.4zM734.2 884.4h11.4v11.4h-11.4zM778.1 884.4h11.4v11.4h-11.4zM865.7 884.4h11.4v11.4h-11.4zM602.8 895.3h11.4v11.4h-11.4zM679.5 895.3h11.4v11.4h-11.4zM701.4 895.3h11.4v11.4h-11.4zM723.3 895.3h11.4v11.4h-11.4zM734.2 895.3h11.4v11.4h-11.4zM789.0 895.3h11.4v11.4h-11.4zM810.9 895.3h11.4v11.4h-11.4zM887.6 895.3h11.4v11.4h-11.4zM909.5 895.3h11.4v11.4h-11.4zM931.4 895.3h11.4v11.4h-11.4z"/>
<path fill="#0090ff" d="M701.4 533.8h11.4v11.4h-11.4zM745.2 533.8h11.4v11.4h-11.4zM810.9 533.8h11.4v11.4h-11.4zM624.7 544.8h11.4v11.4h-11.4zM646.6 544.8h11.4v11.4h-11.4zM668.5 544.8h11.4v11.4h-11.4zM679.5 544.8h11.4v11.4h-11.4zM865.7 544.8h11.4v11.4h-11.4zM789.0 555.7h11.4v11.4h-11.4zM843.8 555.7h11.4v11.4h-11.4zM668.5 566.7h11.4v11.4h-11.4zM690.4 566.7h11.4v11.4h-11.4zM591.8 577.6h11.4v11.4h-11.4zM778.1 577.6h11.4v11.4h-11.4zM723.3 588.6h11.4v11.4h-11.4zM810.9 599.5h11.4v11.4h-11.4zM591.8 610.5h11.4v11.4h-11.4zM602.8 610.5h11.4v11.4h-11.4zM635.6 610.5h11.4v11.4h-11.4zM668.5 610.5h11.4v11.4h-11.4zM723.3 610.5h11.4v11.4h-11.4zM800.0 610.5h11.4v11.4h-11.4zM591.8 621.4h11.4v11.4h-11.4zM734.2 621.4h11.4v11.4h-11.4zM745.2 621.4h11.4v11.4h-11.4zM810.9 621.4h11.4v11.4h-11.4zM843.8 621.4h11.4v11.4h-11.4zM909.5 621.4h11.4v11.4h-11.4zM569.9 632.4h11.4v11.4h-11.4zM690.4 632.4h11.4v11.4h-11.4zM646.6 643.4h11.4v11.4h-11.4zM668.5 643.4h11.4v11.4h-11.4zM591.8 654.3h11.4v11.4h-11.4zM602.8 654.3h11.4v11.4h-11.4zM767.1 654.3h11.4v11.4h-11.4zM789.0 654.3h11.4v11.4h-11.4zM569.9 676.2h11.4v11.4h-11.4zM646.6 676.2h11.4v11.4h-11.4zM701.4 676.2h11.4v11.4h-11.4zM745.2 676.2h11.4v11.4h-11.4zM854.8 676.2h11.4v11.4h-11.4zM843.8 687.2h11.4v11.4h-11.4zM854.8 687.2h11.4v11.4h-11.4zM635.6 698.1h11.4v11.4h-11.4zM712.3 698.1h11.4v11.4h-11.4zM756.1 698.1h11.4v11.4h-11.4zM854.8 698.1h11.4v11.4h-11.4zM898.6 698.1h11.4v11.4h-11.4zM591.8 709.1h11.4v11.4h-11.4zM602.8 709.1h11.4v11.4h-11.4zM931.4 709.1h11.4v11.4h-11.4zM635.6 720.0h11.4v11.4h-11.4zM657.5 720.0h11.4v11.4h-11.4zM723.3 720.0h11.4v11.4h-11.4zM767.1 720.0h11.4v11.4h-11.4zM778.1 720.0h11.4v11.4h-11.4zM821.9 720.0h11.4v11.4h-11.4zM690.4 731.0h11.4v11.4h-11.4zM701.4 731.0h11.4v11.4h-11.4zM778.1 731.0h11.4v11.4h-11.4zM712.3 742.0h11.4v11.4h-11.4zM810.9 742.0h11.4v11.4h-11.4zM569.9 752.9h11.4v11.4h-11.4zM602.8 752.9h11.4v11.4h-11.4zM712.3 752.9h11.4v11.4h-11.4zM810.9 752.9h11.4v11.4h-11.4zM887.6 752.9h11.4v11.4h-11.4zM602.8 763.9h11.4v11.4h-11.4zM646.6 763.9h11.4v11.4h-11.4zM635.6 774.8h11.4v11.4h-11.4zM821.9 774.8h11.4v11.4h-11.4zM898.6 774.8h11.4v11.4h-11.4zM569.9 785.8h11.4v11.4h-11.4zM745.2 785.8h11.4v11.4h-11.4zM767.1 796.7h11.4v11.4h-11.4zM876.7 796.7h11.4v11.4h-11.4zM580.9 807.7h11.4v11.4h-11.4zM887.6 807.7h11.4v11.4h-11.4zM701.4 818.7h11.4v11.4h-11.4zM701.4 829.6h11.4v11.4h-11.4zM712.3 829.6h11.4v11.4h-11.4zM767.1 829.6h11.4v11.4h-11.4zM854.8 829.6h11.4v11.4h-11.4zM723.3 840.6h11.4v11.4h-11.4zM821.9 840.6h11.4v11.4h-11.4zM854.8 840.6h11.4v11.4h-11.4zM898.6 840.6h11.4v11.4h-11.4zM569.9 851.5h11.4v11.4h-11.4zM778.1 851.5h11.4v11.4h-11.4zM876.7 851.5h11.4v11.4h-11.4zM920.5 851.5h11.4v11.4h-11.4zM723.3 862.5h11.4v11.4h-11.4zM789.0 862.5h11.4v11.4h-11.4zM800.0 862.5h11.4v11.4h-11.4zM887.6 862.5h11.4v11.4h-11.4zM657.5 873.4h11.4v11.4h-11.4zM745.2 873.4h11.4v11.4h-11.4zM668.5 884.4h11.4v11.4h-11.4zM931.4 884.4h11.4v11.4h-11.4zM657.5 895.3h11.4v11.4h-11.4zM778.1 895.3h11.4v11.4h-11.4z"/>
<path fill="#9cff60" d="M909.5 544.8h11.4v11.4h-11.4zM635.6 555.7h11.4v11.4h-11.4zM712.3 555.7h11.4v11.4h-11.4zM810.9 577.6h11.4v11.4h-11.4zM854.8 599.5h11.4v11.4h-11.4zM887.6 610.5h11.4v11.4h-11.4zM712.3 632.4h11.4v11.4h-11.4zM734.2 632.4h11.4v11.4h-11.4zM690.4 643.4h11.4v11.4h-11.4zM821.9 643.4h11.4v11.4h-11.4zM887.6 643.4h11.4v11.4h-11.4zM580.9 654.3h11.4v11.4h-11.4zM854.8 654.3h11.4v11.4h-11.4zM679.5 665.3h11.4v11.4h-11.4zM712.3 665.3h11.4v11.4h-11.4zM876.7 665.3h11.4v11.4h-11.4zM767.1 709.1h11.4v11.4h-11.4zM569.9 720.0h11.4v11.4h-11.4zM810.9 763.9h11.4v11.4h-11.4zM679.5 774.8h11.4v11.4h-11.4zM712.3 785.8h11.4v11.4h-11.4zM745.2 796.7h11.4v11.4h-11.4zM679.5 807.7h11.4v11.4h-11.4zM690.4 807.7h11.4v11.4h-11.4zM756.1 807.7h11.4v11.4h-11.4zM778.1 818.7h11.4v11.4h-11.4zM898.6 818.7h11.4v11.4h-11.4zM613.7 829.6h11.4v11.4h-11.4zM624.7 829.6h11.4v11.4h-11.4zM679.5 829.6h11.4v11.4h-11.4zM800.0 829.6h11.4v11.4h-11.4zM580.9 840.6h11.4v11.4h-11.4zM591.8 851.5h11.4v11.4h-11.4zM931.4 851.5h11.4v11.4h-11.4zM712.3 862.5h11.4v11.4h-11.4zM876.7 873.4h11.4v11.4h-11.4zM569.9 884.4h11.4v11.4h-11.4zM690.4 884.4h11.4v11.4h-11.4zM690.4 895.3h11.4v11.4h-11.4zM832.8 895.3h11.4v11.4h-11.4z"/>
<path fill="#50ffb0" d="M679.5 555.7h11.4v11.4h-11.4zM778.1 566.7h11.4v11.4h-11.4zM821.9 566.7h11.4v11.4h-11.4zM756.1 577.6h11.4v11.4h-11.4zM821.9 599.5h11.4v11.4h-11.4zM931.4 610.5h11.4v11.4h-11.4zM778.1 632.4h11.4v11.4h-11.4zM635.6 643.4h11.4v11.4h-11.4zM701.4 643.4h11.4v11.4h-11.4zM789.0 643.4h11.4v11.4h-11.4zM876.7 643.4h11.4v11.4h-11.4zM931.4 643.4h11.4v11.4h-11.4zM745.2 665.3h11.4v11.4h-11.4zM931.4 665.3h11.4v11.4h-11.4zM613.7 676.2h11.4v11.4h-11.4zM810.9 676.2h11.4v11.4h-11.4zM712.3 687.2h11.4v11.4h-11.4zM646.6 698.1h11.4v11.4h-11.4zM602.8 720.0h11.4v11.4h-11.4zM624.7 720.0h11.4v11.4h-11.4zM602.8 731.0h11.4v11.4h-11.4zM832.8 731.0h11.4v11.4h-11.4zM876.7 731.0h11.4v11.4h-11.4zM613.7 752.9h11.4v11.4h-11.4zM854.8 752.9h11.4v11.4h-11.4zM931.4 752.9h11.4v11.4h-11.4zM778.1 763.9h11.4v11.4h-11.4zM613.7 774.8h11.4v11.4h-11.4zM854.8 785.8h11.4v11.4h-11.4zM679.5 796.7h11.4v11.4h-11.4zM876.7 818.7h11.4v11.4h-11.4zM898.6 829.6h11.4v11.4h-11.4zM624.7 840.6h11.4v11.4h-11.4zM613.7 851.5h11.4v11.4h-11.4zM668.5 851.5h11.4v11.4h-11.4zM832.8 851.5h11.4v11.4h-11.4zM898.6 862.5h11.4v11.4h-11.4zM591.8 895.3h11.4v11.4h-11.4z"/>
</g>
<text x="313.8" y="944.7" font-size="37.5" text-anchor="middle">Top layer</text>
<text x="764.0" y="948.0" font-size="37.5" text-anchor="middle">Bottom layer</text>
<defs><linearGradient id="jet" x1="0" y1="1" x2="0" y2="0"><stop offset="0" stop-color="#00008f"/><stop offset="0.125" stop-color="#0000ff"/><stop offset="0.375" stop-color="#00ffff"/><stop offset="0.625" stop-color="#ffff00"/><stop offset="0.875" stop-color="#ff0000"/><stop offset="1" stop-color="#800000"/></linearGradient></defs>
<rect x="84" y="613.1" width="20" height="28.7" fill="#800000"/>
<rect x="84" y="672.1" width="20" height="234.1" fill="url(#jet)" stroke="#444" stroke-width="0.6"/>
<text transform="translate(58,619.8) rotate(90)" font-size="30">&lt;</text>
<text transform="translate(58,653.5) rotate(90)" font-size="28">5x10<tspan font-size="17" dy="-11">-4</tspan></text>
<text transform="translate(58.2,780.5) rotate(90)" font-size="26.5">E/<tspan font-family='"Liberation Serif", serif' dx="2">μ</tspan></text>
<text transform="translate(57,898) rotate(90)" font-size="28">0</text>
<text x="978.3" y="39.5" font-size="37">(d)</text>
<rect x="1078.6" y="14.0" width="549.3" height="406.6" fill="none" stroke="#2a2a2a" stroke-width="1.7"/>
<path d="M1078.6 17.7h8M1078.6 86.3h4.5M1078.6 69.0h4.5M1078.6 56.8h4.5M1078.6 47.3h4.5M1078.6 39.5h4.5M1078.6 32.9h4.5M1078.6 27.2h4.5M1078.6 22.2h4.5M1078.6 115.9h8M1078.6 184.5h4.5M1078.6 167.2h4.5M1078.6 155.0h4.5M1078.6 145.5h4.5M1078.6 137.7h4.5M1078.6 131.1h4.5M1078.6 125.4h4.5M1078.6 120.4h4.5M1078.6 214.1h8M1078.6 282.7h4.5M1078.6 265.4h4.5M1078.6 253.2h4.5M1078.6 243.7h4.5M1078.6 235.9h4.5M1078.6 229.3h4.5M1078.6 223.6h4.5M1078.6 218.6h4.5M1078.6 312.3h8M1078.6 380.9h4.5M1078.6 363.6h4.5M1078.6 351.4h4.5M1078.6 341.9h4.5M1078.6 334.1h4.5M1078.6 327.5h4.5M1078.6 321.8h4.5M1078.6 316.8h4.5M1078.6 410.5h8M1078.6 415.0h4.5M1079.5 420.6v-8.5M1110.0 420.6v-4.5M1140.4 420.6v-8.5M1170.9 420.6v-4.5M1201.3 420.6v-8.5M1231.8 420.6v-4.5M1262.3 420.6v-8.5M1292.7 420.6v-4.5M1323.2 420.6v-8.5M1353.6 420.6v-4.5M1384.1 420.6v-8.5M1414.6 420.6v-4.5M1445.0 420.6v-8.5M1475.5 420.6v-4.5M1505.9 420.6v-8.5M1536.4 420.6v-4.5M1566.9 420.6v-8.5M1597.3 420.6v-4.5M1627.8 420.6v-8.5" stroke="#2a2a2a" stroke-width="1.6"/>
<text x="1070.3" y="27.3" font-size="23.5" text-anchor="end">10<tspan font-size="15" dy="-12.5">0</tspan></text>
<text x="1070.3" y="125.5" font-size="23.5" text-anchor="end">10<tspan font-size="15" dy="-12.5"><tspan font-size="12">-</tspan>1</tspan></text>
<text x="1070.3" y="223.7" font-size="23.5" text-anchor="end">10<tspan font-size="15" dy="-12.5"><tspan font-size="12">-</tspan>2</tspan></text>
<text x="1070.3" y="321.9" font-size="23.5" text-anchor="end">10<tspan font-size="15" dy="-12.5"><tspan font-size="12">-</tspan>3</tspan></text>
<text x="1070.3" y="420.1" font-size="23.5" text-anchor="end">10<tspan font-size="15" dy="-12.5"><tspan font-size="12">-</tspan>4</tspan></text>
<text x="1079.5" y="448.2" font-size="24" text-anchor="middle">0.0</text>
<text x="1140.4" y="448.2" font-size="24" text-anchor="middle">0.2</text>
<text x="1201.3" y="448.2" font-size="24" text-anchor="middle">0.4</text>
<text x="1262.3" y="448.2" font-size="24" text-anchor="middle">0.6</text>
<text x="1323.2" y="448.2" font-size="24" text-anchor="middle">0.8</text>
<text x="1384.1" y="448.2" font-size="24" text-anchor="middle">1.0</text>
<text x="1445.0" y="448.2" font-size="24" text-anchor="middle">1.2</text>
<text x="1505.9" y="448.2" font-size="24" text-anchor="middle">1.4</text>
<text x="1566.9" y="448.2" font-size="24" text-anchor="middle">1.6</text>
<text x="1627.8" y="448.2" font-size="24" text-anchor="middle">1.8</text>
<text transform="translate(1017.6,329.7) rotate(-90)" font-size="23">Relative Frequency</text>
<text x="1327" y="474.6" font-size="22.5">E/<tspan font-family='"Liberation Serif", serif'>μ</tspan>k<tspan font-size="11.2" dy="8.9">B</tspan><tspan dy="-8.9">T (Pa</tspan><tspan font-size="10" dy="-11">-</tspan><tspan font-size="14">1</tspan><tspan dy="11">)</tspan></text>
<path d="M1080 16.7L1529 272.5" stroke="#1414c8" stroke-width="2.1" stroke-dasharray="8.5,4.5,2,5"/>
<path d="M1080 19.3L1514 355.9" stroke="#e42222" stroke-width="2.1" stroke-dasharray="8.5,4.5,2,5"/>
<circle cx="1154.2" cy="87.5" r="6.8" fill="#f00"/>
<circle cx="1229.4" cy="148.0" r="6.8" fill="#f00"/>
<circle cx="1304.8" cy="206.0" r="6.8" fill="#f00"/>
<circle cx="1380.3" cy="232.0" r="6.8" fill="#f00"/>
<circle cx="1455.7" cy="317.4" r="6.8" fill="#f00"/>
<path fill="#00f" d="M1074.5 13.1h12v12h-12zM1148.2 63.7h12v12h-12zM1223.8 105.7h12v12h-12zM1299.2 157.0h12v12h-12zM1374.3 189.9h12v12h-12zM1449.7 208.5h12v12h-12zM1525.5 251.2h12v12h-12z"/>
<text x="1521.5" y="293.7" font-size="23.5">Top layer</text>
<text x="1472.5" y="377.6" font-size="23.5">Bottom layer</text>
<text x="976.5" y="525.0" font-size="36.5">(e)</text>
<rect x="1077.3" y="497.9" width="553.2" height="407.8" fill="none" stroke="#2a2a2a" stroke-width="1.7"/>
<path d="M1077.3 905.7h8.6M1077.3 888.7h5M1077.3 871.7h8.6M1077.3 854.7h5M1077.3 837.7h8.6M1077.3 820.8h5M1077.3 803.8h8.6M1077.3 786.8h5M1077.3 769.8h8.6M1077.3 752.8h5M1077.3 735.8h8.6M1077.3 718.8h5M1077.3 701.8h8.6M1077.3 684.8h5M1077.3 667.8h8.6M1077.3 650.9h5M1077.3 633.9h8.6M1077.3 616.9h5M1077.3 599.9h8.6M1077.3 582.9h5M1077.3 565.9h8.6M1077.3 548.9h5M1077.3 531.9h8.6M1077.3 514.9h5M1077.3 497.9h8.6M1077.4 905.7v-9.4M1108.1 905.7v-5.4M1138.9 905.7v-9.4M1169.6 905.7v-5.4M1200.4 905.7v-9.4M1231.1 905.7v-5.4M1261.8 905.7v-9.4M1292.6 905.7v-5.4M1323.3 905.7v-9.4M1354.1 905.7v-5.4M1384.8 905.7v-9.4M1415.5 905.7v-5.4M1446.3 905.7v-9.4M1477.0 905.7v-5.4M1507.8 905.7v-9.4M1538.5 905.7v-5.4M1569.2 905.7v-9.4M1600.0 905.7v-5.4M1630.7 905.7v-9.4" stroke="#2a2a2a" stroke-width="1.6"/>
<text x="1067.3" y="913.1" font-size="22.5" text-anchor="end">0</text>
<text x="1067.3" y="879.1" font-size="22.5" text-anchor="end">2</text>
<text x="1067.3" y="845.1" font-size="22.5" text-anchor="end">4</text>
<text x="1067.3" y="811.2" font-size="22.5" text-anchor="end">6</text>
<text x="1067.3" y="777.2" font-size="22.5" text-anchor="end">8</text>
<text x="1067.3" y="743.2" font-size="22.5" text-anchor="end">10</text>
<text x="1067.3" y="709.2" font-size="22.5" text-anchor="end">12</text>
<text x="1067.3" y="675.2" font-size="22.5" text-anchor="end">14</text>
<text x="1067.3" y="641.3" font-size="22.5" text-anchor="end">16</text>
<text x="1067.3" y="607.3" font-size="22.5" text-anchor="end">18</text>
<text x="1067.3" y="573.3" font-size="22.5" text-anchor="end">20</text>
<text x="1067.3" y="539.3" font-size="22.5" text-anchor="end">22</text>
<text x="1067.3" y="505.3" font-size="22.5" text-anchor="end">24</text>
<text x="1077.4" y="933.0" font-size="22.5" text-anchor="middle">4.2</text>
<text x="1138.9" y="933.0" font-size="22.5" text-anchor="middle">4.4</text>
<text x="1200.4" y="933.0" font-size="22.5" text-anchor="middle">4.6</text>
<text x="1261.8" y="933.0" font-size="22.5" text-anchor="middle">4.8</text>
<text x="1323.3" y="933.0" font-size="22.5" text-anchor="middle">5.0</text>
<text x="1384.8" y="933.0" font-size="22.5" text-anchor="middle">5.2</text>
<text x="1446.3" y="933.0" font-size="22.5" text-anchor="middle">5.4</text>
<text x="1507.8" y="933.0" font-size="22.5" text-anchor="middle">5.6</text>
<text x="1569.2" y="933.0" font-size="22.5" text-anchor="middle">5.8</text>
<text x="1630.7" y="933.0" font-size="22.5" text-anchor="middle">6.0</text>
<text transform="translate(1025.9,750.7) rotate(-90)" font-size="22.9">Z (<tspan font-family='"Liberation Serif", serif'>μ</tspan>m)</text>
<text x="1250" y="964.8" font-size="22.5">Shear modulus,</text><text x="1417.5" y="964.8" font-size="22.5" font-family='"Liberation Serif", serif'>μ</text><text x="1437.2" y="964.8" font-size="22.5">(Pa)</text>
<path d="M1170.7,553.8C1177.4,558.6 1197.5,572.7 1210.7,582.7C1223.9,592.7 1237.1,602.9 1250.0,614.0C1262.9,625.1 1275.8,637.6 1288.3,649.3C1300.8,661.0 1313.3,672.9 1325.0,684.0C1336.7,695.1 1348.5,705.6 1358.3,715.8C1368.1,726.0 1376.0,735.2 1384.0,745.0C1392.0,754.8 1397.7,763.1 1406.4,774.8C1415.1,786.5 1426.2,801.2 1436.0,815.0C1445.8,828.8 1460.6,850.4 1465.5,857.5" fill="none" stroke="#1414c8" stroke-width="2.1" stroke-dasharray="8.5,4.5,2,5"/>
<g fill="#00ee00"><circle cx="1126.6" cy="548.1" r="6.8"/><circle cx="1228.1" cy="585.6" r="6.8"/><circle cx="1273.8" cy="615.7" r="6.8"/><circle cx="1289.5" cy="650.8" r="6.8"/><circle cx="1408.7" cy="685.1" r="6.8"/><circle cx="1396.6" cy="716.9" r="6.8"/><circle cx="1466.7" cy="752.8" r="6.8"/><circle cx="1452.4" cy="790.3" r="6.8"/><circle cx="1512.8" cy="823.6" r="6.8"/><circle cx="1504.6" cy="855.7" r="6.8"/><circle cx="1536.6" cy="513.6" r="6.8"/></g>
<g fill="#00ffff"><rect x="1203.6" y="541.6" width="12.9" height="12.9"/><rect x="1205.2" y="579.1" width="12.9" height="12.9"/><rect x="1260.5" y="609.2" width="12.9" height="12.9"/><rect x="1299.1" y="644.3" width="12.9" height="12.9"/><rect x="1357.8" y="678.6" width="12.9" height="12.9"/><rect x="1354.5" y="710.4" width="12.9" height="12.9"/><rect x="1384.5" y="746.3" width="12.9" height="12.9"/><rect x="1426.5" y="783.8" width="12.9" height="12.9"/><rect x="1433.6" y="817.0" width="12.9" height="12.9"/><rect x="1449.6" y="849.2" width="12.9" height="12.9"/><rect x="1530.1" y="533.0" width="12.9" height="12.9"/></g>
<g fill="#ff00ff"><polygon points="1172.0,538.6 1180.4,547.0 1172.0,555.4 1163.6,547.0"/><polygon points="1238.8,577.2 1247.2,585.6 1238.8,594.0 1230.4,585.6"/><polygon points="1292.2,607.3 1300.6,615.7 1292.2,624.1 1283.8,615.7"/><polygon points="1298.2,642.4 1306.6,650.8 1298.2,659.2 1289.8,650.8"/><polygon points="1374.1,676.7 1382.5,685.1 1374.1,693.5 1365.7,685.1"/><polygon points="1368.3,708.5 1376.7,716.9 1368.3,725.3 1359.9,716.9"/><polygon points="1384.7,744.4 1393.1,752.8 1384.7,761.2 1376.3,752.8"/><polygon points="1397.7,781.9 1406.1,790.3 1397.7,798.7 1389.3,790.3"/><polygon points="1396.0,815.1 1404.4,823.5 1396.0,831.9 1387.6,823.5"/><polygon points="1469.4,847.3 1477.8,855.7 1469.4,864.1 1461.0,855.7"/><polygon points="1536.6,556.9 1545.0,565.3 1536.6,573.7 1528.2,565.3"/></g>
<g fill="#e0583a"><polygon points="1167.6,540.9 1175.1,546.4 1172.2,555.2 1163.0,555.2 1160.1,546.4"/><polygon points="1178.3,578.4 1185.8,583.9 1182.9,592.7 1173.7,592.7 1170.8,583.9"/><polygon points="1215.4,608.5 1222.9,614.0 1220.0,622.8 1210.8,622.8 1207.9,614.0"/><polygon points="1244.1,643.6 1251.6,649.1 1248.7,657.9 1239.5,657.9 1236.6,649.1"/><polygon points="1329.8,677.9 1337.3,683.4 1334.4,692.2 1325.2,692.2 1322.3,683.4"/><polygon points="1363.2,709.7 1370.7,715.2 1367.8,724.0 1358.6,724.0 1355.7,715.2"/><polygon points="1355.0,745.6 1362.5,751.1 1359.6,759.9 1350.4,759.9 1347.5,751.1"/><polygon points="1372.9,783.1 1380.4,788.6 1377.5,797.4 1368.3,797.4 1365.4,788.6"/><polygon points="1375.5,816.3 1383.0,821.8 1380.1,830.6 1370.9,830.6 1368.0,821.8"/><polygon points="1398.1,848.5 1405.6,854.0 1402.7,862.8 1393.5,862.8 1390.6,854.0"/><polygon points="1536.6,583.2 1544.1,588.7 1541.2,597.5 1532.0,597.5 1529.1,588.7"/></g>
<g fill="#ff0000"><polygon points="1177.9,540.6 1184.1,544.4 1184.1,551.9 1177.9,555.6 1171.7,551.9 1171.7,544.4"/><polygon points="1193.5,578.1 1199.7,581.9 1199.7,589.4 1193.5,593.1 1187.3,589.4 1187.3,581.9"/><polygon points="1186.7,608.2 1192.9,612.0 1192.9,619.5 1186.7,623.2 1180.5,619.5 1180.5,612.0"/><polygon points="1260.9,643.3 1267.1,647.0 1267.1,654.5 1260.9,658.3 1254.7,654.5 1254.7,647.0"/><polygon points="1260.3,677.6 1266.5,681.4 1266.5,688.9 1260.3,692.6 1254.1,688.9 1254.1,681.4"/><polygon points="1324.5,709.4 1330.7,713.1 1330.7,720.6 1324.5,724.4 1318.3,720.6 1318.3,713.1"/><polygon points="1334.1,745.3 1340.3,749.0 1340.3,756.5 1334.1,760.3 1327.9,756.5 1327.9,749.0"/><polygon points="1361.8,782.8 1368.0,786.5 1368.0,794.0 1361.8,797.8 1355.6,794.0 1355.6,786.5"/><polygon points="1385.4,816.0 1391.6,819.8 1391.6,827.2 1385.4,831.0 1379.2,827.2 1379.2,819.8"/><polygon points="1387.4,848.2 1393.6,852.0 1393.6,859.5 1387.4,863.2 1381.2,859.5 1381.2,852.0"/><polygon points="1536.6,609.5 1542.8,613.2 1542.8,620.8 1536.6,624.5 1530.4,620.8 1530.4,613.2"/></g>
<text x="1566.3" y="521.0" font-size="22">150 s</text>
<text x="1566.3" y="547.1" font-size="22">300 s</text>
<text x="1566.3" y="573.2" font-size="22">450 s</text>
<text x="1566.3" y="598.8" font-size="22">600 s</text>
<text x="1566.3" y="624.6" font-size="22">750 s</text>
</svg></body></html>
